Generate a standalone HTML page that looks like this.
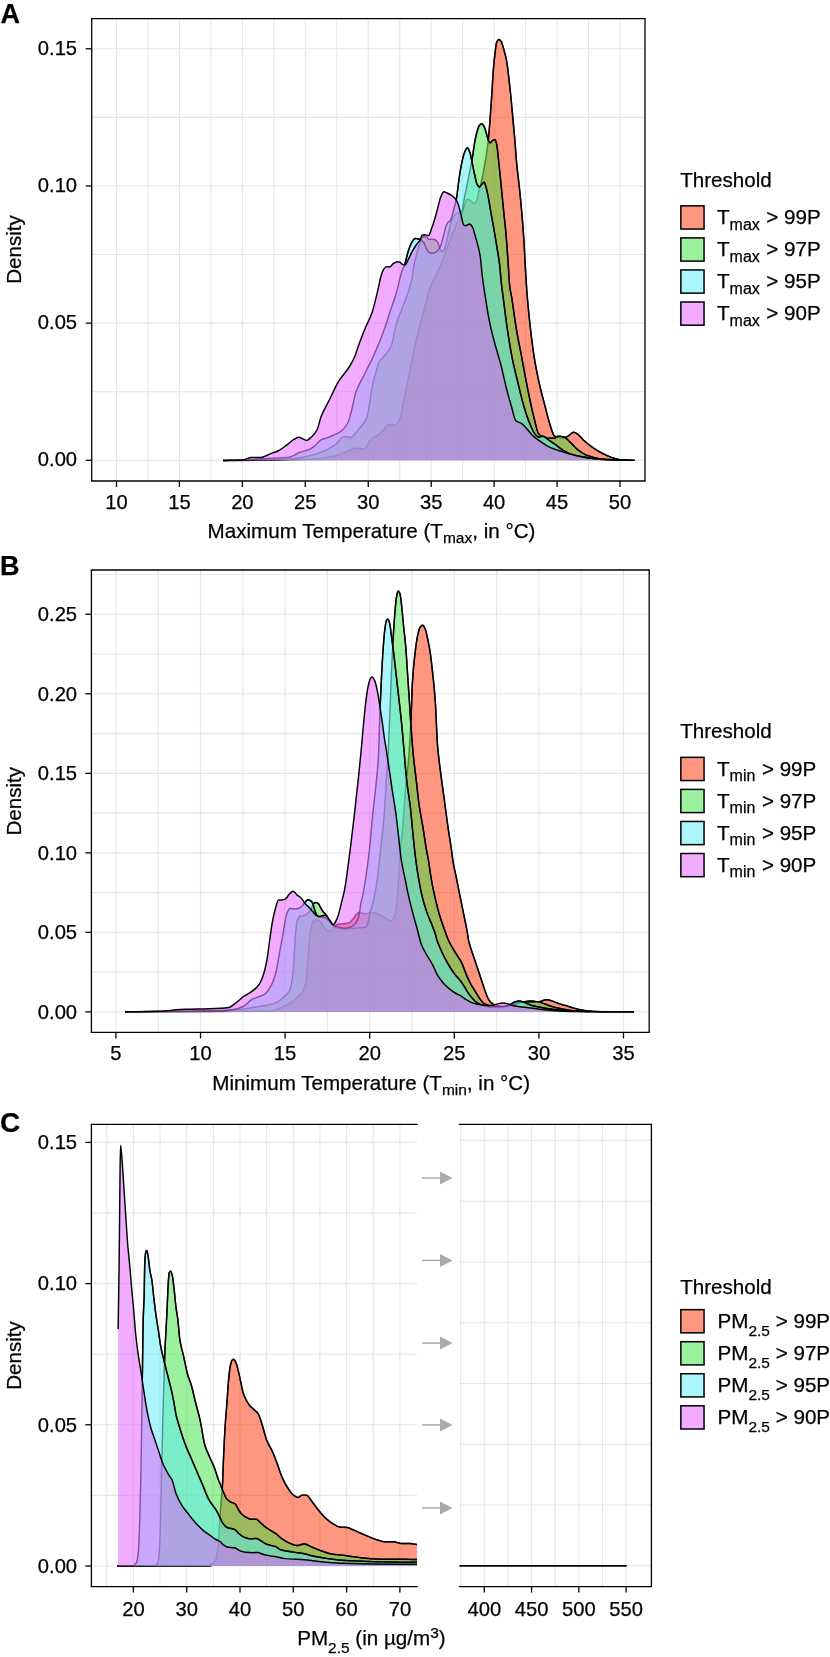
<!DOCTYPE html>
<html><head><meta charset="utf-8"><style>
html,body{margin:0;padding:0;background:#fff;width:830px;height:1657px;overflow:hidden}
svg{font-family:"Liberation Sans", sans-serif;fill:#000;will-change:transform}
text{fill:#000;stroke:#000;stroke-width:0.25px}
</style></head><body>
<svg width="830" height="1657" viewBox="0 0 830 1657" style="position:absolute;left:0;top:0">
<defs><clipPath id="clipC"><rect x="91.4" y="1124.4" width="325.6" height="462.2"/></clipPath></defs>
<line x1="116.50" y1="18.70" x2="116.50" y2="481.00" stroke="#e6e6e6" stroke-width="1.1"/>
<line x1="147.97" y1="18.70" x2="147.97" y2="481.00" stroke="#e6e6e6" stroke-width="1.1"/>
<line x1="179.44" y1="18.70" x2="179.44" y2="481.00" stroke="#e6e6e6" stroke-width="1.1"/>
<line x1="210.91" y1="18.70" x2="210.91" y2="481.00" stroke="#e6e6e6" stroke-width="1.1"/>
<line x1="242.38" y1="18.70" x2="242.38" y2="481.00" stroke="#e6e6e6" stroke-width="1.1"/>
<line x1="273.84" y1="18.70" x2="273.84" y2="481.00" stroke="#e6e6e6" stroke-width="1.1"/>
<line x1="305.31" y1="18.70" x2="305.31" y2="481.00" stroke="#e6e6e6" stroke-width="1.1"/>
<line x1="336.78" y1="18.70" x2="336.78" y2="481.00" stroke="#e6e6e6" stroke-width="1.1"/>
<line x1="368.25" y1="18.70" x2="368.25" y2="481.00" stroke="#e6e6e6" stroke-width="1.1"/>
<line x1="399.72" y1="18.70" x2="399.72" y2="481.00" stroke="#e6e6e6" stroke-width="1.1"/>
<line x1="431.19" y1="18.70" x2="431.19" y2="481.00" stroke="#e6e6e6" stroke-width="1.1"/>
<line x1="462.66" y1="18.70" x2="462.66" y2="481.00" stroke="#e6e6e6" stroke-width="1.1"/>
<line x1="494.12" y1="18.70" x2="494.12" y2="481.00" stroke="#e6e6e6" stroke-width="1.1"/>
<line x1="525.59" y1="18.70" x2="525.59" y2="481.00" stroke="#e6e6e6" stroke-width="1.1"/>
<line x1="557.06" y1="18.70" x2="557.06" y2="481.00" stroke="#e6e6e6" stroke-width="1.1"/>
<line x1="588.53" y1="18.70" x2="588.53" y2="481.00" stroke="#e6e6e6" stroke-width="1.1"/>
<line x1="620.00" y1="18.70" x2="620.00" y2="481.00" stroke="#e6e6e6" stroke-width="1.1"/>
<line x1="91.70" y1="460.30" x2="645.00" y2="460.30" stroke="#e6e6e6" stroke-width="1.1"/>
<line x1="91.70" y1="391.72" x2="645.00" y2="391.72" stroke="#e6e6e6" stroke-width="1.1"/>
<line x1="91.70" y1="323.13" x2="645.00" y2="323.13" stroke="#e6e6e6" stroke-width="1.1"/>
<line x1="91.70" y1="254.55" x2="645.00" y2="254.55" stroke="#e6e6e6" stroke-width="1.1"/>
<line x1="91.70" y1="185.97" x2="645.00" y2="185.97" stroke="#e6e6e6" stroke-width="1.1"/>
<line x1="91.70" y1="117.39" x2="645.00" y2="117.39" stroke="#e6e6e6" stroke-width="1.1"/>
<line x1="91.70" y1="48.80" x2="645.00" y2="48.80" stroke="#e6e6e6" stroke-width="1.1"/>

<path d="M223.00,460.30 L223.00,460.50 C235.33,460.43 247.67,460.40 260.00,460.30 C273.33,460.19 286.67,459.88 300.00,459.50 C306.33,459.32 312.67,459.14 319.00,458.70 C325.67,458.24 332.33,456.56 339.00,454.80 C344.67,453.31 350.33,448.10 356.00,448.10 C358.67,448.10 361.33,449.00 364.00,449.00 C366.33,449.00 368.67,441.36 371.00,439.40 C373.67,437.15 376.33,436.56 379.00,434.60 C382.33,432.15 385.67,424.90 389.00,424.90 C391.00,424.90 393.00,424.90 395.00,424.90 C396.67,424.90 398.33,421.77 400.00,418.20 C401.33,415.35 402.67,405.43 404.00,399.00 C405.33,392.57 406.67,386.05 408.00,379.60 C410.67,366.70 413.33,352.40 416.00,341.00 C418.33,331.02 420.67,322.73 423.00,314.00 C425.67,304.03 428.33,291.59 431.00,285.00 C433.00,280.06 435.00,277.74 437.00,273.50 C438.90,269.47 440.80,264.89 442.70,260.00 C444.13,256.31 445.57,251.86 447.00,248.00 C448.67,243.51 450.33,239.16 452.00,235.00 C453.67,230.84 455.33,226.55 457.00,223.00 C458.57,219.67 460.13,217.41 461.70,214.00 C463.63,209.79 465.57,199.20 467.50,199.20 C468.47,199.20 469.43,200.02 470.40,200.60 C471.60,201.32 472.80,203.50 474.00,203.50 C475.00,203.50 476.00,201.38 477.00,199.20 C477.80,197.45 478.60,192.11 479.40,189.00 C480.00,186.67 480.60,184.98 481.20,182.50 C481.93,179.46 482.67,175.57 483.40,171.70 C484.37,166.60 485.33,161.35 486.30,155.00 C486.97,150.62 487.63,146.14 488.30,140.00 C488.97,133.86 489.63,124.92 490.30,116.10 C490.83,109.04 491.37,100.67 491.90,92.60 C492.40,85.03 492.90,75.24 493.40,69.20 C493.93,62.76 494.47,57.81 495.00,53.50 C495.53,49.19 496.07,43.75 496.60,42.50 C497.37,40.70 498.13,39.40 498.90,39.40 C499.70,39.40 500.50,40.53 501.30,41.70 C502.07,42.83 502.83,46.14 503.60,48.80 C504.63,52.39 505.67,55.66 506.70,61.30 C507.37,64.94 508.03,71.43 508.70,77.00 C509.40,82.85 510.10,88.90 510.80,95.80 C511.47,102.37 512.13,110.40 512.80,117.70 C513.47,125.00 514.13,131.79 514.80,139.60 C515.43,147.02 516.07,156.78 516.70,163.50 C517.57,172.69 518.43,178.68 519.30,187.00 C520.07,194.36 520.83,201.72 521.60,210.50 C522.40,219.66 523.20,229.31 524.00,241.80 C524.50,249.61 525.00,261.72 525.50,270.00 C526.17,281.04 526.83,291.30 527.50,299.30 C528.47,310.90 529.43,319.81 530.40,328.20 C531.67,339.19 532.93,349.19 534.20,357.10 C535.80,367.09 537.40,374.93 539.00,382.20 C540.93,390.98 542.87,397.93 544.80,405.30 C546.73,412.67 548.67,420.88 550.60,426.50 C551.90,430.28 553.20,435.43 554.50,436.10 C557.07,437.42 559.63,438.10 562.20,438.10 C564.13,438.10 566.07,436.98 568.00,436.10 C569.90,435.24 571.80,432.30 573.70,432.30 C575.00,432.30 576.30,433.37 577.60,434.20 C579.53,435.44 581.47,438.26 583.40,440.00 C586.60,442.87 589.80,445.51 593.00,447.70 C596.23,449.92 599.47,451.90 602.70,453.50 C606.53,455.39 610.37,457.16 614.20,458.30 C616.13,458.87 618.07,459.53 620.00,459.70 C624.90,460.13 629.80,460.17 634.70,460.40 L634.70,460.30 Z" fill="#ff2d00" fill-opacity="0.50" stroke="none"/>
<path d="M223.00,460.50 C235.33,460.43 247.67,460.40 260.00,460.30 C273.33,460.19 286.67,459.88 300.00,459.50 C306.33,459.32 312.67,459.14 319.00,458.70 C325.67,458.24 332.33,456.56 339.00,454.80 C344.67,453.31 350.33,448.10 356.00,448.10 C358.67,448.10 361.33,449.00 364.00,449.00 C366.33,449.00 368.67,441.36 371.00,439.40 C373.67,437.15 376.33,436.56 379.00,434.60 C382.33,432.15 385.67,424.90 389.00,424.90 C391.00,424.90 393.00,424.90 395.00,424.90 C396.67,424.90 398.33,421.77 400.00,418.20 C401.33,415.35 402.67,405.43 404.00,399.00 C405.33,392.57 406.67,386.05 408.00,379.60 C410.67,366.70 413.33,352.40 416.00,341.00 C418.33,331.02 420.67,322.73 423.00,314.00 C425.67,304.03 428.33,291.59 431.00,285.00 C433.00,280.06 435.00,277.74 437.00,273.50 C438.90,269.47 440.80,264.89 442.70,260.00 C444.13,256.31 445.57,251.86 447.00,248.00 C448.67,243.51 450.33,239.16 452.00,235.00 C453.67,230.84 455.33,226.55 457.00,223.00 C458.57,219.67 460.13,217.41 461.70,214.00 C463.63,209.79 465.57,199.20 467.50,199.20 C468.47,199.20 469.43,200.02 470.40,200.60 C471.60,201.32 472.80,203.50 474.00,203.50 C475.00,203.50 476.00,201.38 477.00,199.20 C477.80,197.45 478.60,192.11 479.40,189.00 C480.00,186.67 480.60,184.98 481.20,182.50 C481.93,179.46 482.67,175.57 483.40,171.70 C484.37,166.60 485.33,161.35 486.30,155.00 C486.97,150.62 487.63,146.14 488.30,140.00 C488.97,133.86 489.63,124.92 490.30,116.10 C490.83,109.04 491.37,100.67 491.90,92.60 C492.40,85.03 492.90,75.24 493.40,69.20 C493.93,62.76 494.47,57.81 495.00,53.50 C495.53,49.19 496.07,43.75 496.60,42.50 C497.37,40.70 498.13,39.40 498.90,39.40 C499.70,39.40 500.50,40.53 501.30,41.70 C502.07,42.83 502.83,46.14 503.60,48.80 C504.63,52.39 505.67,55.66 506.70,61.30 C507.37,64.94 508.03,71.43 508.70,77.00 C509.40,82.85 510.10,88.90 510.80,95.80 C511.47,102.37 512.13,110.40 512.80,117.70 C513.47,125.00 514.13,131.79 514.80,139.60 C515.43,147.02 516.07,156.78 516.70,163.50 C517.57,172.69 518.43,178.68 519.30,187.00 C520.07,194.36 520.83,201.72 521.60,210.50 C522.40,219.66 523.20,229.31 524.00,241.80 C524.50,249.61 525.00,261.72 525.50,270.00 C526.17,281.04 526.83,291.30 527.50,299.30 C528.47,310.90 529.43,319.81 530.40,328.20 C531.67,339.19 532.93,349.19 534.20,357.10 C535.80,367.09 537.40,374.93 539.00,382.20 C540.93,390.98 542.87,397.93 544.80,405.30 C546.73,412.67 548.67,420.88 550.60,426.50 C551.90,430.28 553.20,435.43 554.50,436.10 C557.07,437.42 559.63,438.10 562.20,438.10 C564.13,438.10 566.07,436.98 568.00,436.10 C569.90,435.24 571.80,432.30 573.70,432.30 C575.00,432.30 576.30,433.37 577.60,434.20 C579.53,435.44 581.47,438.26 583.40,440.00 C586.60,442.87 589.80,445.51 593.00,447.70 C596.23,449.92 599.47,451.90 602.70,453.50 C606.53,455.39 610.37,457.16 614.20,458.30 C616.13,458.87 618.07,459.53 620.00,459.70 C624.90,460.13 629.80,460.17 634.70,460.40" fill="none" stroke="#000" stroke-opacity="0.75" stroke-width="1.45" stroke-linejoin="round"/>

<path d="M223.00,460.30 L223.00,460.50 C238.67,460.40 254.33,460.40 270.00,460.20 C280.00,460.07 290.00,459.00 300.00,457.70 C306.43,456.87 312.87,455.06 319.30,452.90 C324.43,451.17 329.57,448.58 334.70,445.20 C337.90,443.09 341.10,436.50 344.30,436.50 C346.23,436.50 348.17,437.50 350.10,437.50 C353.33,437.50 356.57,431.65 359.80,427.80 C362.03,425.14 364.27,423.46 366.50,418.20 C367.47,415.92 368.43,409.93 369.40,404.70 C370.37,399.47 371.33,390.70 372.30,386.00 C373.70,379.19 375.10,374.76 376.50,370.00 C377.33,367.17 378.17,363.71 379.00,362.20 C380.93,358.69 382.87,357.98 384.80,355.40 C387.07,352.38 389.33,350.17 391.60,344.80 C393.20,341.01 394.80,328.95 396.40,323.60 C398.33,317.14 400.27,313.33 402.20,308.20 C404.13,303.07 406.07,298.74 408.00,292.80 C409.27,288.91 410.53,285.49 411.80,279.30 C412.43,276.20 413.07,269.29 413.70,266.00 C414.77,260.47 415.83,257.31 416.90,253.30 C417.77,250.04 418.63,246.67 419.50,244.00 C420.23,241.74 420.97,238.90 421.70,238.00 C422.47,237.06 423.23,236.20 424.00,236.20 C424.87,236.20 425.73,236.73 426.60,237.20 C427.40,237.64 428.20,239.40 429.00,239.40 C429.97,239.40 430.93,239.10 431.90,239.10 C433.00,239.10 434.10,239.40 435.20,239.80 C436.17,240.15 437.13,241.32 438.10,243.00 C438.57,243.81 439.03,246.33 439.50,247.50 C440.17,249.17 440.83,251.50 441.50,251.50 C442.50,251.50 443.50,250.38 444.50,249.00 C445.33,247.85 446.17,243.43 447.00,240.00 C447.83,236.57 448.67,231.32 449.50,228.00 C450.33,224.68 451.17,221.38 452.00,219.50 C453.00,217.24 454.00,215.27 455.00,214.50 C456.00,213.73 457.00,213.45 458.00,213.00 C459.23,212.45 460.47,212.46 461.70,211.50 C462.67,210.75 463.63,201.83 464.60,197.00 C465.57,192.17 466.53,187.32 467.50,182.50 C468.47,177.68 469.43,173.08 470.40,168.10 C471.03,164.84 471.67,161.72 472.30,158.00 C473.07,153.50 473.83,146.96 474.60,142.80 C475.40,138.46 476.20,134.54 477.00,131.80 C477.77,129.18 478.53,126.41 479.30,125.50 C480.10,124.55 480.90,123.70 481.70,123.70 C482.47,123.70 483.23,125.05 484.00,126.30 C484.80,127.60 485.60,130.87 486.40,133.40 C487.17,135.82 487.93,140.05 488.70,141.20 C489.23,142.00 489.77,142.80 490.30,142.80 C491.07,142.80 491.83,140.79 492.60,140.40 C493.40,139.99 494.20,139.60 495.00,139.60 C495.53,139.60 496.07,141.85 496.60,144.00 C497.37,147.09 498.13,156.54 498.90,163.50 C499.70,170.77 500.50,179.00 501.30,187.00 C502.07,194.67 502.83,202.83 503.60,210.50 C504.40,218.50 505.20,224.88 506.00,234.00 C506.77,242.74 507.53,254.25 508.30,265.30 C508.73,271.54 509.17,281.13 509.60,285.00 C510.40,292.15 511.20,294.21 512.00,299.30 C513.30,307.58 514.60,318.42 515.90,326.30 C517.83,338.02 519.77,346.82 521.70,357.10 C523.63,367.38 525.57,378.41 527.50,388.00 C529.43,397.59 531.37,407.34 533.30,414.90 C535.20,422.33 537.10,432.46 539.00,434.20 C541.57,436.55 544.13,438.10 546.70,438.10 C549.30,438.10 551.90,438.10 554.50,438.10 C555.77,438.10 557.03,436.10 558.30,436.10 C560.23,436.10 562.17,436.55 564.10,437.10 C566.03,437.65 567.97,440.16 569.90,441.90 C572.47,444.21 575.03,447.65 577.60,449.60 C580.80,452.03 584.00,454.31 587.20,455.40 C593.00,457.38 598.80,458.91 604.60,459.30 C614.63,459.97 624.67,460.03 634.70,460.40 L634.70,460.30 Z" fill="#3ce13c" fill-opacity="0.50" stroke="none"/>
<path d="M223.00,460.50 C238.67,460.40 254.33,460.40 270.00,460.20 C280.00,460.07 290.00,459.00 300.00,457.70 C306.43,456.87 312.87,455.06 319.30,452.90 C324.43,451.17 329.57,448.58 334.70,445.20 C337.90,443.09 341.10,436.50 344.30,436.50 C346.23,436.50 348.17,437.50 350.10,437.50 C353.33,437.50 356.57,431.65 359.80,427.80 C362.03,425.14 364.27,423.46 366.50,418.20 C367.47,415.92 368.43,409.93 369.40,404.70 C370.37,399.47 371.33,390.70 372.30,386.00 C373.70,379.19 375.10,374.76 376.50,370.00 C377.33,367.17 378.17,363.71 379.00,362.20 C380.93,358.69 382.87,357.98 384.80,355.40 C387.07,352.38 389.33,350.17 391.60,344.80 C393.20,341.01 394.80,328.95 396.40,323.60 C398.33,317.14 400.27,313.33 402.20,308.20 C404.13,303.07 406.07,298.74 408.00,292.80 C409.27,288.91 410.53,285.49 411.80,279.30 C412.43,276.20 413.07,269.29 413.70,266.00 C414.77,260.47 415.83,257.31 416.90,253.30 C417.77,250.04 418.63,246.67 419.50,244.00 C420.23,241.74 420.97,238.90 421.70,238.00 C422.47,237.06 423.23,236.20 424.00,236.20 C424.87,236.20 425.73,236.73 426.60,237.20 C427.40,237.64 428.20,239.40 429.00,239.40 C429.97,239.40 430.93,239.10 431.90,239.10 C433.00,239.10 434.10,239.40 435.20,239.80 C436.17,240.15 437.13,241.32 438.10,243.00 C438.57,243.81 439.03,246.33 439.50,247.50 C440.17,249.17 440.83,251.50 441.50,251.50 C442.50,251.50 443.50,250.38 444.50,249.00 C445.33,247.85 446.17,243.43 447.00,240.00 C447.83,236.57 448.67,231.32 449.50,228.00 C450.33,224.68 451.17,221.38 452.00,219.50 C453.00,217.24 454.00,215.27 455.00,214.50 C456.00,213.73 457.00,213.45 458.00,213.00 C459.23,212.45 460.47,212.46 461.70,211.50 C462.67,210.75 463.63,201.83 464.60,197.00 C465.57,192.17 466.53,187.32 467.50,182.50 C468.47,177.68 469.43,173.08 470.40,168.10 C471.03,164.84 471.67,161.72 472.30,158.00 C473.07,153.50 473.83,146.96 474.60,142.80 C475.40,138.46 476.20,134.54 477.00,131.80 C477.77,129.18 478.53,126.41 479.30,125.50 C480.10,124.55 480.90,123.70 481.70,123.70 C482.47,123.70 483.23,125.05 484.00,126.30 C484.80,127.60 485.60,130.87 486.40,133.40 C487.17,135.82 487.93,140.05 488.70,141.20 C489.23,142.00 489.77,142.80 490.30,142.80 C491.07,142.80 491.83,140.79 492.60,140.40 C493.40,139.99 494.20,139.60 495.00,139.60 C495.53,139.60 496.07,141.85 496.60,144.00 C497.37,147.09 498.13,156.54 498.90,163.50 C499.70,170.77 500.50,179.00 501.30,187.00 C502.07,194.67 502.83,202.83 503.60,210.50 C504.40,218.50 505.20,224.88 506.00,234.00 C506.77,242.74 507.53,254.25 508.30,265.30 C508.73,271.54 509.17,281.13 509.60,285.00 C510.40,292.15 511.20,294.21 512.00,299.30 C513.30,307.58 514.60,318.42 515.90,326.30 C517.83,338.02 519.77,346.82 521.70,357.10 C523.63,367.38 525.57,378.41 527.50,388.00 C529.43,397.59 531.37,407.34 533.30,414.90 C535.20,422.33 537.10,432.46 539.00,434.20 C541.57,436.55 544.13,438.10 546.70,438.10 C549.30,438.10 551.90,438.10 554.50,438.10 C555.77,438.10 557.03,436.10 558.30,436.10 C560.23,436.10 562.17,436.55 564.10,437.10 C566.03,437.65 567.97,440.16 569.90,441.90 C572.47,444.21 575.03,447.65 577.60,449.60 C580.80,452.03 584.00,454.31 587.20,455.40 C593.00,457.38 598.80,458.91 604.60,459.30 C614.63,459.97 624.67,460.03 634.70,460.40" fill="none" stroke="#000" stroke-opacity="0.75" stroke-width="1.45" stroke-linejoin="round"/>

<path d="M223.00,460.30 L223.00,460.50 C230.67,460.37 238.33,460.33 246.00,460.10 C251.33,459.94 256.67,458.98 262.00,458.70 C266.33,458.47 270.67,458.41 275.00,458.20 C279.33,457.99 283.67,457.90 288.00,457.40 C290.00,457.17 292.00,456.14 294.00,455.30 C295.87,454.52 297.73,453.12 299.60,452.40 C302.50,451.28 305.40,450.96 308.30,449.80 C310.20,449.04 312.10,447.92 314.00,446.60 C316.43,444.90 318.87,440.87 321.30,439.70 C322.77,438.99 324.23,438.73 325.70,438.20 C328.07,437.35 330.43,436.51 332.80,435.50 C335.37,434.40 337.93,433.52 340.50,431.70 C343.07,429.88 345.63,427.03 348.20,422.00 C349.47,419.52 350.73,413.48 352.00,408.60 C353.30,403.59 354.60,395.77 355.90,392.00 C358.47,384.55 361.03,381.26 363.60,376.00 C366.83,369.37 370.07,363.50 373.30,356.40 C376.50,349.37 379.70,341.90 382.90,333.30 C385.47,326.40 388.03,317.79 390.60,310.10 C392.53,304.31 394.47,299.45 396.40,292.80 C398.00,287.29 399.60,278.58 401.20,273.50 C402.47,269.48 403.73,267.35 405.00,263.40 C406.13,259.87 407.27,254.07 408.40,250.70 C409.53,247.33 410.67,244.04 411.80,242.30 C412.93,240.56 414.07,238.50 415.20,238.50 C416.17,238.50 417.13,238.71 418.10,238.90 C418.83,239.04 419.57,239.27 420.30,239.60 C421.43,240.11 422.57,241.07 423.70,242.50 C424.50,243.51 425.30,246.32 426.10,247.80 C427.07,249.59 428.03,251.94 429.00,252.40 C430.10,252.92 431.20,253.30 432.30,253.30 C433.60,253.30 434.90,252.55 436.20,251.80 C437.17,251.24 438.13,250.01 439.10,248.70 C439.57,248.07 440.03,247.34 440.50,246.30 C441.00,245.19 441.50,243.23 442.00,241.50 C442.63,239.31 443.27,236.80 443.90,234.30 C444.53,231.80 445.17,228.12 445.80,226.50 C446.47,224.79 447.13,223.70 447.80,222.80 C448.77,221.49 449.73,221.41 450.70,219.80 C451.23,218.91 451.77,216.29 452.30,214.50 C453.03,212.04 453.77,209.85 454.50,207.00 C455.20,204.28 455.90,201.45 456.60,197.50 C457.40,192.98 458.20,184.63 459.00,179.20 C459.77,173.99 460.53,168.82 461.30,165.10 C462.37,159.92 463.43,154.99 464.50,152.50 C465.43,150.32 466.37,147.80 467.30,147.80 C468.17,147.80 469.03,150.24 469.90,152.50 C470.70,154.59 471.50,159.75 472.30,163.50 C473.07,167.09 473.83,171.20 474.60,174.50 C475.40,177.95 476.20,182.30 477.00,183.90 C477.77,185.43 478.53,187.00 479.30,187.00 C480.10,187.00 480.90,185.40 481.70,184.60 C482.47,183.83 483.23,182.30 484.00,182.30 C484.80,182.30 485.60,185.89 486.40,188.60 C487.17,191.20 487.93,195.48 488.70,199.50 C489.50,203.69 490.30,209.03 491.10,213.60 C492.13,219.50 493.17,224.81 494.20,230.80 C495.23,236.79 496.27,243.09 497.30,249.60 C498.10,254.64 498.90,258.49 499.70,265.30 C500.13,268.99 500.57,275.86 501.00,280.00 C501.80,287.65 502.60,293.03 503.40,299.30 C504.67,309.22 505.93,319.65 507.20,328.20 C508.80,339.00 510.40,349.00 512.00,357.10 C513.93,366.89 515.87,374.18 517.80,382.20 C519.73,390.22 521.67,398.68 523.60,405.30 C525.53,411.92 527.47,418.08 529.40,422.70 C531.33,427.32 533.27,432.13 535.20,434.20 C536.47,435.55 537.73,437.10 539.00,437.10 C540.30,437.10 541.60,436.10 542.90,436.10 C544.83,436.10 546.77,438.70 548.70,440.00 C550.63,441.30 552.57,442.54 554.50,443.90 C557.07,445.70 559.63,448.04 562.20,449.60 C565.40,451.55 568.60,453.53 571.80,454.50 C576.30,455.86 580.80,456.59 585.30,457.30 C591.73,458.32 598.17,459.43 604.60,459.70 C614.63,460.11 624.67,460.17 634.70,460.40 L634.70,460.30 Z" fill="#5aebf5" fill-opacity="0.50" stroke="none"/>
<path d="M223.00,460.50 C230.67,460.37 238.33,460.33 246.00,460.10 C251.33,459.94 256.67,458.98 262.00,458.70 C266.33,458.47 270.67,458.41 275.00,458.20 C279.33,457.99 283.67,457.90 288.00,457.40 C290.00,457.17 292.00,456.14 294.00,455.30 C295.87,454.52 297.73,453.12 299.60,452.40 C302.50,451.28 305.40,450.96 308.30,449.80 C310.20,449.04 312.10,447.92 314.00,446.60 C316.43,444.90 318.87,440.87 321.30,439.70 C322.77,438.99 324.23,438.73 325.70,438.20 C328.07,437.35 330.43,436.51 332.80,435.50 C335.37,434.40 337.93,433.52 340.50,431.70 C343.07,429.88 345.63,427.03 348.20,422.00 C349.47,419.52 350.73,413.48 352.00,408.60 C353.30,403.59 354.60,395.77 355.90,392.00 C358.47,384.55 361.03,381.26 363.60,376.00 C366.83,369.37 370.07,363.50 373.30,356.40 C376.50,349.37 379.70,341.90 382.90,333.30 C385.47,326.40 388.03,317.79 390.60,310.10 C392.53,304.31 394.47,299.45 396.40,292.80 C398.00,287.29 399.60,278.58 401.20,273.50 C402.47,269.48 403.73,267.35 405.00,263.40 C406.13,259.87 407.27,254.07 408.40,250.70 C409.53,247.33 410.67,244.04 411.80,242.30 C412.93,240.56 414.07,238.50 415.20,238.50 C416.17,238.50 417.13,238.71 418.10,238.90 C418.83,239.04 419.57,239.27 420.30,239.60 C421.43,240.11 422.57,241.07 423.70,242.50 C424.50,243.51 425.30,246.32 426.10,247.80 C427.07,249.59 428.03,251.94 429.00,252.40 C430.10,252.92 431.20,253.30 432.30,253.30 C433.60,253.30 434.90,252.55 436.20,251.80 C437.17,251.24 438.13,250.01 439.10,248.70 C439.57,248.07 440.03,247.34 440.50,246.30 C441.00,245.19 441.50,243.23 442.00,241.50 C442.63,239.31 443.27,236.80 443.90,234.30 C444.53,231.80 445.17,228.12 445.80,226.50 C446.47,224.79 447.13,223.70 447.80,222.80 C448.77,221.49 449.73,221.41 450.70,219.80 C451.23,218.91 451.77,216.29 452.30,214.50 C453.03,212.04 453.77,209.85 454.50,207.00 C455.20,204.28 455.90,201.45 456.60,197.50 C457.40,192.98 458.20,184.63 459.00,179.20 C459.77,173.99 460.53,168.82 461.30,165.10 C462.37,159.92 463.43,154.99 464.50,152.50 C465.43,150.32 466.37,147.80 467.30,147.80 C468.17,147.80 469.03,150.24 469.90,152.50 C470.70,154.59 471.50,159.75 472.30,163.50 C473.07,167.09 473.83,171.20 474.60,174.50 C475.40,177.95 476.20,182.30 477.00,183.90 C477.77,185.43 478.53,187.00 479.30,187.00 C480.10,187.00 480.90,185.40 481.70,184.60 C482.47,183.83 483.23,182.30 484.00,182.30 C484.80,182.30 485.60,185.89 486.40,188.60 C487.17,191.20 487.93,195.48 488.70,199.50 C489.50,203.69 490.30,209.03 491.10,213.60 C492.13,219.50 493.17,224.81 494.20,230.80 C495.23,236.79 496.27,243.09 497.30,249.60 C498.10,254.64 498.90,258.49 499.70,265.30 C500.13,268.99 500.57,275.86 501.00,280.00 C501.80,287.65 502.60,293.03 503.40,299.30 C504.67,309.22 505.93,319.65 507.20,328.20 C508.80,339.00 510.40,349.00 512.00,357.10 C513.93,366.89 515.87,374.18 517.80,382.20 C519.73,390.22 521.67,398.68 523.60,405.30 C525.53,411.92 527.47,418.08 529.40,422.70 C531.33,427.32 533.27,432.13 535.20,434.20 C536.47,435.55 537.73,437.10 539.00,437.10 C540.30,437.10 541.60,436.10 542.90,436.10 C544.83,436.10 546.77,438.70 548.70,440.00 C550.63,441.30 552.57,442.54 554.50,443.90 C557.07,445.70 559.63,448.04 562.20,449.60 C565.40,451.55 568.60,453.53 571.80,454.50 C576.30,455.86 580.80,456.59 585.30,457.30 C591.73,458.32 598.17,459.43 604.60,459.70 C614.63,460.11 624.67,460.17 634.70,460.40" fill="none" stroke="#000" stroke-opacity="0.75" stroke-width="1.45" stroke-linejoin="round"/>

<path d="M223.00,460.30 L223.00,460.50 C229.77,460.20 236.53,460.17 243.30,459.60 C245.93,459.38 248.57,457.50 251.20,457.50 C254.33,457.50 257.47,457.50 260.60,457.50 C263.97,457.50 267.33,454.84 270.70,453.60 C273.13,452.70 275.57,452.12 278.00,451.00 C280.87,449.67 283.73,447.30 286.60,445.20 C289.03,443.42 291.47,440.75 293.90,439.40 C295.57,438.47 297.23,437.20 298.90,437.20 C300.10,437.20 301.30,438.21 302.50,438.70 C303.90,439.28 305.30,440.40 306.70,440.40 C308.20,440.40 309.70,438.54 311.20,437.20 C313.13,435.47 315.07,433.56 317.00,430.00 C318.40,427.42 319.80,419.87 321.20,416.30 C323.77,409.76 326.33,405.95 328.90,400.80 C332.13,394.31 335.37,386.65 338.60,381.40 C342.13,375.67 345.67,372.59 349.20,367.00 C350.80,364.47 352.40,361.83 354.00,358.30 C355.60,354.77 357.20,349.12 358.80,344.80 C361.03,338.77 363.27,332.88 365.50,327.50 C367.67,322.28 369.83,319.00 372.00,312.80 C373.30,309.08 374.60,303.61 375.90,298.40 C376.87,294.53 377.83,290.09 378.80,285.80 C379.43,282.99 380.07,279.36 380.70,277.20 C381.67,273.90 382.63,270.90 383.60,269.50 C384.57,268.10 385.53,266.60 386.50,266.60 C387.47,266.60 388.43,267.00 389.40,267.00 C390.70,267.00 392.00,264.54 393.30,263.70 C394.57,262.88 395.83,261.70 397.10,261.70 C398.07,261.70 399.03,261.91 400.00,262.20 C400.67,262.40 401.33,263.64 402.00,264.00 C403.00,264.54 404.00,265.10 405.00,265.10 C406.13,265.10 407.27,261.29 408.40,259.20 C409.83,256.56 411.27,253.23 412.70,250.70 C414.10,248.23 415.50,245.97 416.90,244.00 C418.00,242.45 419.10,241.73 420.20,239.80 C420.77,238.81 421.33,235.83 421.90,235.50 C422.77,235.00 423.63,234.70 424.50,234.70 C425.90,234.70 427.30,235.50 428.70,235.50 C429.53,235.50 430.37,231.78 431.20,229.60 C432.33,226.64 433.47,223.24 434.60,219.50 C435.73,215.76 436.87,211.11 438.00,206.90 C438.83,203.81 439.67,199.61 440.50,197.60 C441.63,194.87 442.77,191.70 443.90,191.70 C445.00,191.70 446.10,192.49 447.20,193.00 C448.90,193.78 450.60,194.64 452.30,195.90 C453.43,196.74 454.57,197.76 455.70,199.30 C456.53,200.43 457.37,202.13 458.20,204.30 C459.03,206.47 459.87,210.60 460.70,213.60 C461.83,217.68 462.97,225.40 464.10,225.40 C464.93,225.40 465.77,225.40 466.60,225.40 C467.57,225.40 468.53,224.00 469.50,224.00 C470.50,224.00 471.50,225.45 472.50,227.00 C473.37,228.34 474.23,232.42 475.10,235.50 C476.73,241.30 478.37,245.52 480.00,255.00 C480.83,259.84 481.67,271.54 482.50,278.00 C483.37,284.72 484.23,289.85 485.10,295.40 C486.37,303.51 487.63,312.09 488.90,318.60 C490.20,325.28 491.50,330.70 492.80,335.90 C494.40,342.31 496.00,347.58 497.60,353.30 C498.87,357.83 500.13,361.79 501.40,366.70 C503.03,373.03 504.67,381.57 506.30,388.00 C507.90,394.30 509.50,399.87 511.10,405.30 C512.70,410.73 514.30,419.28 515.90,420.70 C517.83,422.41 519.77,422.30 521.70,423.60 C523.30,424.68 524.90,426.71 526.50,428.40 C528.77,430.80 531.03,434.04 533.30,436.10 C535.87,438.43 538.43,440.17 541.00,441.90 C544.20,444.05 547.40,446.31 550.60,447.70 C554.47,449.39 558.33,450.42 562.20,451.60 C567.97,453.36 573.73,455.22 579.50,456.40 C584.63,457.45 589.77,458.48 594.90,458.90 C603.27,459.59 611.63,460.03 620.00,460.20 C624.90,460.30 629.80,460.33 634.70,460.40 L634.70,460.30 Z" fill="#e65aff" fill-opacity="0.50" stroke="none"/>
<path d="M223.00,460.50 C229.77,460.20 236.53,460.17 243.30,459.60 C245.93,459.38 248.57,457.50 251.20,457.50 C254.33,457.50 257.47,457.50 260.60,457.50 C263.97,457.50 267.33,454.84 270.70,453.60 C273.13,452.70 275.57,452.12 278.00,451.00 C280.87,449.67 283.73,447.30 286.60,445.20 C289.03,443.42 291.47,440.75 293.90,439.40 C295.57,438.47 297.23,437.20 298.90,437.20 C300.10,437.20 301.30,438.21 302.50,438.70 C303.90,439.28 305.30,440.40 306.70,440.40 C308.20,440.40 309.70,438.54 311.20,437.20 C313.13,435.47 315.07,433.56 317.00,430.00 C318.40,427.42 319.80,419.87 321.20,416.30 C323.77,409.76 326.33,405.95 328.90,400.80 C332.13,394.31 335.37,386.65 338.60,381.40 C342.13,375.67 345.67,372.59 349.20,367.00 C350.80,364.47 352.40,361.83 354.00,358.30 C355.60,354.77 357.20,349.12 358.80,344.80 C361.03,338.77 363.27,332.88 365.50,327.50 C367.67,322.28 369.83,319.00 372.00,312.80 C373.30,309.08 374.60,303.61 375.90,298.40 C376.87,294.53 377.83,290.09 378.80,285.80 C379.43,282.99 380.07,279.36 380.70,277.20 C381.67,273.90 382.63,270.90 383.60,269.50 C384.57,268.10 385.53,266.60 386.50,266.60 C387.47,266.60 388.43,267.00 389.40,267.00 C390.70,267.00 392.00,264.54 393.30,263.70 C394.57,262.88 395.83,261.70 397.10,261.70 C398.07,261.70 399.03,261.91 400.00,262.20 C400.67,262.40 401.33,263.64 402.00,264.00 C403.00,264.54 404.00,265.10 405.00,265.10 C406.13,265.10 407.27,261.29 408.40,259.20 C409.83,256.56 411.27,253.23 412.70,250.70 C414.10,248.23 415.50,245.97 416.90,244.00 C418.00,242.45 419.10,241.73 420.20,239.80 C420.77,238.81 421.33,235.83 421.90,235.50 C422.77,235.00 423.63,234.70 424.50,234.70 C425.90,234.70 427.30,235.50 428.70,235.50 C429.53,235.50 430.37,231.78 431.20,229.60 C432.33,226.64 433.47,223.24 434.60,219.50 C435.73,215.76 436.87,211.11 438.00,206.90 C438.83,203.81 439.67,199.61 440.50,197.60 C441.63,194.87 442.77,191.70 443.90,191.70 C445.00,191.70 446.10,192.49 447.20,193.00 C448.90,193.78 450.60,194.64 452.30,195.90 C453.43,196.74 454.57,197.76 455.70,199.30 C456.53,200.43 457.37,202.13 458.20,204.30 C459.03,206.47 459.87,210.60 460.70,213.60 C461.83,217.68 462.97,225.40 464.10,225.40 C464.93,225.40 465.77,225.40 466.60,225.40 C467.57,225.40 468.53,224.00 469.50,224.00 C470.50,224.00 471.50,225.45 472.50,227.00 C473.37,228.34 474.23,232.42 475.10,235.50 C476.73,241.30 478.37,245.52 480.00,255.00 C480.83,259.84 481.67,271.54 482.50,278.00 C483.37,284.72 484.23,289.85 485.10,295.40 C486.37,303.51 487.63,312.09 488.90,318.60 C490.20,325.28 491.50,330.70 492.80,335.90 C494.40,342.31 496.00,347.58 497.60,353.30 C498.87,357.83 500.13,361.79 501.40,366.70 C503.03,373.03 504.67,381.57 506.30,388.00 C507.90,394.30 509.50,399.87 511.10,405.30 C512.70,410.73 514.30,419.28 515.90,420.70 C517.83,422.41 519.77,422.30 521.70,423.60 C523.30,424.68 524.90,426.71 526.50,428.40 C528.77,430.80 531.03,434.04 533.30,436.10 C535.87,438.43 538.43,440.17 541.00,441.90 C544.20,444.05 547.40,446.31 550.60,447.70 C554.47,449.39 558.33,450.42 562.20,451.60 C567.97,453.36 573.73,455.22 579.50,456.40 C584.63,457.45 589.77,458.48 594.90,458.90 C603.27,459.59 611.63,460.03 620.00,460.20 C624.90,460.30 629.80,460.33 634.70,460.40" fill="none" stroke="#000" stroke-opacity="1" stroke-width="1.45" stroke-linejoin="round"/>

<path d="M488.30,140.00 L488.47,138.41 L488.63,136.71 L488.80,134.91 L488.97,133.03 L489.13,131.08 L489.30,129.05 L489.47,126.97 L489.63,124.85 L489.80,122.69 L489.97,120.51 L490.13,118.31 L490.30,116.10 L490.43,114.31 L490.57,112.47 L490.70,110.59 L490.83,108.67 L490.97,106.71 L491.10,104.73 L491.23,102.73 L491.37,100.71 L491.50,98.69 L491.63,96.65 L491.77,94.62 L491.90,92.60 L492.02,90.67 L492.15,88.66 L492.27,86.60 L492.40,84.51 L492.52,82.41 L492.65,80.33 L492.77,78.27 L492.90,76.27 L493.02,74.34 L493.15,72.50 L493.27,70.78 L493.40,69.20 L493.53,67.62 L493.67,66.10 L493.80,64.64 L493.93,63.23 L494.07,61.86 L494.20,60.55 L494.33,59.28 L494.47,58.06 L494.60,56.87 L494.73,55.71 L494.87,54.59 L495.00,53.50 L495.13,52.40 L495.27,51.27 L495.40,50.14 L495.53,49.01 L495.67,47.91 L495.80,46.85 L495.93,45.86 L496.07,44.95 L496.20,44.14 L496.33,43.45 L496.47,42.90 L496.60,42.50 L496.79,42.06 L496.98,41.65 L497.18,41.26 L497.37,40.90 L497.56,40.57 L497.75,40.27 L497.94,40.02 L498.13,39.80 L498.32,39.63 L498.52,39.50 L498.71,39.43 L498.90,39.40 L499.10,39.42 L499.30,39.49 L499.50,39.59 L499.70,39.74 L499.90,39.91 L500.10,40.11 L500.30,40.34 L500.50,40.58 L500.70,40.85 L500.90,41.12 L501.10,41.41 L501.30,41.70 L501.49,42.03 L501.68,42.43 L501.88,42.91 L502.07,43.45 L502.26,44.04 L502.45,44.67 L502.64,45.34 L502.83,46.03 L503.03,46.73 L503.22,47.43 L503.41,48.12 L503.60,48.80 L503.86,49.69 L504.12,50.58 L504.38,51.48 L504.63,52.38 L504.89,53.32 L505.15,54.28 L505.41,55.29 L505.67,56.35 L505.92,57.47 L506.18,58.67 L506.44,59.94 L506.70,61.30 L506.87,62.27 L507.03,63.34 L507.20,64.50 L507.37,65.75 L507.53,67.06 L507.70,68.42 L507.87,69.83 L508.03,71.26 L508.20,72.71 L508.37,74.15 L508.53,75.59 L508.70,77.00 L508.87,78.47 L509.05,79.95 L509.22,81.44 L509.40,82.94 L509.57,84.46 L509.75,86.01 L509.92,87.57 L510.10,89.16 L510.27,90.77 L510.45,92.42 L510.63,94.09 L510.80,95.80 L510.97,97.47 L511.13,99.20 L511.30,100.97 L511.47,102.78 L511.63,104.62 L511.80,106.48 L511.97,108.35 L512.13,110.24 L512.30,112.12 L512.47,114.00 L512.63,115.86 L512.80,117.70 L512.97,119.52 L513.13,121.31 L513.30,123.10 L513.47,124.89 L513.63,126.67 L513.80,128.46 L513.97,130.26 L514.13,132.07 L514.30,133.91 L514.47,135.77 L514.63,137.67 L514.80,139.60 L514.96,141.50 L515.12,143.48 L515.27,145.52 L515.43,147.60 L515.59,149.70 L515.75,151.81 L515.91,153.91 L516.07,155.97 L516.23,157.97 L516.38,159.91 L516.54,161.76 L516.70,163.50 L516.92,165.73 L517.13,167.86 L517.35,169.88 L517.57,171.83 L517.78,173.72 L518.00,175.58 L518.22,177.41 L518.43,179.25 L518.65,181.11 L518.87,183.01 L519.08,184.96 L519.30,187.00 L519.49,188.84 L519.68,190.69 L519.88,192.54 L520.07,194.41 L520.26,196.30 L520.45,198.22 L520.64,200.16 L520.83,202.14 L521.03,204.16 L521.22,206.22 L521.41,208.33 L521.60,210.50 L521.80,212.80 L522.00,215.13 L522.20,217.50 L522.40,219.91 L522.60,222.37 L522.80,224.90 L523.00,227.49 L523.20,230.17 L523.40,232.93 L523.60,235.78 L523.80,238.73 L524.00,241.80 L524.12,243.84 L524.25,246.03 L524.38,248.34 L524.50,250.74 L524.62,253.21 L524.75,255.72 L524.88,258.24 L525.00,260.74 L525.12,263.20 L525.25,265.58 L525.38,267.85 L525.50,270.00 L525.67,272.74 L525.83,275.45 L526.00,278.11 L526.17,280.73 L526.33,283.29 L526.50,285.79 L526.67,288.23 L526.83,290.60 L527.00,292.90 L527.17,295.12 L527.33,297.25 L527.50,299.30 L527.74,302.15 L527.98,304.89 L528.23,307.53 L528.47,310.08 L528.71,312.56 L528.95,314.95 L529.19,317.29 L529.43,319.56 L529.67,321.78 L529.92,323.95 L530.16,326.09 L530.40,328.20 L530.72,330.93 L531.03,333.61 L531.35,336.24 L531.67,338.82 L531.98,341.34 L532.30,343.81 L532.62,346.21 L532.93,348.54 L533.25,350.79 L533.57,352.98 L533.88,355.08 L534.20,357.10 L534.60,359.55 L535.00,361.92 L535.40,364.21 L535.80,366.43 L536.20,368.58 L536.60,370.67 L537.00,372.70 L537.40,374.68 L537.80,376.62 L538.20,378.51 L538.60,380.37 L539.00,382.20 L539.48,384.36 L539.97,386.45 L540.45,388.48 L540.93,390.45 L541.42,392.38 L541.90,394.28 L542.38,396.14 L542.87,397.99 L543.35,399.82 L543.83,401.64 L544.32,403.46 L544.80,405.30 L545.28,407.16 L545.77,409.04 L546.25,410.93 L546.73,412.82 L547.22,414.70 L547.70,416.56 L548.18,418.38 L548.67,420.15 L549.15,421.85 L549.63,423.49 L550.12,425.04 L550.60,426.50 L550.92,427.47 L551.25,428.48 L551.58,429.50 L551.90,430.52 L552.22,431.51 L552.55,432.46 L552.88,433.35 L553.20,434.15 L553.53,434.85 L553.85,435.42 L554.17,435.84 L554.50,436.10 L555.14,436.42 L555.78,436.71 L556.42,436.97" fill="none" stroke="#000" stroke-width="1.45" stroke-linejoin="round" stroke-linecap="butt"/>
<path d="M565.10,437.43 L565.58,437.23 L566.07,437.01 L566.55,436.78 L567.03,436.55 L567.52,436.32 L568.00,436.10 L568.47,435.84 L568.95,435.52 L569.42,435.14 L569.90,434.73 L570.37,434.30 L570.85,433.88 L571.33,433.47 L571.80,433.09 L572.28,432.77 L572.75,432.52 L573.23,432.36 L573.70,432.30 L574.02,432.32 L574.35,432.38 L574.68,432.48 L575.00,432.61 L575.32,432.76 L575.65,432.94 L575.98,433.13 L576.30,433.34 L576.62,433.55 L576.95,433.77 L577.28,433.99 L577.60,434.20 L578.08,434.54 L578.57,434.94 L579.05,435.38 L579.53,435.87 L580.02,436.38 L580.50,436.91 L580.98,437.46 L581.47,438.00 L581.95,438.54 L582.43,439.05 L582.92,439.54 L583.40,440.00 L584.20,440.71 L585.00,441.42 L585.80,442.11 L586.60,442.79 L587.40,443.45 L588.20,444.11 L589.00,444.74 L589.80,445.37 L590.60,445.98 L591.40,446.57 L592.20,447.14 L593.00,447.70 L593.81,448.25 L594.62,448.79 L595.42,449.32 L596.23,449.83 L597.04,450.34 L597.85,450.83 L598.66,451.31 L599.47,451.78 L600.28,452.23 L601.08,452.67 L601.89,453.09 L602.70,453.50 L603.66,453.97 L604.62,454.43 L605.58,454.89 L606.53,455.33 L607.49,455.77 L608.45,456.18 L609.41,456.59 L610.37,456.97 L611.33,457.34 L612.28,457.68 L613.24,458.00 L614.20,458.30 L614.68,458.44 L615.17,458.59 L615.65,458.74 L616.13,458.88 L616.62,459.02 L617.10,459.15 L617.58,459.28 L618.07,459.39 L618.55,459.49 L619.03,459.58 L619.52,459.65 L620.00,459.70 L621.23,459.80 L622.45,459.89 L623.67,459.96 L624.90,460.02 L626.12,460.08" fill="none" stroke="#000" stroke-width="1.45" stroke-linejoin="round" stroke-linecap="butt"/>
<path d="M471.82,160.69 L471.98,159.81 L472.14,158.92 L472.30,158.00 L472.49,156.83 L472.68,155.60 L472.88,154.31 L473.07,152.98 L473.26,151.63 L473.45,150.27 L473.64,148.92 L473.83,147.59 L474.03,146.29 L474.22,145.06 L474.41,143.89 L474.60,142.80 L474.80,141.73 L475.00,140.67 L475.20,139.64 L475.40,138.63 L475.60,137.65 L475.80,136.70 L476.00,135.79 L476.20,134.91 L476.40,134.06 L476.60,133.26 L476.80,132.51 L477.00,131.80 L477.19,131.14 L477.38,130.49 L477.57,129.84 L477.77,129.20 L477.96,128.59 L478.15,128.01 L478.34,127.46 L478.53,126.95 L478.73,126.50 L478.92,126.10 L479.11,125.76 L479.30,125.50 L479.50,125.27 L479.70,125.04 L479.90,124.82 L480.10,124.61 L480.30,124.42 L480.50,124.25 L480.70,124.09 L480.90,123.96 L481.10,123.85 L481.30,123.77 L481.50,123.72 L481.70,123.70 L481.89,123.73 L482.08,123.81 L482.27,123.93 L482.47,124.10 L482.66,124.30 L482.85,124.53 L483.04,124.79 L483.23,125.07 L483.43,125.37 L483.62,125.67 L483.81,125.99 L484.00,126.30 L484.20,126.67 L484.40,127.10 L484.60,127.60 L484.80,128.16 L485.00,128.76 L485.20,129.39 L485.40,130.05 L485.60,130.73 L485.80,131.41 L486.00,132.09 L486.20,132.75 L486.40,133.40 L486.59,134.04 L486.78,134.74 L486.97,135.48 L487.17,136.24 L487.36,137.02 L487.55,137.78 L487.74,138.51 L487.93,139.21 L488.12,139.84 L488.32,140.39 L488.51,140.85 L488.70,141.20 L488.83,141.40 L488.97,141.60 L489.10,141.79 L489.23,141.97 L489.37,142.14 L489.50,142.30 L489.63,142.44 L489.77,142.56 L489.90,142.66 L490.03,142.74 L490.17,142.78 L490.30,142.80 L490.49,142.76 L490.68,142.65 L490.88,142.48 L491.07,142.26 L491.26,142.02 L491.45,141.75 L491.64,141.47 L491.83,141.20 L492.03,140.94 L492.22,140.71 L492.41,140.53 L492.60,140.40 L492.80,140.30 L493.00,140.20 L493.20,140.10 L493.40,140.01 L493.60,139.93 L493.80,139.85 L494.00,139.78 L494.20,139.72 L494.40,139.67 L494.60,139.63 L494.80,139.61 L495.00,139.60 L495.13,139.65 L495.27,139.78 L495.40,139.99 L495.53,140.26 L495.67,140.60 L495.80,140.99 L495.93,141.43 L496.07,141.90 L496.20,142.41 L496.33,142.93 L496.47,143.46 L496.60,144.00 L496.79,144.90 L496.98,146.03 L497.18,147.37 L497.37,148.88 L497.56,150.53 L497.75,152.30 L497.94,154.14 L498.13,156.04 L498.32,157.95 L498.52,159.85 L498.71,161.71 L498.90,163.50 L499.10,165.34 L499.30,167.21 L499.50,169.11 L499.70,171.04 L499.90,173.00 L500.10,174.97 L500.30,176.96 L500.50,178.97 L500.70,180.97 L500.90,182.99 L501.10,185.00 L501.30,187.00 L501.49,188.93 L501.68,190.87 L501.88,192.83 L502.07,194.80 L502.26,196.77 L502.45,198.75 L502.64,200.73 L502.83,202.70 L503.03,204.67 L503.22,206.63 L503.41,208.57 L503.60,210.50 L503.80,212.47 L504.00,214.39 L504.20,216.26 L504.40,218.12 L504.60,219.97 L504.80,221.83 L505.00,223.71 L505.20,225.63 L505.40,227.61 L505.60,229.65 L505.80,231.77 L506.00,234.00 L506.19,236.24 L506.38,238.59 L506.57,241.02 L506.77,243.54 L506.96,246.14 L507.15,248.78 L507.34,251.48 L507.53,254.22 L507.73,256.98 L507.92,259.75 L508.11,262.53 L508.30,265.30 L508.41,266.93 L508.52,268.66 L508.62,270.47 L508.73,272.32 L508.84,274.19 L508.95,276.04 L509.06,277.84 L509.17,279.56 L509.28,281.17 L509.38,282.63 L509.49,283.92 L509.60,285.00 L509.80,286.69 L510.00,288.19 L510.20,289.54 L510.40,290.75 L510.60,291.87 L510.80,292.92 L511.00,293.93 L511.20,294.92 L511.40,295.92 L511.60,296.97 L511.80,298.09 L512.00,299.30 L512.32,301.42 L512.65,303.63 L512.98,305.90 L513.30,308.23 L513.62,310.58 L513.95,312.95 L514.27,315.31 L514.60,317.64 L514.92,319.92 L515.25,322.14 L515.58,324.27 L515.90,326.30 L516.38,329.17 L516.87,331.94 L517.35,334.61 L517.83,337.21 L518.32,339.75 L518.80,342.24 L519.28,344.70 L519.77,347.15 L520.25,349.60 L520.73,352.06 L521.22,354.56 L521.70,357.10 L522.18,359.69 L522.67,362.29 L523.15,364.92 L523.63,367.55 L524.12,370.18 L524.60,372.81 L525.08,375.42 L525.57,378.01 L526.05,380.57 L526.53,383.10 L527.02,385.57 L527.50,388.00 L527.98,390.40 L528.47,392.80 L528.95,395.18 L529.43,397.55 L529.92,399.90 L530.40,402.21 L530.88,404.48 L531.37,406.69 L531.85,408.85 L532.33,410.95 L532.82,412.96 L533.30,414.90 L533.77,416.81 L534.25,418.79 L534.72,420.81 L535.20,422.82 L535.67,424.79 L536.15,426.69 L536.62,428.46 L537.10,430.08 L537.58,431.50 L538.05,432.68 L538.52,433.60 L539.00,434.20 L539.64,434.77 L540.28,435.30 L540.92,435.80 L541.57,436.25" fill="none" stroke="#000" stroke-width="1.45" stroke-linejoin="round" stroke-linecap="butt"/>
<path d="M546.70,438.10 L547.35,438.10 L548.00,438.10 L548.65,438.10 L549.30,438.10 L549.95,438.10 L550.60,438.10 L551.25,438.10 L551.90,438.10 L552.55,438.10 L553.20,438.10 L553.85,438.10 L554.50,438.10 L554.82,438.06 L555.13,437.95 L555.45,437.79 L555.77,437.58 L556.08,437.35 L556.40,437.10 L556.72,436.85 L557.03,436.62 L557.35,436.41 L557.67,436.25 L557.98,436.14 L558.30,436.10 L558.78,436.11 L559.27,436.14 L559.75,436.18 L560.23,436.24 L560.72,436.31 L561.20,436.39 L561.68,436.49 L562.17,436.60 L562.65,436.71 L563.13,436.83 L563.62,436.96 L564.10,437.10 L564.58,437.28 L565.07,437.53 L565.55,437.84 L566.03,438.20 L566.52,438.61 L567.00,439.05 L567.48,439.52 L567.97,440.00 L568.45,440.49 L568.93,440.98 L569.42,441.45 L569.90,441.90 L570.54,442.50 L571.18,443.14 L571.82,443.81 L572.47,444.49 L573.11,445.19 L573.75,445.89 L574.39,446.58 L575.03,447.25 L575.67,447.90 L576.32,448.51 L576.96,449.08 L577.60,449.60 L578.40,450.20 L579.20,450.80 L580.00,451.38 L580.80,451.94 L581.60,452.48 L582.40,453.00 L583.20,453.49 L584.00,453.95 L584.80,454.37 L585.60,454.76 L586.40,455.10 L587.20,455.40 L588.65,455.89 L590.10,456.35 L591.55,456.79 L593.00,457.21 L594.45,457.59 L595.90,457.95 L597.35,458.27 L598.80,458.56 L600.25,458.81 L601.70,459.01 L603.15,459.18 L604.60,459.30 L607.11,459.46 L609.62,459.59 L612.12,459.70 L614.63,459.80 L617.14,459.89 L619.65,459.97 L622.16,460.03 L624.67,460.10 L627.18,460.17 L629.68,460.24" fill="none" stroke="#000" stroke-width="1.45" stroke-linejoin="round" stroke-linecap="butt"/>
<path d="M404.68,264.35 L405.00,263.40 L405.28,262.47 L405.57,261.47 L405.85,260.40 L406.13,259.29 L406.42,258.14 L406.70,256.99 L406.98,255.84 L407.27,254.71 L407.55,253.61 L407.83,252.57 L408.12,251.59 L408.40,250.70 L408.68,249.86 L408.97,249.03 L409.25,248.21 L409.53,247.41 L409.82,246.64 L410.10,245.89 L410.38,245.18 L410.67,244.50 L410.95,243.87 L411.23,243.29 L411.52,242.77 L411.80,242.30 L412.08,241.86 L412.37,241.41 L412.65,240.97 L412.93,240.54 L413.22,240.13 L413.50,239.75 L413.78,239.40 L414.07,239.10 L414.35,238.85 L414.63,238.66 L414.92,238.54 L415.20,238.50 L415.44,238.50 L415.68,238.52 L415.93,238.54 L416.17,238.56 L416.41,238.59 L416.65,238.63 L416.89,238.67 L417.13,238.71 L417.38,238.76 L417.62,238.80 L417.86,238.85 L418.10,238.90 L418.28,238.94 L418.47,238.98 L418.65,239.02 L418.83,239.07 L419.02,239.12 L419.20,239.18 L419.38,239.24 L419.57,239.30 L419.75,239.37 L419.93,239.44 L420.12,239.52" fill="none" stroke="#000" stroke-width="1.45" stroke-linejoin="round" stroke-linecap="butt"/>
<path d="M456.25,199.39 L456.43,198.47 L456.60,197.50 L456.80,196.29 L457.00,194.95 L457.20,193.50 L457.40,191.96 L457.60,190.35 L457.80,188.69 L458.00,187.02 L458.20,185.36 L458.40,183.72 L458.60,182.13 L458.80,180.62 L459.00,179.20 L459.19,177.90 L459.38,176.61 L459.57,175.32 L459.77,174.06 L459.96,172.81 L460.15,171.59 L460.34,170.40 L460.53,169.25 L460.73,168.14 L460.92,167.07 L461.11,166.06 L461.30,165.10 L461.57,163.81 L461.83,162.54 L462.10,161.30 L462.37,160.09 L462.63,158.91 L462.90,157.79 L463.17,156.73 L463.43,155.72 L463.70,154.79 L463.97,153.94 L464.23,153.17 L464.50,152.50 L464.73,151.95 L464.97,151.40 L465.20,150.85 L465.43,150.31 L465.67,149.81 L465.90,149.33 L466.13,148.91 L466.37,148.53 L466.60,148.23 L466.83,148.00 L467.07,147.85 L467.30,147.80 L467.52,147.85 L467.73,147.99 L467.95,148.22 L468.17,148.52 L468.38,148.88 L468.60,149.30 L468.82,149.77 L469.03,150.28 L469.25,150.81 L469.47,151.37 L469.68,151.93 L469.90,152.50 L470.10,153.08 L470.30,153.78 L470.50,154.57 L470.70,155.45 L470.90,156.39 L471.10,157.38 L471.30,158.40 L471.50,159.45 L471.70,160.49 L471.90,161.53 L472.10,162.54 L472.30,163.50 L472.49,164.41 L472.68,165.33 L472.88,166.27 L473.07,167.21 L473.26,168.16 L473.45,169.11 L473.64,170.05 L473.83,170.98 L474.03,171.89 L474.22,172.79 L474.41,173.66 L474.60,174.50 L474.80,175.38 L475.00,176.28 L475.20,177.20 L475.40,178.11 L475.60,179.02 L475.80,179.89 L476.00,180.73 L476.20,181.52 L476.40,182.24 L476.60,182.89 L476.80,183.45 L477.00,183.90 L477.19,184.28 L477.38,184.66 L477.57,185.03 L477.77,185.38 L477.96,185.72 L478.15,186.02 L478.34,186.30 L478.53,186.54 L478.73,186.73 L478.92,186.88 L479.11,186.97 L479.30,187.00 L479.50,186.97 L479.70,186.88 L479.90,186.74 L480.10,186.56 L480.30,186.34 L480.50,186.10 L480.70,185.84 L480.90,185.58 L481.10,185.31 L481.30,185.06 L481.50,184.82 L481.70,184.60 L481.89,184.39 L482.08,184.16 L482.27,183.92 L482.47,183.66 L482.66,183.41 L482.85,183.16 L483.04,182.93 L483.23,182.73 L483.43,182.55 L483.62,182.42 L483.81,182.33 L484.00,182.30 L484.20,182.37 L484.40,182.58 L484.60,182.90 L484.80,183.33 L485.00,183.85 L485.20,184.43 L485.40,185.08 L485.60,185.76 L485.80,186.47 L486.00,187.19 L486.20,187.91 L486.40,188.60 L486.59,189.28 L486.78,190.03 L486.97,190.83 L487.17,191.69 L487.36,192.58 L487.55,193.52 L487.74,194.48 L487.93,195.46 L488.12,196.47 L488.32,197.48 L488.51,198.49 L488.70,199.50 L488.90,200.57 L489.10,201.68 L489.30,202.83 L489.50,204.00 L489.70,205.20 L489.90,206.41 L490.10,207.63 L490.30,208.84 L490.50,210.06 L490.70,211.26 L490.90,212.44 L491.10,213.60 L491.36,215.06 L491.62,216.51 L491.88,217.94 L492.13,219.35 L492.39,220.76 L492.65,222.17 L492.91,223.58 L493.17,224.99 L493.42,226.42 L493.68,227.86 L493.94,229.32 L494.20,230.80 L494.46,232.30 L494.72,233.82 L494.97,235.35 L495.23,236.89 L495.49,238.44 L495.75,240.00 L496.01,241.58 L496.27,243.16 L496.52,244.76 L496.78,246.36 L497.04,247.98 L497.30,249.60 L497.50,250.84 L497.70,252.04 L497.90,253.22 L498.10,254.40 L498.30,255.58 L498.50,256.79 L498.70,258.03 L498.90,259.32 L499.10,260.68 L499.30,262.12 L499.50,263.66 L499.70,265.30 L499.81,266.29 L499.92,267.38 L500.02,268.57 L500.13,269.83 L500.24,271.14 L500.35,272.48 L500.46,273.83 L500.57,275.17 L500.67,276.47 L500.78,277.73 L500.89,278.91 L501.00,280.00 L501.20,281.87 L501.40,283.65 L501.60,285.36 L501.80,287.01 L502.00,288.61 L502.20,290.17 L502.40,291.70 L502.60,293.21 L502.80,294.72 L503.00,296.23 L503.20,297.75 L503.40,299.30 L503.72,301.79 L504.03,304.29 L504.35,306.80 L504.67,309.30 L504.98,311.79 L505.30,314.26 L505.62,316.71 L505.93,319.11 L506.25,321.47 L506.57,323.78 L506.88,326.02 L507.20,328.20 L507.60,330.88 L508.00,333.53 L508.40,336.13 L508.80,338.69 L509.20,341.21 L509.60,343.66 L510.00,346.07 L510.40,348.41 L510.80,350.69 L511.20,352.90 L511.60,355.04 L512.00,357.10 L512.48,359.50 L512.97,361.80 L513.45,364.02 L513.93,366.17 L514.42,368.27 L514.90,370.31 L515.38,372.32 L515.87,374.30 L516.35,376.27 L516.83,378.24 L517.32,380.21 L517.80,382.20 L518.28,384.21 L518.77,386.24 L519.25,388.26 L519.73,390.28 L520.22,392.29 L520.70,394.28 L521.18,396.23 L521.67,398.15 L522.15,400.03 L522.63,401.85 L523.12,403.61 L523.60,405.30 L524.08,406.94 L524.57,408.57 L525.05,410.16 L525.53,411.73 L526.02,413.26 L526.50,414.75 L526.98,416.20 L527.47,417.61 L527.95,418.96 L528.43,420.27 L528.92,421.51 L529.40,422.70 L529.88,423.86 L530.37,425.01 L530.85,426.15 L531.33,427.27 L531.82,428.36 L532.30,429.41 L532.78,430.40 L533.27,431.33 L533.75,432.18 L534.23,432.95 L534.72,433.63 L535.20,434.20 L535.52,434.54 L535.83,434.89 L536.15,435.22 L536.47,435.55 L536.78,435.87 L537.10,436.16 L537.42,436.42 L537.73,436.65 L538.05,436.84 L538.37,436.98 L538.68,437.07 L539.00,437.10 L539.32,437.08 L539.65,437.03 L539.98,436.94 L540.30,436.84 L540.62,436.72 L540.95,436.60 L541.27,436.48 L541.60,436.36 L541.92,436.26 L542.25,436.17 L542.58,436.12 L542.90,436.10 L543.38,436.15 L543.87,436.30 L544.35,436.53 L544.83,436.82 L545.32,437.17 L545.80,437.56 L546.28,437.98 L546.77,438.41 L547.25,438.84 L547.73,439.26 L548.22,439.65 L548.70,440.00 L549.18,440.32 L549.67,440.65 L550.15,440.97 L550.63,441.29 L551.12,441.61 L551.60,441.93 L552.08,442.25 L552.57,442.57 L553.05,442.90 L553.53,443.23 L554.02,443.56 L554.50,443.90 L555.14,444.36 L555.78,444.84 L556.42,445.33 L557.07,445.83 L557.71,446.34 L558.35,446.84 L558.99,447.34 L559.63,447.83 L560.28,448.30 L560.92,448.76 L561.56,449.19 L562.20,449.60 L563.00,450.09 L563.80,450.57 L564.60,451.05 L565.40,451.52 L566.20,451.98 L567.00,452.42 L567.80,452.84 L568.60,453.23 L569.40,453.60 L570.20,453.94" fill="none" stroke="#000" stroke-width="1.45" stroke-linejoin="round" stroke-linecap="butt"/>
<path d="M578.55,456.14 L579.67,456.36 L580.80,456.56 L581.92,456.75 L583.05,456.94 L584.17,457.12 L585.30,457.30 L586.91,457.56 L588.52,457.81 L590.12,458.07 L591.73,458.31 L593.34,458.55 L594.95,458.78" fill="none" stroke="#000" stroke-width="1.45" stroke-linejoin="round" stroke-linecap="butt"/>
<path d="M617.14,460.07 L619.65,460.12 L622.16,460.16 L624.67,460.21 L627.18,460.25" fill="none" stroke="#000" stroke-width="1.45" stroke-linejoin="round" stroke-linecap="butt"/>

<line x1="91.05" y1="18.70" x2="645.65" y2="18.70" stroke="#000" stroke-width="1.3"/>
<line x1="645.00" y1="18.70" x2="645.00" y2="481.00" stroke="#000" stroke-width="1.3"/>
<line x1="91.05" y1="481.00" x2="645.65" y2="481.00" stroke="#000" stroke-width="1.3"/>
<line x1="91.70" y1="18.70" x2="91.70" y2="481.00" stroke="#000" stroke-width="1.3"/>

<line x1="116.50" y1="481.00" x2="116.50" y2="487.00" stroke="#000" stroke-width="1.3"/>
<text x="116.50" y="509.10" font-size="20.2" text-anchor="middle" font-weight="normal">10</text>
<line x1="179.44" y1="481.00" x2="179.44" y2="487.00" stroke="#000" stroke-width="1.3"/>
<text x="179.44" y="509.10" font-size="20.2" text-anchor="middle" font-weight="normal">15</text>
<line x1="242.38" y1="481.00" x2="242.38" y2="487.00" stroke="#000" stroke-width="1.3"/>
<text x="242.38" y="509.10" font-size="20.2" text-anchor="middle" font-weight="normal">20</text>
<line x1="305.31" y1="481.00" x2="305.31" y2="487.00" stroke="#000" stroke-width="1.3"/>
<text x="305.31" y="509.10" font-size="20.2" text-anchor="middle" font-weight="normal">25</text>
<line x1="368.25" y1="481.00" x2="368.25" y2="487.00" stroke="#000" stroke-width="1.3"/>
<text x="368.25" y="509.10" font-size="20.2" text-anchor="middle" font-weight="normal">30</text>
<line x1="431.19" y1="481.00" x2="431.19" y2="487.00" stroke="#000" stroke-width="1.3"/>
<text x="431.19" y="509.10" font-size="20.2" text-anchor="middle" font-weight="normal">35</text>
<line x1="494.12" y1="481.00" x2="494.12" y2="487.00" stroke="#000" stroke-width="1.3"/>
<text x="494.12" y="509.10" font-size="20.2" text-anchor="middle" font-weight="normal">40</text>
<line x1="557.06" y1="481.00" x2="557.06" y2="487.00" stroke="#000" stroke-width="1.3"/>
<text x="557.06" y="509.10" font-size="20.2" text-anchor="middle" font-weight="normal">45</text>
<line x1="620.00" y1="481.00" x2="620.00" y2="487.00" stroke="#000" stroke-width="1.3"/>
<text x="620.00" y="509.10" font-size="20.2" text-anchor="middle" font-weight="normal">50</text>

<line x1="85.70" y1="460.30" x2="91.70" y2="460.30" stroke="#000" stroke-width="1.3"/>
<text x="77.10" y="466.30" font-size="20.2" text-anchor="end" font-weight="normal">0.00</text>
<line x1="85.70" y1="323.13" x2="91.70" y2="323.13" stroke="#000" stroke-width="1.3"/>
<text x="77.10" y="329.13" font-size="20.2" text-anchor="end" font-weight="normal">0.05</text>
<line x1="85.70" y1="185.97" x2="91.70" y2="185.97" stroke="#000" stroke-width="1.3"/>
<text x="77.10" y="191.97" font-size="20.2" text-anchor="end" font-weight="normal">0.10</text>
<line x1="85.70" y1="48.81" x2="91.70" y2="48.81" stroke="#000" stroke-width="1.3"/>
<text x="77.10" y="54.81" font-size="20.2" text-anchor="end" font-weight="normal">0.15</text>

<text x="371.5" y="537.8" font-size="20.6" text-anchor="middle">Maximum Temperature (T<tspan font-size="15.5" dy="5.5">max</tspan><tspan dy="-5.5">, in °C)</tspan></text>

<text transform="translate(21,249.5) rotate(-90)" font-size="20.6" text-anchor="middle">Density</text>

<text x="0.4" y="23.3" font-size="27" font-weight="bold">A</text>
<text x="680.20" y="186.50" font-size="20.6" text-anchor="start" font-weight="normal">Threshold</text>
<rect x="680.85" y="205.85" width="23.2" height="23.2" fill="#ff967f" stroke="#000" stroke-width="1.5"/>
<text x="717" y="224.20" font-size="20.6">T<tspan font-size="16" dy="5.5">max</tspan><tspan dy="-5.5" dx="0.8"> &gt; 99P</tspan></text>
<rect x="680.85" y="237.90" width="23.2" height="23.2" fill="#9df09d" stroke="#000" stroke-width="1.5"/>
<text x="717" y="256.25" font-size="20.6">T<tspan font-size="16" dy="5.5">max</tspan><tspan dy="-5.5" dx="0.8"> &gt; 97P</tspan></text>
<rect x="680.85" y="269.95" width="23.2" height="23.2" fill="#acf5fa" stroke="#000" stroke-width="1.5"/>
<text x="717" y="288.30" font-size="20.6">T<tspan font-size="16" dy="5.5">max</tspan><tspan dy="-5.5" dx="0.8"> &gt; 95P</tspan></text>
<rect x="680.85" y="302.00" width="23.2" height="23.2" fill="#f2acff" stroke="#000" stroke-width="1.5"/>
<text x="717" y="320.35" font-size="20.6">T<tspan font-size="16" dy="5.5">max</tspan><tspan dy="-5.5" dx="0.8"> &gt; 90P</tspan></text>

<line x1="115.90" y1="570.00" x2="115.90" y2="1032.40" stroke="#e6e6e6" stroke-width="1.1"/>
<line x1="158.20" y1="570.00" x2="158.20" y2="1032.40" stroke="#e6e6e6" stroke-width="1.1"/>
<line x1="200.50" y1="570.00" x2="200.50" y2="1032.40" stroke="#e6e6e6" stroke-width="1.1"/>
<line x1="242.80" y1="570.00" x2="242.80" y2="1032.40" stroke="#e6e6e6" stroke-width="1.1"/>
<line x1="285.10" y1="570.00" x2="285.10" y2="1032.40" stroke="#e6e6e6" stroke-width="1.1"/>
<line x1="327.40" y1="570.00" x2="327.40" y2="1032.40" stroke="#e6e6e6" stroke-width="1.1"/>
<line x1="369.70" y1="570.00" x2="369.70" y2="1032.40" stroke="#e6e6e6" stroke-width="1.1"/>
<line x1="412.00" y1="570.00" x2="412.00" y2="1032.40" stroke="#e6e6e6" stroke-width="1.1"/>
<line x1="454.30" y1="570.00" x2="454.30" y2="1032.40" stroke="#e6e6e6" stroke-width="1.1"/>
<line x1="496.60" y1="570.00" x2="496.60" y2="1032.40" stroke="#e6e6e6" stroke-width="1.1"/>
<line x1="538.90" y1="570.00" x2="538.90" y2="1032.40" stroke="#e6e6e6" stroke-width="1.1"/>
<line x1="581.20" y1="570.00" x2="581.20" y2="1032.40" stroke="#e6e6e6" stroke-width="1.1"/>
<line x1="623.50" y1="570.00" x2="623.50" y2="1032.40" stroke="#e6e6e6" stroke-width="1.1"/>
<line x1="91.40" y1="1011.90" x2="649.20" y2="1011.90" stroke="#e6e6e6" stroke-width="1.1"/>
<line x1="91.40" y1="972.14" x2="649.20" y2="972.14" stroke="#e6e6e6" stroke-width="1.1"/>
<line x1="91.40" y1="932.38" x2="649.20" y2="932.38" stroke="#e6e6e6" stroke-width="1.1"/>
<line x1="91.40" y1="892.62" x2="649.20" y2="892.62" stroke="#e6e6e6" stroke-width="1.1"/>
<line x1="91.40" y1="852.86" x2="649.20" y2="852.86" stroke="#e6e6e6" stroke-width="1.1"/>
<line x1="91.40" y1="813.10" x2="649.20" y2="813.10" stroke="#e6e6e6" stroke-width="1.1"/>
<line x1="91.40" y1="773.34" x2="649.20" y2="773.34" stroke="#e6e6e6" stroke-width="1.1"/>
<line x1="91.40" y1="733.58" x2="649.20" y2="733.58" stroke="#e6e6e6" stroke-width="1.1"/>
<line x1="91.40" y1="693.82" x2="649.20" y2="693.82" stroke="#e6e6e6" stroke-width="1.1"/>
<line x1="91.40" y1="654.06" x2="649.20" y2="654.06" stroke="#e6e6e6" stroke-width="1.1"/>
<line x1="91.40" y1="614.30" x2="649.20" y2="614.30" stroke="#e6e6e6" stroke-width="1.1"/>
<line x1="91.40" y1="574.54" x2="649.20" y2="574.54" stroke="#e6e6e6" stroke-width="1.1"/>

<path d="M125.10,1011.90 L125.10,1011.80 C174.00,1011.47 222.90,1011.71 271.80,1010.80 C275.20,1010.74 278.60,1008.62 282.00,1007.20 C284.90,1005.99 287.80,1004.64 290.70,1002.80 C292.87,1001.42 295.03,999.35 297.20,997.40 C299.03,995.75 300.87,994.86 302.70,992.00 C303.77,990.34 304.83,987.63 305.90,982.20 C306.63,978.46 307.37,963.13 308.10,955.10 C308.83,947.07 309.57,938.38 310.30,933.40 C311.00,928.65 311.70,923.64 312.40,922.50 C313.50,920.70 314.60,919.50 315.70,919.50 C317.07,919.50 318.43,920.20 319.80,921.00 C321.10,921.76 322.40,924.85 323.70,926.50 C325.00,928.15 326.30,931.00 327.60,931.00 C329.17,931.00 330.73,930.66 332.30,930.10 C333.37,929.72 334.43,926.29 335.50,925.50 C336.50,924.76 337.50,924.06 338.50,924.00 C339.67,923.94 340.83,923.95 342.00,923.90 C344.03,923.81 346.07,923.67 348.10,923.30 C349.70,923.01 351.30,920.81 352.90,919.10 C354.10,917.82 355.30,915.55 356.50,914.30 C357.30,913.47 358.10,912.20 358.90,912.20 C359.90,912.20 360.90,912.90 361.90,913.10 C363.30,913.38 364.70,913.70 366.10,913.70 C366.93,913.70 367.77,913.27 368.60,913.10 C369.80,912.86 371.00,912.50 372.20,912.50 C373.40,912.50 374.60,912.82 375.80,913.10 C377.20,913.43 378.60,914.20 380.00,914.90 C382.33,916.06 384.67,918.25 387.00,919.20 C388.60,919.85 390.20,920.70 391.80,920.70 C392.70,920.70 393.60,918.23 394.50,916.00 C395.17,914.35 395.83,912.33 396.50,908.00 C396.83,905.83 397.17,899.64 397.50,895.00 C397.83,890.36 398.17,885.49 398.50,880.00 C398.93,872.86 399.37,861.83 399.80,856.00 C400.77,842.99 401.73,838.28 402.70,827.10 C403.63,816.30 404.57,799.13 405.50,788.60 C406.50,777.32 407.50,772.06 408.50,760.00 C409.27,750.76 410.03,738.43 410.80,723.40 C411.37,712.29 411.93,690.10 412.50,681.20 C413.37,667.59 414.23,659.73 415.10,652.50 C415.93,645.55 416.77,639.46 417.60,635.70 C418.43,631.94 419.27,628.28 420.10,627.20 C420.93,626.12 421.77,625.20 422.60,625.20 C423.47,625.20 424.33,627.07 425.20,628.90 C426.03,630.66 426.87,635.15 427.70,639.00 C428.53,642.85 429.37,647.02 430.20,652.50 C431.07,658.20 431.93,666.19 432.80,674.40 C433.63,682.29 434.47,689.68 435.30,701.40 C436.03,711.72 436.77,735.80 437.50,745.00 C438.40,756.28 439.30,761.94 440.20,769.30 C441.50,779.93 442.80,788.57 444.10,798.20 C445.40,807.83 446.70,818.08 448.00,827.10 C449.17,835.20 450.33,841.65 451.50,850.00 C451.93,853.10 452.37,857.28 452.80,860.00 C454.00,867.52 455.20,871.98 456.40,878.00 C457.60,884.02 458.80,890.15 460.00,896.10 C461.23,902.22 462.47,908.08 463.70,914.20 C464.90,920.15 466.10,925.39 467.30,932.30 C467.70,934.60 468.10,938.11 468.50,940.00 C469.17,943.15 469.83,945.01 470.50,947.20 C471.47,950.38 472.43,953.00 473.40,955.90 C474.37,958.80 475.33,961.70 476.30,964.60 C477.27,967.50 478.23,970.42 479.20,973.30 C480.17,976.18 481.13,979.02 482.10,981.90 C483.07,984.78 484.03,987.92 485.00,990.60 C485.93,993.18 486.87,995.99 487.80,997.80 C488.70,999.54 489.60,1001.11 490.50,1002.00 C491.83,1003.32 493.17,1004.28 494.50,1004.80 C496.40,1005.55 498.30,1006.21 500.20,1006.30 C502.80,1006.43 505.40,1006.50 508.00,1006.50 C510.00,1006.50 512.00,1005.44 514.00,1004.80 C515.83,1004.22 517.67,1003.28 519.50,1002.80 C521.67,1002.24 523.83,1001.82 526.00,1001.50 C527.70,1001.25 529.40,1000.90 531.10,1000.90 C533.67,1000.90 536.23,1001.90 538.80,1001.90 C540.50,1001.90 542.20,1000.54 543.90,1000.20 C545.00,999.98 546.10,999.70 547.20,999.70 C548.90,999.70 550.60,1000.57 552.30,1001.10 C554.53,1001.80 556.77,1002.86 559.00,1003.60 C561.83,1004.54 564.67,1005.25 567.50,1006.10 C570.30,1006.94 573.10,1008.01 575.90,1008.70 C578.70,1009.39 581.50,1009.98 584.30,1010.40 C587.13,1010.82 589.97,1011.24 592.80,1011.40 C595.60,1011.55 598.40,1011.68 601.20,1011.70 C612.13,1011.77 623.07,1011.77 634.00,1011.80 L634.00,1011.90 Z" fill="#ff2d00" fill-opacity="0.50" stroke="none"/>
<path d="M125.10,1011.80 C174.00,1011.47 222.90,1011.71 271.80,1010.80 C275.20,1010.74 278.60,1008.62 282.00,1007.20 C284.90,1005.99 287.80,1004.64 290.70,1002.80 C292.87,1001.42 295.03,999.35 297.20,997.40 C299.03,995.75 300.87,994.86 302.70,992.00 C303.77,990.34 304.83,987.63 305.90,982.20 C306.63,978.46 307.37,963.13 308.10,955.10 C308.83,947.07 309.57,938.38 310.30,933.40 C311.00,928.65 311.70,923.64 312.40,922.50 C313.50,920.70 314.60,919.50 315.70,919.50 C317.07,919.50 318.43,920.20 319.80,921.00 C321.10,921.76 322.40,924.85 323.70,926.50 C325.00,928.15 326.30,931.00 327.60,931.00 C329.17,931.00 330.73,930.66 332.30,930.10 C333.37,929.72 334.43,926.29 335.50,925.50 C336.50,924.76 337.50,924.06 338.50,924.00 C339.67,923.94 340.83,923.95 342.00,923.90 C344.03,923.81 346.07,923.67 348.10,923.30 C349.70,923.01 351.30,920.81 352.90,919.10 C354.10,917.82 355.30,915.55 356.50,914.30 C357.30,913.47 358.10,912.20 358.90,912.20 C359.90,912.20 360.90,912.90 361.90,913.10 C363.30,913.38 364.70,913.70 366.10,913.70 C366.93,913.70 367.77,913.27 368.60,913.10 C369.80,912.86 371.00,912.50 372.20,912.50 C373.40,912.50 374.60,912.82 375.80,913.10 C377.20,913.43 378.60,914.20 380.00,914.90 C382.33,916.06 384.67,918.25 387.00,919.20 C388.60,919.85 390.20,920.70 391.80,920.70 C392.70,920.70 393.60,918.23 394.50,916.00 C395.17,914.35 395.83,912.33 396.50,908.00 C396.83,905.83 397.17,899.64 397.50,895.00 C397.83,890.36 398.17,885.49 398.50,880.00 C398.93,872.86 399.37,861.83 399.80,856.00 C400.77,842.99 401.73,838.28 402.70,827.10 C403.63,816.30 404.57,799.13 405.50,788.60 C406.50,777.32 407.50,772.06 408.50,760.00 C409.27,750.76 410.03,738.43 410.80,723.40 C411.37,712.29 411.93,690.10 412.50,681.20 C413.37,667.59 414.23,659.73 415.10,652.50 C415.93,645.55 416.77,639.46 417.60,635.70 C418.43,631.94 419.27,628.28 420.10,627.20 C420.93,626.12 421.77,625.20 422.60,625.20 C423.47,625.20 424.33,627.07 425.20,628.90 C426.03,630.66 426.87,635.15 427.70,639.00 C428.53,642.85 429.37,647.02 430.20,652.50 C431.07,658.20 431.93,666.19 432.80,674.40 C433.63,682.29 434.47,689.68 435.30,701.40 C436.03,711.72 436.77,735.80 437.50,745.00 C438.40,756.28 439.30,761.94 440.20,769.30 C441.50,779.93 442.80,788.57 444.10,798.20 C445.40,807.83 446.70,818.08 448.00,827.10 C449.17,835.20 450.33,841.65 451.50,850.00 C451.93,853.10 452.37,857.28 452.80,860.00 C454.00,867.52 455.20,871.98 456.40,878.00 C457.60,884.02 458.80,890.15 460.00,896.10 C461.23,902.22 462.47,908.08 463.70,914.20 C464.90,920.15 466.10,925.39 467.30,932.30 C467.70,934.60 468.10,938.11 468.50,940.00 C469.17,943.15 469.83,945.01 470.50,947.20 C471.47,950.38 472.43,953.00 473.40,955.90 C474.37,958.80 475.33,961.70 476.30,964.60 C477.27,967.50 478.23,970.42 479.20,973.30 C480.17,976.18 481.13,979.02 482.10,981.90 C483.07,984.78 484.03,987.92 485.00,990.60 C485.93,993.18 486.87,995.99 487.80,997.80 C488.70,999.54 489.60,1001.11 490.50,1002.00 C491.83,1003.32 493.17,1004.28 494.50,1004.80 C496.40,1005.55 498.30,1006.21 500.20,1006.30 C502.80,1006.43 505.40,1006.50 508.00,1006.50 C510.00,1006.50 512.00,1005.44 514.00,1004.80 C515.83,1004.22 517.67,1003.28 519.50,1002.80 C521.67,1002.24 523.83,1001.82 526.00,1001.50 C527.70,1001.25 529.40,1000.90 531.10,1000.90 C533.67,1000.90 536.23,1001.90 538.80,1001.90 C540.50,1001.90 542.20,1000.54 543.90,1000.20 C545.00,999.98 546.10,999.70 547.20,999.70 C548.90,999.70 550.60,1000.57 552.30,1001.10 C554.53,1001.80 556.77,1002.86 559.00,1003.60 C561.83,1004.54 564.67,1005.25 567.50,1006.10 C570.30,1006.94 573.10,1008.01 575.90,1008.70 C578.70,1009.39 581.50,1009.98 584.30,1010.40 C587.13,1010.82 589.97,1011.24 592.80,1011.40 C595.60,1011.55 598.40,1011.68 601.20,1011.70 C612.13,1011.77 623.07,1011.77 634.00,1011.80" fill="none" stroke="#000" stroke-opacity="0.75" stroke-width="1.45" stroke-linejoin="round"/>

<path d="M125.10,1011.90 L125.10,1011.80 C161.37,1011.20 197.63,1011.31 233.90,1010.00 C239.27,1009.81 244.63,1008.75 250.00,1008.00 C254.17,1007.41 258.33,1006.73 262.50,1006.00 C266.13,1005.36 269.77,1004.99 273.40,1003.90 C276.30,1003.03 279.20,1000.75 282.10,998.50 C284.27,996.82 286.43,995.47 288.60,992.00 C289.67,990.29 290.73,987.35 291.80,982.20 C292.53,978.66 293.27,970.52 294.00,960.50 C294.37,955.49 294.73,943.44 295.10,938.80 C295.80,929.95 296.50,922.11 297.20,920.40 C298.30,917.71 299.40,916.33 300.50,916.00 C301.93,915.57 303.37,915.69 304.80,915.30 C306.20,914.92 307.60,913.50 309.00,912.00 C309.77,911.18 310.53,909.89 311.30,908.50 C312.00,907.23 312.70,904.46 313.40,903.80 C314.13,903.11 314.87,902.50 315.60,902.50 C316.50,902.50 317.40,902.99 318.30,903.60 C319.03,904.09 319.77,906.18 320.50,907.40 C321.40,908.89 322.30,910.55 323.20,911.70 C324.10,912.85 325.00,913.45 325.90,914.60 C326.80,915.75 327.70,917.50 328.60,918.90 C330.07,921.19 331.53,924.45 333.00,925.60 C334.67,926.91 336.33,927.88 338.00,928.20 C340.33,928.65 342.67,929.00 345.00,929.00 C347.33,929.00 349.67,928.71 352.00,928.50 C354.00,928.32 356.00,927.92 358.00,927.80 C359.67,927.70 361.33,927.72 363.00,927.60 C364.03,927.53 365.07,927.39 366.10,927.00 C366.83,926.73 367.57,924.49 368.30,922.00 C368.80,920.30 369.30,915.05 369.80,913.00 C370.70,909.31 371.60,908.39 372.50,905.00 C373.17,902.49 373.83,898.35 374.50,895.00 C375.17,891.65 375.83,889.03 376.50,884.90 C377.83,876.63 379.17,862.38 380.50,850.20 C381.77,838.63 383.03,829.56 384.30,813.60 C384.97,805.20 385.63,789.86 386.30,780.00 C386.80,772.61 387.30,768.28 387.80,760.00 C388.47,748.96 389.13,731.14 389.80,714.90 C390.33,701.91 390.87,684.90 391.40,672.80 C391.97,659.95 392.53,648.65 393.10,639.00 C393.67,629.35 394.23,620.43 394.80,613.70 C395.37,606.97 395.93,599.81 396.50,596.90 C397.07,593.99 397.63,591.00 398.20,591.00 C398.77,591.00 399.33,592.12 399.90,593.50 C400.47,594.88 401.03,600.54 401.60,605.30 C402.13,609.78 402.67,616.78 403.20,622.20 C404.07,631.01 404.93,637.15 405.80,647.50 C406.37,654.27 406.93,664.37 407.50,672.80 C408.07,681.23 408.63,689.41 409.20,698.10 C409.73,706.28 410.27,715.85 410.80,723.40 C411.63,735.20 412.47,746.48 413.30,755.00 C414.23,764.55 415.17,770.88 416.10,778.90 C417.07,787.21 418.03,797.14 419.00,804.00 C420.30,813.23 421.60,819.12 422.90,827.10 C424.10,834.46 425.30,843.15 426.50,850.00 C427.13,853.61 427.77,856.30 428.40,860.00 C429.30,865.26 430.20,872.81 431.10,878.00 C432.30,884.93 433.50,890.78 434.70,896.10 C436.23,902.90 437.77,908.96 439.30,914.20 C440.80,919.33 442.30,923.56 443.80,927.80 C445.33,932.13 446.87,936.56 448.40,940.00 C449.50,942.47 450.60,944.53 451.70,946.50 C453.63,949.97 455.57,952.71 457.50,955.90 C458.93,958.26 460.37,960.18 461.80,963.10 C462.77,965.07 463.73,967.98 464.70,970.40 C465.67,972.82 466.63,975.45 467.60,977.60 C468.80,980.27 470.00,982.66 471.20,984.80 C472.40,986.94 473.60,988.65 474.80,990.60 C476.27,992.98 477.73,995.85 479.20,997.80 C481.07,1000.28 482.93,1003.25 484.80,1004.00 C488.67,1005.56 492.53,1006.60 496.40,1006.60 C500.27,1006.60 504.13,1006.54 508.00,1006.40 C510.00,1006.33 512.00,1005.13 514.00,1004.40 C515.83,1003.73 517.67,1002.51 519.50,1002.20 C521.33,1001.89 523.17,1001.60 525.00,1001.60 C527.03,1001.60 529.07,1001.80 531.10,1001.80 C533.10,1001.80 535.10,1001.60 537.10,1001.60 C539.37,1001.60 541.63,1002.85 543.90,1003.60 C546.13,1004.33 548.37,1005.41 550.60,1006.10 C553.40,1006.97 556.20,1007.70 559.00,1008.30 C562.93,1009.14 566.87,1009.98 570.80,1010.40 C575.30,1010.88 579.80,1011.32 584.30,1011.40 C600.87,1011.68 617.43,1011.67 634.00,1011.80 L634.00,1011.90 Z" fill="#3ce13c" fill-opacity="0.50" stroke="none"/>
<path d="M125.10,1011.80 C161.37,1011.20 197.63,1011.31 233.90,1010.00 C239.27,1009.81 244.63,1008.75 250.00,1008.00 C254.17,1007.41 258.33,1006.73 262.50,1006.00 C266.13,1005.36 269.77,1004.99 273.40,1003.90 C276.30,1003.03 279.20,1000.75 282.10,998.50 C284.27,996.82 286.43,995.47 288.60,992.00 C289.67,990.29 290.73,987.35 291.80,982.20 C292.53,978.66 293.27,970.52 294.00,960.50 C294.37,955.49 294.73,943.44 295.10,938.80 C295.80,929.95 296.50,922.11 297.20,920.40 C298.30,917.71 299.40,916.33 300.50,916.00 C301.93,915.57 303.37,915.69 304.80,915.30 C306.20,914.92 307.60,913.50 309.00,912.00 C309.77,911.18 310.53,909.89 311.30,908.50 C312.00,907.23 312.70,904.46 313.40,903.80 C314.13,903.11 314.87,902.50 315.60,902.50 C316.50,902.50 317.40,902.99 318.30,903.60 C319.03,904.09 319.77,906.18 320.50,907.40 C321.40,908.89 322.30,910.55 323.20,911.70 C324.10,912.85 325.00,913.45 325.90,914.60 C326.80,915.75 327.70,917.50 328.60,918.90 C330.07,921.19 331.53,924.45 333.00,925.60 C334.67,926.91 336.33,927.88 338.00,928.20 C340.33,928.65 342.67,929.00 345.00,929.00 C347.33,929.00 349.67,928.71 352.00,928.50 C354.00,928.32 356.00,927.92 358.00,927.80 C359.67,927.70 361.33,927.72 363.00,927.60 C364.03,927.53 365.07,927.39 366.10,927.00 C366.83,926.73 367.57,924.49 368.30,922.00 C368.80,920.30 369.30,915.05 369.80,913.00 C370.70,909.31 371.60,908.39 372.50,905.00 C373.17,902.49 373.83,898.35 374.50,895.00 C375.17,891.65 375.83,889.03 376.50,884.90 C377.83,876.63 379.17,862.38 380.50,850.20 C381.77,838.63 383.03,829.56 384.30,813.60 C384.97,805.20 385.63,789.86 386.30,780.00 C386.80,772.61 387.30,768.28 387.80,760.00 C388.47,748.96 389.13,731.14 389.80,714.90 C390.33,701.91 390.87,684.90 391.40,672.80 C391.97,659.95 392.53,648.65 393.10,639.00 C393.67,629.35 394.23,620.43 394.80,613.70 C395.37,606.97 395.93,599.81 396.50,596.90 C397.07,593.99 397.63,591.00 398.20,591.00 C398.77,591.00 399.33,592.12 399.90,593.50 C400.47,594.88 401.03,600.54 401.60,605.30 C402.13,609.78 402.67,616.78 403.20,622.20 C404.07,631.01 404.93,637.15 405.80,647.50 C406.37,654.27 406.93,664.37 407.50,672.80 C408.07,681.23 408.63,689.41 409.20,698.10 C409.73,706.28 410.27,715.85 410.80,723.40 C411.63,735.20 412.47,746.48 413.30,755.00 C414.23,764.55 415.17,770.88 416.10,778.90 C417.07,787.21 418.03,797.14 419.00,804.00 C420.30,813.23 421.60,819.12 422.90,827.10 C424.10,834.46 425.30,843.15 426.50,850.00 C427.13,853.61 427.77,856.30 428.40,860.00 C429.30,865.26 430.20,872.81 431.10,878.00 C432.30,884.93 433.50,890.78 434.70,896.10 C436.23,902.90 437.77,908.96 439.30,914.20 C440.80,919.33 442.30,923.56 443.80,927.80 C445.33,932.13 446.87,936.56 448.40,940.00 C449.50,942.47 450.60,944.53 451.70,946.50 C453.63,949.97 455.57,952.71 457.50,955.90 C458.93,958.26 460.37,960.18 461.80,963.10 C462.77,965.07 463.73,967.98 464.70,970.40 C465.67,972.82 466.63,975.45 467.60,977.60 C468.80,980.27 470.00,982.66 471.20,984.80 C472.40,986.94 473.60,988.65 474.80,990.60 C476.27,992.98 477.73,995.85 479.20,997.80 C481.07,1000.28 482.93,1003.25 484.80,1004.00 C488.67,1005.56 492.53,1006.60 496.40,1006.60 C500.27,1006.60 504.13,1006.54 508.00,1006.40 C510.00,1006.33 512.00,1005.13 514.00,1004.40 C515.83,1003.73 517.67,1002.51 519.50,1002.20 C521.33,1001.89 523.17,1001.60 525.00,1001.60 C527.03,1001.60 529.07,1001.80 531.10,1001.80 C533.10,1001.80 535.10,1001.60 537.10,1001.60 C539.37,1001.60 541.63,1002.85 543.90,1003.60 C546.13,1004.33 548.37,1005.41 550.60,1006.10 C553.40,1006.97 556.20,1007.70 559.00,1008.30 C562.93,1009.14 566.87,1009.98 570.80,1010.40 C575.30,1010.88 579.80,1011.32 584.30,1011.40 C600.87,1011.68 617.43,1011.67 634.00,1011.80" fill="none" stroke="#000" stroke-opacity="0.75" stroke-width="1.45" stroke-linejoin="round"/>

<path d="M125.10,1011.90 L125.10,1011.80 C157.13,1011.63 189.17,1011.72 221.20,1011.30 C225.80,1011.24 230.40,1010.28 235.00,1009.30 C238.03,1008.65 241.07,1007.56 244.10,1006.00 C246.63,1004.69 249.17,1000.83 251.70,999.50 C253.50,998.56 255.30,998.14 257.10,997.40 C259.63,996.36 262.17,995.78 264.70,994.10 C266.87,992.66 269.03,989.37 271.20,985.40 C272.67,982.72 274.13,978.76 275.60,973.50 C277.03,968.36 278.47,958.38 279.90,950.70 C280.97,944.99 282.03,939.27 283.10,933.40 C284.20,927.35 285.30,918.11 286.40,914.90 C287.50,911.69 288.60,908.40 289.70,908.40 C291.50,908.40 293.30,909.00 295.10,909.00 C296.40,909.00 297.70,908.63 299.00,908.20 C300.17,907.82 301.33,906.64 302.50,905.50 C303.43,904.59 304.37,902.80 305.30,901.90 C306.20,901.03 307.10,899.80 308.00,899.80 C308.90,899.80 309.80,900.27 310.70,900.80 C311.43,901.23 312.17,902.11 312.90,903.60 C313.27,904.35 313.63,906.66 314.00,907.90 C314.53,909.70 315.07,911.38 315.60,912.60 C316.13,913.82 316.67,915.08 317.20,915.60 C317.93,916.32 318.67,916.88 319.40,917.00 C320.60,917.19 321.80,917.14 323.00,917.30 C324.00,917.44 325.00,917.82 326.00,918.30 C327.00,918.78 328.00,919.85 329.00,920.80 C330.33,922.07 331.67,924.60 333.00,925.30 C334.60,926.14 336.20,926.54 337.80,926.90 C340.23,927.45 342.67,928.10 345.10,928.10 C347.10,928.10 349.10,927.57 351.10,926.90 C352.70,926.37 354.30,924.74 355.90,922.70 C356.70,921.68 357.50,920.12 358.30,917.90 C358.70,916.79 359.10,915.19 359.50,913.10 C359.90,911.01 360.30,906.25 360.70,904.00 C361.47,899.69 362.23,898.00 363.00,894.20 C364.00,889.24 365.00,882.81 366.00,876.10 C366.80,870.73 367.60,864.49 368.40,858.10 C368.80,854.91 369.20,851.71 369.60,848.00 C370.67,838.11 371.73,824.16 372.80,813.60 C374.07,801.06 375.33,792.54 376.60,778.90 C377.23,772.08 377.87,766.62 378.50,755.00 C378.93,747.05 379.37,726.21 379.80,714.90 C380.30,701.85 380.80,691.18 381.30,681.20 C381.87,669.89 382.43,658.89 383.00,650.80 C383.57,642.71 384.13,635.09 384.70,630.60 C385.27,626.11 385.83,621.50 386.40,620.50 C386.83,619.73 387.27,619.10 387.70,619.10 C388.40,619.10 389.10,621.40 389.80,623.90 C390.33,625.81 390.87,631.67 391.40,635.70 C392.27,642.24 393.13,648.76 394.00,655.90 C394.83,662.77 395.67,670.50 396.50,677.80 C397.33,685.10 398.17,692.26 399.00,699.70 C399.87,707.44 400.73,714.67 401.60,723.40 C402.33,730.79 403.07,739.71 403.80,748.00 C404.70,758.18 405.60,770.70 406.50,778.90 C407.80,790.75 409.10,796.48 410.40,807.80 C411.33,815.92 412.27,827.75 413.20,836.70 C414.07,845.01 414.93,853.37 415.80,860.00 C416.70,866.89 417.60,872.81 418.50,878.00 C419.70,884.93 420.90,891.18 422.10,896.10 C423.60,902.25 425.10,907.15 426.60,911.50 C428.40,916.73 430.20,920.29 432.00,925.00 C433.10,927.88 434.20,930.46 435.30,934.00 C435.83,935.72 436.37,938.36 436.90,940.00 C437.97,943.27 439.03,945.53 440.10,948.00 C441.57,951.39 443.03,954.55 444.50,957.40 C446.40,961.10 448.30,964.45 450.20,967.50 C451.67,969.85 453.13,972.09 454.60,974.00 C456.03,975.86 457.47,977.23 458.90,979.00 C460.37,980.81 461.83,982.62 463.30,984.80 C464.73,986.93 466.17,989.97 467.60,992.10 C469.03,994.23 470.47,996.17 471.90,997.80 C473.37,999.47 474.83,1001.20 476.30,1002.20 C477.87,1003.26 479.43,1004.08 481.00,1004.60 C484.20,1005.66 487.40,1006.80 490.60,1006.80 C494.47,1006.80 498.33,1006.77 502.20,1006.70 C504.47,1006.66 506.73,1005.94 509.00,1005.20 C510.73,1004.64 512.47,1002.78 514.20,1002.20 C515.90,1001.63 517.60,1001.00 519.30,1001.00 C520.97,1001.00 522.63,1001.84 524.30,1002.40 C526.33,1003.08 528.37,1004.37 530.40,1005.00 C533.20,1005.87 536.00,1006.44 538.80,1007.00 C542.73,1007.79 546.67,1008.50 550.60,1009.00 C556.23,1009.72 561.87,1010.37 567.50,1010.70 C575.00,1011.14 582.50,1011.53 590.00,1011.60 C604.67,1011.73 619.33,1011.73 634.00,1011.80 L634.00,1011.90 Z" fill="#5aebf5" fill-opacity="0.50" stroke="none"/>
<path d="M125.10,1011.80 C157.13,1011.63 189.17,1011.72 221.20,1011.30 C225.80,1011.24 230.40,1010.28 235.00,1009.30 C238.03,1008.65 241.07,1007.56 244.10,1006.00 C246.63,1004.69 249.17,1000.83 251.70,999.50 C253.50,998.56 255.30,998.14 257.10,997.40 C259.63,996.36 262.17,995.78 264.70,994.10 C266.87,992.66 269.03,989.37 271.20,985.40 C272.67,982.72 274.13,978.76 275.60,973.50 C277.03,968.36 278.47,958.38 279.90,950.70 C280.97,944.99 282.03,939.27 283.10,933.40 C284.20,927.35 285.30,918.11 286.40,914.90 C287.50,911.69 288.60,908.40 289.70,908.40 C291.50,908.40 293.30,909.00 295.10,909.00 C296.40,909.00 297.70,908.63 299.00,908.20 C300.17,907.82 301.33,906.64 302.50,905.50 C303.43,904.59 304.37,902.80 305.30,901.90 C306.20,901.03 307.10,899.80 308.00,899.80 C308.90,899.80 309.80,900.27 310.70,900.80 C311.43,901.23 312.17,902.11 312.90,903.60 C313.27,904.35 313.63,906.66 314.00,907.90 C314.53,909.70 315.07,911.38 315.60,912.60 C316.13,913.82 316.67,915.08 317.20,915.60 C317.93,916.32 318.67,916.88 319.40,917.00 C320.60,917.19 321.80,917.14 323.00,917.30 C324.00,917.44 325.00,917.82 326.00,918.30 C327.00,918.78 328.00,919.85 329.00,920.80 C330.33,922.07 331.67,924.60 333.00,925.30 C334.60,926.14 336.20,926.54 337.80,926.90 C340.23,927.45 342.67,928.10 345.10,928.10 C347.10,928.10 349.10,927.57 351.10,926.90 C352.70,926.37 354.30,924.74 355.90,922.70 C356.70,921.68 357.50,920.12 358.30,917.90 C358.70,916.79 359.10,915.19 359.50,913.10 C359.90,911.01 360.30,906.25 360.70,904.00 C361.47,899.69 362.23,898.00 363.00,894.20 C364.00,889.24 365.00,882.81 366.00,876.10 C366.80,870.73 367.60,864.49 368.40,858.10 C368.80,854.91 369.20,851.71 369.60,848.00 C370.67,838.11 371.73,824.16 372.80,813.60 C374.07,801.06 375.33,792.54 376.60,778.90 C377.23,772.08 377.87,766.62 378.50,755.00 C378.93,747.05 379.37,726.21 379.80,714.90 C380.30,701.85 380.80,691.18 381.30,681.20 C381.87,669.89 382.43,658.89 383.00,650.80 C383.57,642.71 384.13,635.09 384.70,630.60 C385.27,626.11 385.83,621.50 386.40,620.50 C386.83,619.73 387.27,619.10 387.70,619.10 C388.40,619.10 389.10,621.40 389.80,623.90 C390.33,625.81 390.87,631.67 391.40,635.70 C392.27,642.24 393.13,648.76 394.00,655.90 C394.83,662.77 395.67,670.50 396.50,677.80 C397.33,685.10 398.17,692.26 399.00,699.70 C399.87,707.44 400.73,714.67 401.60,723.40 C402.33,730.79 403.07,739.71 403.80,748.00 C404.70,758.18 405.60,770.70 406.50,778.90 C407.80,790.75 409.10,796.48 410.40,807.80 C411.33,815.92 412.27,827.75 413.20,836.70 C414.07,845.01 414.93,853.37 415.80,860.00 C416.70,866.89 417.60,872.81 418.50,878.00 C419.70,884.93 420.90,891.18 422.10,896.10 C423.60,902.25 425.10,907.15 426.60,911.50 C428.40,916.73 430.20,920.29 432.00,925.00 C433.10,927.88 434.20,930.46 435.30,934.00 C435.83,935.72 436.37,938.36 436.90,940.00 C437.97,943.27 439.03,945.53 440.10,948.00 C441.57,951.39 443.03,954.55 444.50,957.40 C446.40,961.10 448.30,964.45 450.20,967.50 C451.67,969.85 453.13,972.09 454.60,974.00 C456.03,975.86 457.47,977.23 458.90,979.00 C460.37,980.81 461.83,982.62 463.30,984.80 C464.73,986.93 466.17,989.97 467.60,992.10 C469.03,994.23 470.47,996.17 471.90,997.80 C473.37,999.47 474.83,1001.20 476.30,1002.20 C477.87,1003.26 479.43,1004.08 481.00,1004.60 C484.20,1005.66 487.40,1006.80 490.60,1006.80 C494.47,1006.80 498.33,1006.77 502.20,1006.70 C504.47,1006.66 506.73,1005.94 509.00,1005.20 C510.73,1004.64 512.47,1002.78 514.20,1002.20 C515.90,1001.63 517.60,1001.00 519.30,1001.00 C520.97,1001.00 522.63,1001.84 524.30,1002.40 C526.33,1003.08 528.37,1004.37 530.40,1005.00 C533.20,1005.87 536.00,1006.44 538.80,1007.00 C542.73,1007.79 546.67,1008.50 550.60,1009.00 C556.23,1009.72 561.87,1010.37 567.50,1010.70 C575.00,1011.14 582.50,1011.53 590.00,1011.60 C604.67,1011.73 619.33,1011.73 634.00,1011.80" fill="none" stroke="#000" stroke-opacity="0.75" stroke-width="1.45" stroke-linejoin="round"/>

<path d="M125.10,1011.90 L125.10,1011.80 C136.07,1011.63 147.03,1011.58 158.00,1011.30 C167.27,1011.06 176.53,1009.61 185.80,1009.30 C193.40,1009.05 201.00,1009.05 208.60,1008.80 C215.33,1008.58 222.07,1008.40 228.80,1007.50 C231.33,1007.16 233.87,1004.36 236.40,1002.50 C238.93,1000.64 241.47,997.97 244.00,996.20 C246.53,994.43 249.07,993.44 251.60,991.60 C253.70,990.08 255.80,988.61 257.90,986.00 C259.60,983.89 261.30,980.48 263.00,975.90 C264.27,972.49 265.53,967.30 266.80,960.70 C267.63,956.36 268.47,948.90 269.30,943.00 C270.13,937.10 270.97,930.15 271.80,925.30 C272.70,920.06 273.60,915.34 274.50,912.00 C275.90,906.81 277.30,899.90 278.70,899.90 C279.97,899.90 281.23,899.90 282.50,899.90 C283.47,899.90 284.43,899.41 285.40,898.90 C286.70,898.22 288.00,895.32 289.30,894.10 C290.57,892.91 291.83,891.20 293.10,891.20 C294.67,891.20 296.23,894.55 297.80,895.70 C298.67,896.34 299.53,896.59 300.40,897.30 C301.10,897.87 301.80,898.84 302.50,899.80 C303.07,900.58 303.63,901.76 304.20,902.50 C305.13,903.71 306.07,904.59 307.00,905.50 C307.70,906.18 308.40,906.70 309.10,907.40 C310.37,908.66 311.63,910.27 312.90,911.70 C313.97,912.90 315.03,914.75 316.10,915.30 C317.20,915.87 318.30,916.40 319.40,916.40 C320.67,916.40 321.93,915.58 323.20,915.50 C324.10,915.44 325.00,915.40 325.90,915.40 C326.80,915.40 327.70,917.52 328.60,918.70 C329.57,919.97 330.53,921.65 331.50,922.80 C332.13,923.56 332.77,924.80 333.40,924.80 C334.00,924.80 334.60,923.46 335.20,922.50 C336.23,920.84 337.27,918.34 338.30,915.30 C339.30,912.36 340.30,907.32 341.30,903.30 C342.30,899.28 343.30,896.16 344.30,891.20 C345.10,887.24 345.90,881.57 346.70,876.10 C347.50,870.63 348.30,864.22 349.10,858.10 C349.53,854.79 349.97,851.47 350.40,848.00 C351.77,837.05 353.13,825.56 354.50,813.60 C355.77,802.52 357.03,791.00 358.30,778.90 C359.27,769.67 360.23,760.34 361.20,750.00 C361.73,744.30 362.27,737.54 362.80,731.80 C363.63,722.84 364.47,713.65 365.30,706.50 C366.13,699.35 366.97,691.91 367.80,687.90 C368.67,683.73 369.53,680.06 370.40,678.70 C370.93,677.86 371.47,677.00 372.00,677.00 C372.87,677.00 373.73,678.72 374.60,680.40 C375.43,682.01 376.27,685.78 377.10,689.60 C377.93,693.42 378.77,699.57 379.60,704.80 C380.47,710.24 381.33,715.70 382.20,721.70 C383.03,727.47 383.87,734.65 384.70,740.20 C385.23,743.75 385.77,746.61 386.30,750.00 C387.27,756.14 388.23,762.75 389.20,769.30 C390.13,775.62 391.07,782.39 392.00,788.60 C393.30,797.25 394.60,803.99 395.90,813.60 C396.80,820.25 397.70,828.97 398.60,836.70 C399.50,844.43 400.40,854.23 401.30,860.00 C402.50,867.70 403.70,872.07 404.90,878.00 C406.13,884.10 407.37,890.64 408.60,896.10 C410.10,902.74 411.60,908.48 413.10,914.20 C414.60,919.92 416.10,924.97 417.60,930.50 C418.80,934.92 420.00,940.76 421.20,944.00 C422.47,947.42 423.73,949.65 425.00,952.00 C426.67,955.09 428.33,957.36 430.00,960.20 C430.97,961.85 431.93,963.43 432.90,965.30 C434.33,968.07 435.77,972.25 437.20,974.70 C439.13,978.01 441.07,980.48 443.00,982.70 C444.93,984.92 446.87,986.80 448.80,988.40 C451.20,990.39 453.60,992.11 456.00,993.50 C457.47,994.35 458.93,994.86 460.40,995.70 C461.83,996.52 463.27,997.67 464.70,998.60 C466.63,999.85 468.57,1001.40 470.50,1002.20 C472.43,1003.00 474.37,1003.58 476.30,1004.00 C477.87,1004.34 479.43,1004.55 481.00,1004.80 C482.50,1005.04 484.00,1005.50 485.50,1005.50 C487.67,1005.50 489.83,1005.37 492.00,1005.20 C493.67,1005.07 495.33,1004.45 497.00,1004.10 C498.80,1003.72 500.60,1003.00 502.40,1003.00 C504.63,1003.00 506.87,1003.63 509.10,1004.20 C510.23,1004.49 511.37,1005.21 512.50,1005.50 C514.33,1005.96 516.17,1006.25 518.00,1006.50 C520.43,1006.84 522.87,1007.01 525.30,1007.30 C530.93,1007.96 536.57,1008.90 542.20,1009.50 C547.80,1010.09 553.40,1010.75 559.00,1011.00 C566.00,1011.31 573.00,1011.55 580.00,1011.60 C598.00,1011.73 616.00,1011.73 634.00,1011.80 L634.00,1011.90 Z" fill="#e65aff" fill-opacity="0.50" stroke="none"/>
<path d="M125.10,1011.80 C136.07,1011.63 147.03,1011.58 158.00,1011.30 C167.27,1011.06 176.53,1009.61 185.80,1009.30 C193.40,1009.05 201.00,1009.05 208.60,1008.80 C215.33,1008.58 222.07,1008.40 228.80,1007.50 C231.33,1007.16 233.87,1004.36 236.40,1002.50 C238.93,1000.64 241.47,997.97 244.00,996.20 C246.53,994.43 249.07,993.44 251.60,991.60 C253.70,990.08 255.80,988.61 257.90,986.00 C259.60,983.89 261.30,980.48 263.00,975.90 C264.27,972.49 265.53,967.30 266.80,960.70 C267.63,956.36 268.47,948.90 269.30,943.00 C270.13,937.10 270.97,930.15 271.80,925.30 C272.70,920.06 273.60,915.34 274.50,912.00 C275.90,906.81 277.30,899.90 278.70,899.90 C279.97,899.90 281.23,899.90 282.50,899.90 C283.47,899.90 284.43,899.41 285.40,898.90 C286.70,898.22 288.00,895.32 289.30,894.10 C290.57,892.91 291.83,891.20 293.10,891.20 C294.67,891.20 296.23,894.55 297.80,895.70 C298.67,896.34 299.53,896.59 300.40,897.30 C301.10,897.87 301.80,898.84 302.50,899.80 C303.07,900.58 303.63,901.76 304.20,902.50 C305.13,903.71 306.07,904.59 307.00,905.50 C307.70,906.18 308.40,906.70 309.10,907.40 C310.37,908.66 311.63,910.27 312.90,911.70 C313.97,912.90 315.03,914.75 316.10,915.30 C317.20,915.87 318.30,916.40 319.40,916.40 C320.67,916.40 321.93,915.58 323.20,915.50 C324.10,915.44 325.00,915.40 325.90,915.40 C326.80,915.40 327.70,917.52 328.60,918.70 C329.57,919.97 330.53,921.65 331.50,922.80 C332.13,923.56 332.77,924.80 333.40,924.80 C334.00,924.80 334.60,923.46 335.20,922.50 C336.23,920.84 337.27,918.34 338.30,915.30 C339.30,912.36 340.30,907.32 341.30,903.30 C342.30,899.28 343.30,896.16 344.30,891.20 C345.10,887.24 345.90,881.57 346.70,876.10 C347.50,870.63 348.30,864.22 349.10,858.10 C349.53,854.79 349.97,851.47 350.40,848.00 C351.77,837.05 353.13,825.56 354.50,813.60 C355.77,802.52 357.03,791.00 358.30,778.90 C359.27,769.67 360.23,760.34 361.20,750.00 C361.73,744.30 362.27,737.54 362.80,731.80 C363.63,722.84 364.47,713.65 365.30,706.50 C366.13,699.35 366.97,691.91 367.80,687.90 C368.67,683.73 369.53,680.06 370.40,678.70 C370.93,677.86 371.47,677.00 372.00,677.00 C372.87,677.00 373.73,678.72 374.60,680.40 C375.43,682.01 376.27,685.78 377.10,689.60 C377.93,693.42 378.77,699.57 379.60,704.80 C380.47,710.24 381.33,715.70 382.20,721.70 C383.03,727.47 383.87,734.65 384.70,740.20 C385.23,743.75 385.77,746.61 386.30,750.00 C387.27,756.14 388.23,762.75 389.20,769.30 C390.13,775.62 391.07,782.39 392.00,788.60 C393.30,797.25 394.60,803.99 395.90,813.60 C396.80,820.25 397.70,828.97 398.60,836.70 C399.50,844.43 400.40,854.23 401.30,860.00 C402.50,867.70 403.70,872.07 404.90,878.00 C406.13,884.10 407.37,890.64 408.60,896.10 C410.10,902.74 411.60,908.48 413.10,914.20 C414.60,919.92 416.10,924.97 417.60,930.50 C418.80,934.92 420.00,940.76 421.20,944.00 C422.47,947.42 423.73,949.65 425.00,952.00 C426.67,955.09 428.33,957.36 430.00,960.20 C430.97,961.85 431.93,963.43 432.90,965.30 C434.33,968.07 435.77,972.25 437.20,974.70 C439.13,978.01 441.07,980.48 443.00,982.70 C444.93,984.92 446.87,986.80 448.80,988.40 C451.20,990.39 453.60,992.11 456.00,993.50 C457.47,994.35 458.93,994.86 460.40,995.70 C461.83,996.52 463.27,997.67 464.70,998.60 C466.63,999.85 468.57,1001.40 470.50,1002.20 C472.43,1003.00 474.37,1003.58 476.30,1004.00 C477.87,1004.34 479.43,1004.55 481.00,1004.80 C482.50,1005.04 484.00,1005.50 485.50,1005.50 C487.67,1005.50 489.83,1005.37 492.00,1005.20 C493.67,1005.07 495.33,1004.45 497.00,1004.10 C498.80,1003.72 500.60,1003.00 502.40,1003.00 C504.63,1003.00 506.87,1003.63 509.10,1004.20 C510.23,1004.49 511.37,1005.21 512.50,1005.50 C514.33,1005.96 516.17,1006.25 518.00,1006.50 C520.43,1006.84 522.87,1007.01 525.30,1007.30 C530.93,1007.96 536.57,1008.90 542.20,1009.50 C547.80,1010.09 553.40,1010.75 559.00,1011.00 C566.00,1011.31 573.00,1011.55 580.00,1011.60 C598.00,1011.73 616.00,1011.73 634.00,1011.80" fill="none" stroke="#000" stroke-opacity="1" stroke-width="1.45" stroke-linejoin="round"/>

<path d="M410.94,720.41 L411.08,717.03 L411.23,713.37 L411.37,709.50 L411.51,705.50 L411.65,701.47 L411.79,697.48 L411.93,693.63 L412.08,689.99 L412.22,686.64 L412.36,683.69 L412.50,681.20 L412.72,677.91 L412.93,674.85 L413.15,671.99 L413.37,669.32 L413.58,666.81 L413.80,664.46 L414.02,662.24 L414.23,660.13 L414.45,658.12 L414.67,656.19 L414.88,654.32 L415.10,652.50 L415.31,650.78 L415.52,649.10 L415.73,647.47 L415.93,645.89 L416.14,644.37 L416.35,642.90 L416.56,641.51 L416.77,640.18 L416.98,638.94 L417.18,637.77 L417.39,636.69 L417.60,635.70 L417.81,634.76 L418.02,633.84 L418.23,632.94 L418.43,632.06 L418.64,631.23 L418.85,630.44 L419.06,629.71 L419.27,629.05 L419.48,628.45 L419.68,627.94 L419.89,627.52 L420.10,627.20 L420.31,626.93 L420.52,626.68 L420.73,626.43 L420.93,626.20 L421.14,625.99 L421.35,625.80 L421.56,625.62 L421.77,625.48 L421.98,625.36 L422.18,625.27 L422.39,625.22 L422.60,625.20 L422.82,625.24 L423.03,625.35 L423.25,625.52 L423.47,625.75 L423.68,626.04 L423.90,626.36 L424.12,626.73 L424.33,627.13 L424.55,627.55 L424.77,627.99 L424.98,628.44 L425.20,628.90 L425.41,629.39 L425.62,629.99 L425.82,630.68 L426.03,631.44 L426.24,632.28 L426.45,633.17 L426.66,634.10 L426.87,635.06 L427.07,636.04 L427.28,637.04 L427.49,638.03 L427.70,639.00 L427.91,639.97 L428.12,640.96 L428.32,641.96 L428.53,642.99 L428.74,644.05 L428.95,645.14 L429.16,646.26 L429.37,647.42 L429.57,648.62 L429.78,649.87 L429.99,651.16 L430.20,652.50 L430.42,653.97 L430.63,655.53 L430.85,657.17 L431.07,658.88 L431.28,660.67 L431.50,662.51 L431.72,664.40 L431.93,666.34 L432.15,668.32 L432.37,670.32 L432.58,672.35 L432.80,674.40 L433.01,676.37 L433.22,678.33 L433.43,680.30 L433.63,682.30 L433.84,684.35 L434.05,686.46 L434.26,688.66 L434.47,690.94 L434.68,693.35 L434.88,695.88 L435.09,698.56 L435.30,701.40 L435.48,704.25 L435.67,707.57 L435.85,711.27 L436.03,715.25 L436.22,719.40 L436.40,723.62 L436.58,727.82 L436.77,731.90 L436.95,735.76 L437.13,739.29 L437.32,742.41 L437.50,745.00 L437.72,747.71 L437.95,750.21 L438.18,752.52 L438.40,754.68 L438.62,756.70 L438.85,758.62 L439.07,760.46 L439.30,762.24 L439.52,763.99 L439.75,765.73 L439.98,767.49 L440.20,769.30 L440.52,771.92 L440.85,774.46 L441.18,776.95 L441.50,779.38 L441.82,781.77 L442.15,784.12 L442.47,786.46 L442.80,788.79 L443.12,791.12 L443.45,793.45 L443.78,795.81 L444.10,798.20 L444.42,800.62 L444.75,803.06 L445.07,805.51 L445.40,807.97 L445.72,810.43 L446.05,812.88 L446.38,815.32 L446.70,817.74 L447.02,820.13 L447.35,822.49 L447.68,824.82 L448.00,827.10 L448.29,829.09 L448.58,831.03 L448.88,832.92 L449.17,834.78 L449.46,836.62 L449.75,838.45 L450.04,840.29 L450.33,842.15 L450.62,844.04 L450.92,845.97 L451.21,847.95 L451.50,850.00 L451.61,850.80 L451.72,851.63 L451.82,852.49 L451.93,853.37 L452.04,854.26 L452.15,855.14 L452.26,856.03 L452.37,856.89 L452.48,857.73 L452.58,858.53 L452.69,859.29 L452.80,860.00 L453.10,861.82 L453.40,863.53 L453.70,865.14 L454.00,866.67 L454.30,868.14 L454.60,869.56 L454.90,870.96 L455.20,872.33 L455.50,873.71 L455.80,875.10 L456.10,876.53 L456.40,878.00 L456.70,879.51 L457.00,881.02 L457.30,882.53 L457.60,884.04 L457.90,885.56 L458.20,887.07 L458.50,888.59 L458.80,890.10 L459.10,891.61 L459.40,893.11 L459.70,894.61 L460.00,896.10 L460.31,897.62 L460.62,899.14 L460.93,900.65 L461.23,902.15 L461.54,903.65 L461.85,905.15 L462.16,906.65 L462.47,908.15 L462.77,909.65 L463.08,911.16 L463.39,912.68 L463.70,914.20 L464.00,915.67 L464.30,917.13 L464.60,918.57 L464.90,920.00 L465.20,921.44 L465.50,922.89 L465.80,924.36 L466.10,925.86 L466.40,927.40 L466.70,928.97 L467.00,930.61 L467.30,932.30 L467.40,932.90 L467.50,933.54 L467.60,934.21 L467.70,934.90 L467.80,935.60 L467.90,936.30 L468.00,937.00 L468.10,937.68 L468.20,938.32 L468.30,938.93 L468.40,939.50 L468.50,940.00 L468.67,940.76 L468.83,941.47 L469.00,942.14 L469.17,942.78 L469.33,943.38 L469.50,943.96 L469.67,944.52 L469.83,945.06 L470.00,945.59 L470.17,946.12 L470.33,946.66 L470.50,947.20 L470.74,947.98 L470.98,948.75 L471.23,949.49 L471.47,950.23 L471.71,950.94 L471.95,951.66 L472.19,952.36 L472.43,953.06 L472.68,953.76 L472.92,954.47 L473.16,955.18 L473.40,955.90 L473.64,956.62 L473.88,957.35 L474.12,958.07 L474.37,958.80 L474.61,959.52 L474.85,960.25 L475.09,960.98 L475.33,961.70 L475.58,962.42 L475.82,963.15 L476.06,963.88 L476.30,964.60 L476.54,965.33 L476.78,966.05 L477.03,966.78 L477.27,967.50 L477.51,968.23 L477.75,968.96 L477.99,969.68 L478.23,970.41 L478.48,971.13 L478.72,971.86 L478.96,972.58 L479.20,973.30 L479.44,974.02 L479.68,974.74 L479.93,975.45 L480.17,976.17 L480.41,976.89 L480.65,977.60 L480.89,978.31 L481.13,979.03 L481.38,979.75 L481.62,980.46 L481.86,981.18 L482.10,981.90 L482.34,982.63 L482.58,983.36 L482.82,984.10 L483.07,984.84 L483.31,985.59 L483.55,986.33 L483.79,987.07 L484.03,987.80 L484.28,988.52 L484.52,989.23 L484.76,989.92 L485.00,990.60 L485.23,991.25 L485.47,991.90 L485.70,992.56 L485.93,993.21 L486.17,993.86 L486.40,994.49 L486.63,995.11 L486.87,995.70 L487.10,996.28 L487.33,996.82 L487.57,997.33 L487.80,997.80 L488.02,998.23 L488.25,998.65 L488.48,999.07 L488.70,999.47 L488.92,999.85 L489.15,1000.22 L489.38,1000.57 L489.60,1000.90 L489.83,1001.21 L490.05,1001.50 L490.28,1001.76 L490.50,1002.00 L490.83,1002.32 L491.17,1002.63 L491.50,1002.92 L491.83,1003.20 L492.17,1003.46 L492.50,1003.70 L492.83,1003.92 L493.17,1004.13 L493.50,1004.33 L493.83,1004.50 L494.17,1004.66" fill="none" stroke="#000" stroke-width="1.45" stroke-linejoin="round" stroke-linecap="butt"/>
<path d="M526.00,1001.50 L526.42,1001.44 L526.85,1001.37 L527.27,1001.30 L527.70,1001.23 L528.12,1001.17 L528.55,1001.11 L528.98,1001.05 L529.40,1001.00 L529.83,1000.96 L530.25,1000.93 L530.68,1000.91 L531.10,1000.90 L531.74,1000.92 L532.38,1000.97 L533.02,1001.06 L533.67,1001.16 L534.31,1001.28 L534.95,1001.40 L535.59,1001.52" fill="none" stroke="#000" stroke-width="1.45" stroke-linejoin="round" stroke-linecap="butt"/>
<path d="M539.65,1001.80 L540.07,1001.68 L540.50,1001.54 L540.92,1001.37 L541.35,1001.18 L541.77,1000.99 L542.20,1000.79 L542.62,1000.61 L543.05,1000.45 L543.48,1000.31 L543.90,1000.20 L544.17,1000.14 L544.45,1000.09 L544.72,1000.03 L545.00,999.97 L545.27,999.92 L545.55,999.87 L545.83,999.82 L546.10,999.78 L546.38,999.75 L546.65,999.72 L546.93,999.71 L547.20,999.70 L547.62,999.72 L548.05,999.77 L548.48,999.84 L548.90,999.94 L549.32,1000.06 L549.75,1000.20 L550.18,1000.35 L550.60,1000.50 L551.02,1000.66 L551.45,1000.81 L551.88,1000.96 L552.30,1001.10 L552.86,1001.28 L553.42,1001.48 L553.98,1001.68 L554.53,1001.90 L555.09,1002.11 L555.65,1002.34 L556.21,1002.56 L556.77,1002.78 L557.33,1003.00 L557.88,1003.21 L558.44,1003.41 L559.00,1003.60 L559.71,1003.83 L560.42,1004.05 L561.12,1004.27 L561.83,1004.47 L562.54,1004.68 L563.25,1004.88 L563.96,1005.08 L564.67,1005.28 L565.38,1005.48 L566.08,1005.68 L566.79,1005.89 L567.50,1006.10 L568.20,1006.32 L568.90,1006.54 L569.60,1006.77 L570.30,1007.00 L571.00,1007.23 L571.70,1007.46 L572.40,1007.69 L573.10,1007.91 L573.80,1008.12 L574.50,1008.33 L575.20,1008.52 L575.90,1008.70 L576.60,1008.87 L577.30,1009.03 L578.00,1009.20 L578.70,1009.35 L579.40,1009.50 L580.10,1009.65 L580.80,1009.79 L581.50,1009.93 L582.20,1010.05 L582.90,1010.18 L583.60,1010.29 L584.30,1010.40 L585.01,1010.51 L585.72,1010.61 L586.42,1010.71 L587.13,1010.81 L587.84,1010.91 L588.55,1011.00 L589.26,1011.09 L589.97,1011.17 L590.67,1011.24 L591.38,1011.30 L592.09,1011.36 L592.80,1011.40 L593.50,1011.44 L594.20,1011.47" fill="none" stroke="#000" stroke-width="1.45" stroke-linejoin="round" stroke-linecap="butt"/>
<path d="M313.22,904.01 L313.40,903.80 L313.58,903.63 L313.77,903.46 L313.95,903.31 L314.13,903.16 L314.32,903.02 L314.50,902.89 L314.68,902.78 L314.87,902.68 L315.05,902.61 L315.23,902.55 L315.42,902.51 L315.60,902.50 L315.82,902.51 L316.05,902.54 L316.28,902.59 L316.50,902.65 L316.72,902.73 L316.95,902.82 L317.18,902.93 L317.40,903.05 L317.62,903.17 L317.85,903.31 L318.08,903.45 L318.30,903.60 L318.48,903.76 L318.67,903.97 L318.85,904.23 L319.03,904.53 L319.22,904.87 L319.40,905.23 L319.58,905.60 L319.77,905.98 L319.95,906.36 L320.13,906.73 L320.32,907.08 L320.50,907.40 L320.73,907.78 L320.95,908.16 L321.18,908.54 L321.40,908.92 L321.62,909.30 L321.85,909.68 L322.08,910.05 L322.30,910.40 L322.52,910.75 L322.75,911.08 L322.98,911.40 L323.20,911.70 L323.42,911.98 L323.65,912.24 L323.88,912.48 L324.10,912.71 L324.32,912.93 L324.55,913.15 L324.78,913.37 L325.00,913.59 L325.22,913.82 L325.45,914.06 L325.68,914.32 L325.90,914.60 L326.12,914.90 L326.35,915.22 L326.57,915.56 L326.80,915.92" fill="none" stroke="#000" stroke-width="1.45" stroke-linejoin="round" stroke-linecap="butt"/>
<path d="M392.82,643.96 L392.96,641.45 L393.10,639.00 L393.24,636.60 L393.38,634.24 L393.53,631.92 L393.67,629.65 L393.81,627.43 L393.95,625.26 L394.09,623.15 L394.23,621.11 L394.38,619.14 L394.52,617.24 L394.66,615.43 L394.80,613.70 L394.94,612.01 L395.08,610.32 L395.23,608.64 L395.37,607.00 L395.51,605.40 L395.65,603.87 L395.79,602.41 L395.93,601.05 L396.08,599.81 L396.22,598.69 L396.36,597.71 L396.50,596.90 L396.64,596.17 L396.78,595.45 L396.93,594.75 L397.07,594.08 L397.21,593.44 L397.35,592.86 L397.49,592.33 L397.63,591.88 L397.77,591.51 L397.92,591.23 L398.06,591.06 L398.20,591.00 L398.34,591.02 L398.48,591.09 L398.62,591.20 L398.77,591.34 L398.91,591.52 L399.05,591.73 L399.19,591.97 L399.33,592.24 L399.47,592.53 L399.62,592.84 L399.76,593.16 L399.90,593.50 L400.04,593.93 L400.18,594.52 L400.32,595.25 L400.47,596.11 L400.61,597.08 L400.75,598.13 L400.89,599.26 L401.03,600.43 L401.18,601.64 L401.32,602.87 L401.46,604.09 L401.60,605.30 L401.73,606.47 L401.87,607.73 L402.00,609.07 L402.13,610.47 L402.27,611.91 L402.40,613.40 L402.53,614.90 L402.67,616.40 L402.80,617.90 L402.93,619.38 L403.07,620.81 L403.20,622.20 L403.42,624.35 L403.63,626.41 L403.85,628.41 L404.07,630.37 L404.28,632.32 L404.50,634.27 L404.72,636.26 L404.93,638.30 L405.15,640.42 L405.37,642.64 L405.58,645.00 L405.80,647.50 L405.94,649.26 L406.08,651.14 L406.23,653.12 L406.37,655.19 L406.51,657.33 L406.65,659.53 L406.79,661.75 L406.93,664.00 L407.08,666.24 L407.22,668.47 L407.36,670.66 L407.50,672.80 L407.64,674.90 L407.78,677.00 L407.93,679.09 L408.07,681.18 L408.21,683.26 L408.35,685.35 L408.49,687.45 L408.63,689.55 L408.77,691.67 L408.92,693.79 L409.06,695.94 L409.20,698.10 L409.33,700.17 L409.47,702.29 L409.60,704.44 L409.73,706.62 L409.87,708.80 L410.00,710.98 L410.13,713.16 L410.27,715.30 L410.40,717.41 L410.53,719.47 L410.67,721.47 L410.80,723.40 L411.01,726.34 L411.22,729.25 L411.43,732.12 L411.63,734.94 L411.84,737.72 L412.05,740.43 L412.26,743.07 L412.47,745.64 L412.68,748.13 L412.88,750.52 L413.09,752.81 L413.30,755.00 L413.53,757.32 L413.77,759.53 L414.00,761.63 L414.23,763.66 L414.47,765.61 L414.70,767.52 L414.93,769.40 L415.17,771.26 L415.40,773.12 L415.63,775.01 L415.87,776.93 L416.10,778.90 L416.34,781.01 L416.58,783.17 L416.82,785.36 L417.07,787.58 L417.31,789.79 L417.55,791.99 L417.79,794.16 L418.03,796.29 L418.28,798.35 L418.52,800.34 L418.76,802.22 L419.00,804.00 L419.32,806.24 L419.65,808.36 L419.98,810.38 L420.30,812.32 L420.62,814.19 L420.95,816.02 L421.27,817.82 L421.60,819.62 L421.92,821.42 L422.25,823.26 L422.57,825.15 L422.90,827.10 L423.20,828.97 L423.50,830.88 L423.80,832.82 L424.10,834.79 L424.40,836.77 L424.70,838.74 L425.00,840.71 L425.30,842.66 L425.60,844.57 L425.90,846.44 L426.20,848.25 L426.50,850.00 L426.66,850.89 L426.82,851.74 L426.98,852.57 L427.13,853.38 L427.29,854.17 L427.45,854.97 L427.61,855.76 L427.77,856.57 L427.92,857.38 L428.08,858.23 L428.24,859.09 L428.40,860.00 L428.62,861.36 L428.85,862.80 L429.07,864.30 L429.30,865.85 L429.52,867.43 L429.75,869.02 L429.98,870.62 L430.20,872.19 L430.43,873.74 L430.65,875.23 L430.88,876.66 L431.10,878.00 L431.40,879.71 L431.70,881.38 L432.00,883.00 L432.30,884.59 L432.60,886.14 L432.90,887.65 L433.20,889.13 L433.50,890.58 L433.80,892.00 L434.10,893.39 L434.40,894.76 L434.70,896.10 L435.08,897.79 L435.47,899.44 L435.85,901.06 L436.23,902.65 L436.62,904.21 L437.00,905.74 L437.38,907.23 L437.77,908.69 L438.15,910.12 L438.53,911.51 L438.92,912.87 L439.30,914.20 L439.67,915.46 L440.05,916.69 L440.43,917.89 L440.80,919.06 L441.17,920.21 L441.55,921.33 L441.93,922.44 L442.30,923.53 L442.68,924.61 L443.05,925.68 L443.43,926.74 L443.80,927.80 L444.18,928.88 L444.57,929.97 L444.95,931.05 L445.33,932.12 L445.72,933.19 L446.10,934.24 L446.48,935.26 L446.87,936.27 L447.25,937.25 L447.63,938.20 L448.02,939.12 L448.40,940.00 L448.67,940.61 L448.95,941.20 L449.22,941.78 L449.50,942.34 L449.77,942.89 L450.05,943.43 L450.32,943.96 L450.60,944.49 L450.88,945.00 L451.15,945.50 L451.43,946.00 L451.70,946.50 L452.18,947.35 L452.67,948.18 L453.15,948.98 L453.63,949.77 L454.12,950.54 L454.60,951.31 L455.08,952.06 L455.57,952.82 L456.05,953.57 L456.53,954.34 L457.02,955.11 L457.50,955.90 L457.86,956.48 L458.22,957.05 L458.57,957.61 L458.93,958.17 L459.29,958.73 L459.65,959.29 L460.01,959.87 L460.37,960.46 L460.73,961.08 L461.08,961.72 L461.44,962.39 L461.80,963.10 L462.04,963.61 L462.28,964.16 L462.53,964.73 L462.77,965.33 L463.01,965.95 L463.25,966.58 L463.49,967.22 L463.73,967.87 L463.98,968.52 L464.22,969.16 L464.46,969.79 L464.70,970.40 L464.94,971.01 L465.18,971.62 L465.43,972.24 L465.67,972.86 L465.91,973.48 L466.15,974.10 L466.39,974.71 L466.63,975.31 L466.88,975.91 L467.12,976.49 L467.36,977.05 L467.60,977.60 L467.90,978.26 L468.20,978.91 L468.50,979.55 L468.80,980.18 L469.10,980.79 L469.40,981.40 L469.70,981.99 L470.00,982.57 L470.30,983.15 L470.60,983.71 L470.90,984.26 L471.20,984.80 L471.50,985.33 L471.80,985.84 L472.10,986.34 L472.40,986.82 L472.70,987.30 L473.00,987.77 L473.30,988.24 L473.60,988.71 L473.90,989.17 L474.20,989.64 L474.50,990.12 L474.80,990.60 L475.17,991.20 L475.53,991.82 L475.90,992.45 L476.27,993.09 L476.63,993.73 L477.00,994.36 L477.37,994.98 L477.73,995.59 L478.10,996.19 L478.47,996.75 L478.83,997.29 L479.20,997.80 L479.67,998.43 L480.13,999.07 L480.60,999.71 L481.07,1000.34 L481.53,1000.96 L482.00,1001.55 L482.47,1002.10 L482.93,1002.61 L483.40,1003.06 L483.87,1003.45 L484.33,1003.77 L484.80,1004.00 L485.77,1004.38 L486.73,1004.73 L487.70,1005.07" fill="none" stroke="#000" stroke-width="1.45" stroke-linejoin="round" stroke-linecap="butt"/>
<path d="M522.71,1001.73 L523.17,1001.69 L523.62,1001.65 L524.08,1001.62 L524.54,1001.61 L525.00,1001.60 L525.51,1001.60 L526.02,1001.61 L526.52,1001.63 L527.03,1001.65 L527.54,1001.68 L528.05,1001.70 L528.56,1001.72 L529.07,1001.75 L529.58,1001.77 L530.08,1001.79 L530.59,1001.80 L531.10,1001.80 L531.60,1001.80 L532.10,1001.79 L532.60,1001.77 L533.10,1001.75 L533.60,1001.72 L534.10,1001.70 L534.60,1001.68 L535.10,1001.65 L535.60,1001.63 L536.10,1001.61 L536.60,1001.60 L537.10,1001.60 L537.67,1001.63 L538.23,1001.70 L538.80,1001.81 L539.37,1001.95 L539.93,1002.13 L540.50,1002.32 L541.07,1002.53 L541.63,1002.75 L542.20,1002.97 L542.77,1003.19 L543.33,1003.40 L543.90,1003.60 L544.46,1003.79 L545.02,1003.99 L545.58,1004.20 L546.13,1004.42 L546.69,1004.64 L547.25,1004.87 L547.81,1005.09 L548.37,1005.31 L548.92,1005.52 L549.48,1005.73 L550.04,1005.92 L550.60,1006.10 L551.30,1006.31 L552.00,1006.52 L552.70,1006.73 L553.40,1006.92 L554.10,1007.11 L554.80,1007.30 L555.50,1007.48 L556.20,1007.66 L556.90,1007.83 L557.60,1007.99 L558.30,1008.15 L559.00,1008.30 L559.98,1008.51 L560.97,1008.72 L561.95,1008.93 L562.93,1009.13 L563.92,1009.32 L564.90,1009.51 L565.88,1009.69 L566.87,1009.86 L567.85,1010.02 L568.83,1010.16 L569.82,1010.29 L570.80,1010.40 L571.92,1010.52 L573.05,1010.63 L574.17,1010.75 L575.30,1010.85 L576.42,1010.95 L577.55,1011.05 L578.67,1011.14 L579.80,1011.21 L580.92,1011.28 L582.05,1011.33 L583.17,1011.37 L584.30,1011.40 L588.44,1011.47 L592.58,1011.52 L596.73,1011.56 L600.87,1011.60 L605.01,1011.63 L609.15,1011.66" fill="none" stroke="#000" stroke-width="1.45" stroke-linejoin="round" stroke-linecap="butt"/>
<path d="M304.60,902.72 L304.83,902.42 L305.07,902.14 L305.30,901.90 L305.52,901.68 L305.75,901.44 L305.98,901.20 L306.20,900.97 L306.42,900.74 L306.65,900.52 L306.88,900.33 L307.10,900.15 L307.33,900.01 L307.55,899.90 L307.77,899.82 L308.00,899.80 L308.22,899.81 L308.45,899.84 L308.68,899.88 L308.90,899.94 L309.12,900.02 L309.35,900.10 L309.57,900.20 L309.80,900.31 L310.02,900.42 L310.25,900.54 L310.48,900.67 L310.70,900.80 L310.88,900.92 L311.07,901.05 L311.25,901.21 L311.43,901.38 L311.62,901.58 L311.80,901.80 L311.98,902.04 L312.17,902.31 L312.35,902.59 L312.53,902.90 L312.72,903.24 L312.90,903.60 L312.99,903.82 L313.08,904.09 L313.18,904.41 L313.27,904.77 L313.36,905.16 L313.45,905.56 L313.54,905.98 L313.63,906.40 L313.73,906.81 L313.82,907.20 L313.91,907.57 L314.00,907.90 L314.13,908.35 L314.27,908.79 L314.40,909.22 L314.53,909.65 L314.67,910.06 L314.80,910.47 L314.93,910.86 L315.07,911.24 L315.20,911.60 L315.33,911.95 L315.47,912.29 L315.60,912.60 L315.73,912.91 L315.87,913.21 L316.00,913.51 L316.13,913.80 L316.27,914.09 L316.40,914.36 L316.53,914.62 L316.67,914.86 L316.80,915.08 L316.93,915.28 L317.07,915.45 L317.20,915.60 L317.38,915.78" fill="none" stroke="#000" stroke-width="1.45" stroke-linejoin="round" stroke-linecap="butt"/>
<path d="M380.18,705.53 L380.30,702.58 L380.42,699.71 L380.55,696.90 L380.68,694.16 L380.80,691.47 L380.93,688.84 L381.05,686.26 L381.18,683.71 L381.30,681.20 L381.44,678.38 L381.58,675.58 L381.73,672.82 L381.87,670.09 L382.01,667.41 L382.15,664.79 L382.29,662.24 L382.43,659.76 L382.58,657.37 L382.72,655.08 L382.86,652.88 L383.00,650.80 L383.14,648.79 L383.28,646.81 L383.43,644.86 L383.57,642.96 L383.71,641.12 L383.85,639.35 L383.99,637.65 L384.13,636.03 L384.27,634.51 L384.42,633.09 L384.56,631.79 L384.70,630.60 L384.84,629.48 L384.98,628.36 L385.12,627.27 L385.27,626.21 L385.41,625.20 L385.55,624.24 L385.69,623.36 L385.83,622.57 L385.97,621.87 L386.12,621.28 L386.26,620.82 L386.40,620.50 L386.51,620.31 L386.62,620.13 L386.72,619.96 L386.83,619.80 L386.94,619.65 L387.05,619.51 L387.16,619.39 L387.27,619.29 L387.38,619.21 L387.48,619.15 L387.59,619.11 L387.70,619.10 L387.87,619.15 L388.05,619.28 L388.22,619.50 L388.40,619.79 L388.57,620.15 L388.75,620.56 L388.93,621.03 L389.10,621.54 L389.27,622.09 L389.45,622.68 L389.62,623.28 L389.80,623.90 L389.93,624.46 L390.07,625.16 L390.20,625.98 L390.33,626.91 L390.47,627.93 L390.60,629.00 L390.73,630.13 L390.87,631.27 L391.00,632.43 L391.13,633.56 L391.27,634.66 L391.40,635.70 L391.62,637.34 L391.83,638.97 L392.05,640.61 L392.27,642.26 L392.48,643.91 L392.70,645.58 L392.92,647.25 L393.13,648.94 L393.35,650.65 L393.57,652.38 L393.78,654.13 L394.00,655.90 L394.21,657.63 L394.42,659.40 L394.62,661.19 L394.83,663.01 L395.04,664.84 L395.25,666.69 L395.46,668.54 L395.67,670.40 L395.88,672.26 L396.08,674.12 L396.29,675.97 L396.50,677.80 L396.71,679.62 L396.92,681.44 L397.12,683.25 L397.33,685.07 L397.54,686.88 L397.75,688.70 L397.96,690.51 L398.17,692.34 L398.38,694.16 L398.58,696.00 L398.79,697.84 L399.00,699.70 L399.22,701.63 L399.43,703.54 L399.65,705.44 L399.87,707.35 L400.08,709.26 L400.30,711.18 L400.52,713.12 L400.73,715.10 L400.95,717.10 L401.17,719.15 L401.38,721.25 L401.60,723.40 L401.78,725.28 L401.97,727.21 L402.15,729.19 L402.33,731.22 L402.52,733.28 L402.70,735.36 L402.88,737.46 L403.07,739.58 L403.25,741.70 L403.43,743.81 L403.62,745.92 L403.80,748.00 L404.02,750.59 L404.25,753.25 L404.48,755.97 L404.70,758.71 L404.92,761.46 L405.15,764.19 L405.38,766.88 L405.60,769.50 L405.83,772.04 L406.05,774.47 L406.27,776.76 L406.50,778.90 L406.82,781.74 L407.15,784.37 L407.48,786.82 L407.80,789.14 L408.12,791.37 L408.45,793.55 L408.77,795.72 L409.10,797.91 L409.42,800.18 L409.75,802.55 L410.07,805.08 L410.40,807.80 L410.63,809.90 L410.87,812.14 L411.10,814.49 L411.33,816.92 L411.57,819.41 L411.80,821.94 L412.03,824.49 L412.27,827.04 L412.50,829.55 L412.73,832.02 L412.97,834.41 L413.20,836.70 L413.42,838.78 L413.63,840.85 L413.85,842.91 L414.07,844.96 L414.28,846.98 L414.50,848.98 L414.72,850.94 L414.93,852.86 L415.15,854.73 L415.37,856.55 L415.58,858.31 L415.80,860.00 L416.02,861.70 L416.25,863.36 L416.48,864.99 L416.70,866.57 L416.92,868.12 L417.15,869.64 L417.38,871.11 L417.60,872.56 L417.82,873.96 L418.05,875.34 L418.27,876.69 L418.50,878.00 L418.80,879.72 L419.10,881.40 L419.40,883.06 L419.70,884.68 L420.00,886.26 L420.30,887.80 L420.60,889.30 L420.90,890.76 L421.20,892.17 L421.50,893.53 L421.80,894.84 L422.10,896.10 L422.47,897.61 L422.85,899.07 L423.23,900.49 L423.60,901.86 L423.97,903.19 L424.35,904.47 L424.73,905.72 L425.10,906.94 L425.48,908.12 L425.85,909.27 L426.23,910.40 L426.60,911.50 L427.05,912.77 L427.50,913.99 L427.95,915.15 L428.40,916.28 L428.85,917.37 L429.30,918.44 L429.75,919.51 L430.20,920.57 L430.65,921.64 L431.10,922.73 L431.55,923.84 L432.00,925.00 L432.27,925.71 L432.55,926.42 L432.82,927.12 L433.10,927.83 L433.37,928.54 L433.65,929.25 L433.93,929.98 L434.20,930.73 L434.48,931.51 L434.75,932.30 L435.02,933.13 L435.30,934.00 L435.43,934.45 L435.57,934.93 L435.70,935.43 L435.83,935.95 L435.97,936.49 L436.10,937.03 L436.23,937.57 L436.37,938.10 L436.50,938.61 L436.63,939.11 L436.77,939.57 L436.90,940.00 L437.17,940.80 L437.43,941.56 L437.70,942.28 L437.97,942.98 L438.23,943.65 L438.50,944.30 L438.77,944.94 L439.03,945.56 L439.30,946.17 L439.57,946.78 L439.83,947.39 L440.10,948.00 L440.47,948.84 L440.83,949.68 L441.20,950.50 L441.57,951.31 L441.93,952.11 L442.30,952.90 L442.67,953.68 L443.03,954.45 L443.40,955.20 L443.77,955.95 L444.13,956.68 L444.50,957.40 L444.97,958.32 L445.45,959.22 L445.93,960.11 L446.40,960.98 L446.87,961.84 L447.35,962.69 L447.82,963.53 L448.30,964.35 L448.77,965.16 L449.25,965.95 L449.73,966.73 L450.20,967.50 L450.57,968.09 L450.93,968.67 L451.30,969.24 L451.67,969.81 L452.03,970.37 L452.40,970.92 L452.77,971.46 L453.13,971.99 L453.50,972.51 L453.87,973.02 L454.23,973.52 L454.60,974.00 L454.96,974.46 L455.32,974.89 L455.68,975.32 L456.03,975.73 L456.39,976.14 L456.75,976.54 L457.11,976.93 L457.47,977.33 L457.82,977.73 L458.18,978.14 L458.54,978.57 L458.90,979.00 L459.27,979.45 L459.63,979.91 L460.00,980.36 L460.37,980.83 L460.73,981.29 L461.10,981.76 L461.47,982.24 L461.83,982.73 L462.20,983.23 L462.57,983.74 L462.93,984.26 L463.30,984.80 L463.66,985.35 L464.02,985.93 L464.38,986.54 L464.73,987.16 L465.09,987.80 L465.45,988.45 L465.81,989.09 L466.17,989.73 L466.53,990.36 L466.88,990.97 L467.24,991.55 L467.60,992.10 L467.96,992.63 L468.32,993.15 L468.68,993.66 L469.03,994.16 L469.39,994.66 L469.75,995.14 L470.11,995.61 L470.47,996.07 L470.82,996.52 L471.18,996.96 L471.54,997.39 L471.90,997.80 L472.27,998.22 L472.63,998.64 L473.00,999.05 L473.37,999.46 L473.73,999.86 L474.10,1000.25 L474.47,1000.63 L474.83,1000.99 L475.20,1001.33 L475.57,1001.64 L475.93,1001.94 L476.30,1002.20 L476.69,1002.46 L477.08,1002.71 L477.48,1002.95 L477.87,1003.18 L478.26,1003.40 L478.65,1003.60 L479.04,1003.80 L479.43,1003.98 L479.83,1004.16 L480.22,1004.32 L480.61,1004.46 L481.00,1004.60 L481.80,1004.87" fill="none" stroke="#000" stroke-width="1.45" stroke-linejoin="round" stroke-linecap="butt"/>
<path d="M510.30,1004.57 L510.73,1004.30 L511.17,1004.01 L511.60,1003.71 L512.03,1003.40 L512.47,1003.11 L512.90,1002.83 L513.33,1002.58 L513.77,1002.37 L514.20,1002.20 L514.62,1002.06 L515.05,1001.91 L515.48,1001.77 L515.90,1001.64 L516.32,1001.51 L516.75,1001.39 L517.17,1001.28 L517.60,1001.19 L518.02,1001.11 L518.45,1001.05 L518.88,1001.01 L519.30,1001.00 L519.72,1001.02 L520.13,1001.06 L520.55,1001.14 L520.97,1001.24 L521.38,1001.36 L521.80,1001.49 L522.22,1001.64 L522.63,1001.79 L523.05,1001.95 L523.47,1002.10 L523.88,1002.25 L524.30,1002.40 L524.81,1002.58 L525.32,1002.79 L525.83,1003.01 L526.33,1003.24 L526.84,1003.48 L527.35,1003.72 L527.86,1003.96 L528.37,1004.20 L528.88,1004.42 L529.38,1004.64 L529.89,1004.83 L530.40,1005.00 L531.10,1005.21 L531.80,1005.41 L532.50,1005.60 L533.20,1005.78 L533.90,1005.95 L534.60,1006.12 L535.30,1006.27 L536.00,1006.43 L536.70,1006.57 L537.40,1006.72 L538.10,1006.86 L538.80,1007.00 L539.78,1007.19 L540.77,1007.39 L541.75,1007.57 L542.73,1007.76 L543.72,1007.93 L544.70,1008.11 L545.68,1008.27 L546.67,1008.43 L547.65,1008.59 L548.63,1008.73 L549.62,1008.87 L550.60,1009.00 L552.01,1009.18 L553.42,1009.35 L554.83,1009.52 L556.23,1009.69 L557.64,1009.85 L559.05,1010.00 L560.46,1010.14 L561.87,1010.27 L563.27,1010.40 L564.68,1010.51 L566.09,1010.61 L567.50,1010.70 L569.38,1010.81 L571.25,1010.91 L573.12,1011.02 L575.00,1011.11 L576.87,1011.20 L578.75,1011.29 L580.62,1011.37 L582.50,1011.43 L584.38,1011.49 L586.25,1011.54 L588.12,1011.58 L590.00,1011.60" fill="none" stroke="#000" stroke-width="1.45" stroke-linejoin="round" stroke-linecap="butt"/>

<line x1="90.75" y1="570.00" x2="649.85" y2="570.00" stroke="#000" stroke-width="1.3"/>
<line x1="649.20" y1="570.00" x2="649.20" y2="1032.40" stroke="#000" stroke-width="1.3"/>
<line x1="90.75" y1="1032.40" x2="649.85" y2="1032.40" stroke="#000" stroke-width="1.3"/>
<line x1="91.40" y1="570.00" x2="91.40" y2="1032.40" stroke="#000" stroke-width="1.3"/>

<line x1="115.90" y1="1032.40" x2="115.90" y2="1038.40" stroke="#000" stroke-width="1.3"/>
<text x="115.90" y="1059.60" font-size="20.2" text-anchor="middle" font-weight="normal">5</text>
<line x1="200.50" y1="1032.40" x2="200.50" y2="1038.40" stroke="#000" stroke-width="1.3"/>
<text x="200.50" y="1059.60" font-size="20.2" text-anchor="middle" font-weight="normal">10</text>
<line x1="285.10" y1="1032.40" x2="285.10" y2="1038.40" stroke="#000" stroke-width="1.3"/>
<text x="285.10" y="1059.60" font-size="20.2" text-anchor="middle" font-weight="normal">15</text>
<line x1="369.70" y1="1032.40" x2="369.70" y2="1038.40" stroke="#000" stroke-width="1.3"/>
<text x="369.70" y="1059.60" font-size="20.2" text-anchor="middle" font-weight="normal">20</text>
<line x1="454.30" y1="1032.40" x2="454.30" y2="1038.40" stroke="#000" stroke-width="1.3"/>
<text x="454.30" y="1059.60" font-size="20.2" text-anchor="middle" font-weight="normal">25</text>
<line x1="538.90" y1="1032.40" x2="538.90" y2="1038.40" stroke="#000" stroke-width="1.3"/>
<text x="538.90" y="1059.60" font-size="20.2" text-anchor="middle" font-weight="normal">30</text>
<line x1="623.50" y1="1032.40" x2="623.50" y2="1038.40" stroke="#000" stroke-width="1.3"/>
<text x="623.50" y="1059.60" font-size="20.2" text-anchor="middle" font-weight="normal">35</text>

<line x1="85.40" y1="1011.90" x2="91.40" y2="1011.90" stroke="#000" stroke-width="1.3"/>
<text x="77.10" y="1018.60" font-size="20.2" text-anchor="end" font-weight="normal">0.00</text>
<line x1="85.40" y1="932.38" x2="91.40" y2="932.38" stroke="#000" stroke-width="1.3"/>
<text x="77.10" y="939.08" font-size="20.2" text-anchor="end" font-weight="normal">0.05</text>
<line x1="85.40" y1="852.86" x2="91.40" y2="852.86" stroke="#000" stroke-width="1.3"/>
<text x="77.10" y="859.56" font-size="20.2" text-anchor="end" font-weight="normal">0.10</text>
<line x1="85.40" y1="773.34" x2="91.40" y2="773.34" stroke="#000" stroke-width="1.3"/>
<text x="77.10" y="780.04" font-size="20.2" text-anchor="end" font-weight="normal">0.15</text>
<line x1="85.40" y1="693.82" x2="91.40" y2="693.82" stroke="#000" stroke-width="1.3"/>
<text x="77.10" y="700.52" font-size="20.2" text-anchor="end" font-weight="normal">0.20</text>
<line x1="85.40" y1="614.30" x2="91.40" y2="614.30" stroke="#000" stroke-width="1.3"/>
<text x="77.10" y="621.00" font-size="20.2" text-anchor="end" font-weight="normal">0.25</text>

<text x="371.2" y="1089.5" font-size="20.6" text-anchor="middle">Minimum Temperature (T<tspan font-size="15.5" dy="5.5">min</tspan><tspan dy="-5.5">, in °C)</tspan></text>

<text transform="translate(21,801.2) rotate(-90)" font-size="20.6" text-anchor="middle">Density</text>

<text x="0" y="574.6" font-size="27" font-weight="bold">B</text>
<text x="680.20" y="737.70" font-size="20.6" text-anchor="start" font-weight="normal">Threshold</text>
<rect x="680.85" y="757.35" width="23.2" height="23.2" fill="#ff967f" stroke="#000" stroke-width="1.5"/>
<text x="717" y="775.70" font-size="20.6">T<tspan font-size="16" dy="5.5">min</tspan><tspan dy="-5.5" dx="0.8"> &gt; 99P</tspan></text>
<rect x="680.85" y="789.40" width="23.2" height="23.2" fill="#9df09d" stroke="#000" stroke-width="1.5"/>
<text x="717" y="807.75" font-size="20.6">T<tspan font-size="16" dy="5.5">min</tspan><tspan dy="-5.5" dx="0.8"> &gt; 97P</tspan></text>
<rect x="680.85" y="821.45" width="23.2" height="23.2" fill="#acf5fa" stroke="#000" stroke-width="1.5"/>
<text x="717" y="839.80" font-size="20.6">T<tspan font-size="16" dy="5.5">min</tspan><tspan dy="-5.5" dx="0.8"> &gt; 95P</tspan></text>
<rect x="680.85" y="853.50" width="23.2" height="23.2" fill="#f2acff" stroke="#000" stroke-width="1.5"/>
<text x="717" y="871.85" font-size="20.6">T<tspan font-size="16" dy="5.5">min</tspan><tspan dy="-5.5" dx="0.8"> &gt; 90P</tspan></text>

<line x1="106.75" y1="1124.40" x2="106.75" y2="1586.60" stroke="#e6e6e6" stroke-width="1.1"/>
<line x1="133.40" y1="1124.40" x2="133.40" y2="1586.60" stroke="#e6e6e6" stroke-width="1.1"/>
<line x1="160.05" y1="1124.40" x2="160.05" y2="1586.60" stroke="#e6e6e6" stroke-width="1.1"/>
<line x1="186.70" y1="1124.40" x2="186.70" y2="1586.60" stroke="#e6e6e6" stroke-width="1.1"/>
<line x1="213.35" y1="1124.40" x2="213.35" y2="1586.60" stroke="#e6e6e6" stroke-width="1.1"/>
<line x1="240.00" y1="1124.40" x2="240.00" y2="1586.60" stroke="#e6e6e6" stroke-width="1.1"/>
<line x1="266.65" y1="1124.40" x2="266.65" y2="1586.60" stroke="#e6e6e6" stroke-width="1.1"/>
<line x1="293.30" y1="1124.40" x2="293.30" y2="1586.60" stroke="#e6e6e6" stroke-width="1.1"/>
<line x1="319.95" y1="1124.40" x2="319.95" y2="1586.60" stroke="#e6e6e6" stroke-width="1.1"/>
<line x1="346.60" y1="1124.40" x2="346.60" y2="1586.60" stroke="#e6e6e6" stroke-width="1.1"/>
<line x1="373.25" y1="1124.40" x2="373.25" y2="1586.60" stroke="#e6e6e6" stroke-width="1.1"/>
<line x1="399.90" y1="1124.40" x2="399.90" y2="1586.60" stroke="#e6e6e6" stroke-width="1.1"/>
<line x1="91.40" y1="1566.00" x2="417.00" y2="1566.00" stroke="#e6e6e6" stroke-width="1.1"/>
<line x1="91.40" y1="1495.40" x2="417.00" y2="1495.40" stroke="#e6e6e6" stroke-width="1.1"/>
<line x1="91.40" y1="1424.80" x2="417.00" y2="1424.80" stroke="#e6e6e6" stroke-width="1.1"/>
<line x1="91.40" y1="1354.20" x2="417.00" y2="1354.20" stroke="#e6e6e6" stroke-width="1.1"/>
<line x1="91.40" y1="1283.60" x2="417.00" y2="1283.60" stroke="#e6e6e6" stroke-width="1.1"/>
<line x1="91.40" y1="1213.00" x2="417.00" y2="1213.00" stroke="#e6e6e6" stroke-width="1.1"/>
<line x1="91.40" y1="1142.40" x2="417.00" y2="1142.40" stroke="#e6e6e6" stroke-width="1.1"/>

<path d="M117.20,1566.00 L117.20,1566.00 C146.47,1566.00 175.73,1566.00 205.00,1566.00 C206.33,1566.00 207.67,1565.78 209.00,1565.50 C209.87,1565.32 210.73,1564.75 211.60,1564.20 C212.73,1563.49 213.87,1562.87 215.00,1561.20 C215.67,1560.22 216.33,1557.88 217.00,1554.50 C217.43,1552.30 217.87,1547.57 218.30,1542.60 C218.73,1537.63 219.17,1529.01 219.60,1522.60 C220.07,1515.70 220.53,1508.57 221.00,1502.70 C221.43,1497.25 221.87,1494.70 222.30,1488.00 C222.73,1481.30 223.17,1465.84 223.60,1456.20 C224.03,1446.56 224.47,1436.78 224.90,1429.70 C225.57,1418.81 226.23,1411.95 226.90,1403.10 C227.57,1394.25 228.23,1382.78 228.90,1376.60 C229.43,1371.66 229.97,1367.43 230.50,1365.00 C230.93,1363.02 231.37,1361.13 231.80,1360.60 C232.40,1359.86 233.00,1359.30 233.60,1359.30 C234.47,1359.30 235.33,1361.42 236.20,1363.30 C237.33,1365.76 238.47,1371.91 239.60,1376.60 C240.90,1381.98 242.20,1390.26 243.50,1393.80 C245.57,1399.43 247.63,1402.93 249.70,1405.50 C251.17,1407.33 252.63,1408.27 254.10,1409.70 C255.47,1411.04 256.83,1411.79 258.20,1413.80 C259.57,1415.81 260.93,1420.89 262.30,1425.10 C263.67,1429.31 265.03,1435.85 266.40,1439.40 C268.43,1444.69 270.47,1447.14 272.50,1451.70 C273.87,1454.77 275.23,1458.29 276.60,1461.90 C278.30,1466.39 280.00,1472.36 281.70,1476.30 C283.43,1480.31 285.17,1483.72 286.90,1486.50 C288.93,1489.76 290.97,1493.18 293.00,1494.70 C294.70,1495.97 296.40,1497.40 298.10,1497.40 C299.47,1497.40 300.83,1495.10 302.20,1495.10 C303.57,1495.10 304.93,1495.10 306.30,1495.10 C308.03,1495.10 309.77,1498.80 311.50,1500.90 C313.53,1503.36 315.57,1506.50 317.60,1509.00 C320.33,1512.36 323.07,1515.84 325.80,1518.30 C328.53,1520.76 331.27,1522.90 334.00,1524.40 C336.03,1525.51 338.07,1526.89 340.10,1527.10 C342.50,1527.34 344.90,1527.26 347.30,1527.50 C349.00,1527.67 350.70,1528.79 352.40,1529.50 C355.13,1530.64 357.87,1532.00 360.60,1533.20 C363.33,1534.40 366.07,1535.60 368.80,1536.70 C371.53,1537.80 374.27,1538.99 377.00,1539.80 C379.73,1540.61 382.47,1541.80 385.20,1541.80 C387.93,1541.80 390.67,1541.80 393.40,1541.80 C396.13,1541.80 398.87,1543.50 401.60,1543.50 C404.33,1543.50 407.07,1543.50 409.80,1543.50 C412.20,1543.50 414.60,1544.17 417.00,1544.50 L417.00,1566.00 Z" fill="#ff2d00" fill-opacity="0.50" stroke="none" clip-path="url(#clipC)"/>
<path d="M117.20,1566.00 C146.47,1566.00 175.73,1566.00 205.00,1566.00 C206.33,1566.00 207.67,1565.78 209.00,1565.50 C209.87,1565.32 210.73,1564.75 211.60,1564.20 C212.73,1563.49 213.87,1562.87 215.00,1561.20 C215.67,1560.22 216.33,1557.88 217.00,1554.50 C217.43,1552.30 217.87,1547.57 218.30,1542.60 C218.73,1537.63 219.17,1529.01 219.60,1522.60 C220.07,1515.70 220.53,1508.57 221.00,1502.70 C221.43,1497.25 221.87,1494.70 222.30,1488.00 C222.73,1481.30 223.17,1465.84 223.60,1456.20 C224.03,1446.56 224.47,1436.78 224.90,1429.70 C225.57,1418.81 226.23,1411.95 226.90,1403.10 C227.57,1394.25 228.23,1382.78 228.90,1376.60 C229.43,1371.66 229.97,1367.43 230.50,1365.00 C230.93,1363.02 231.37,1361.13 231.80,1360.60 C232.40,1359.86 233.00,1359.30 233.60,1359.30 C234.47,1359.30 235.33,1361.42 236.20,1363.30 C237.33,1365.76 238.47,1371.91 239.60,1376.60 C240.90,1381.98 242.20,1390.26 243.50,1393.80 C245.57,1399.43 247.63,1402.93 249.70,1405.50 C251.17,1407.33 252.63,1408.27 254.10,1409.70 C255.47,1411.04 256.83,1411.79 258.20,1413.80 C259.57,1415.81 260.93,1420.89 262.30,1425.10 C263.67,1429.31 265.03,1435.85 266.40,1439.40 C268.43,1444.69 270.47,1447.14 272.50,1451.70 C273.87,1454.77 275.23,1458.29 276.60,1461.90 C278.30,1466.39 280.00,1472.36 281.70,1476.30 C283.43,1480.31 285.17,1483.72 286.90,1486.50 C288.93,1489.76 290.97,1493.18 293.00,1494.70 C294.70,1495.97 296.40,1497.40 298.10,1497.40 C299.47,1497.40 300.83,1495.10 302.20,1495.10 C303.57,1495.10 304.93,1495.10 306.30,1495.10 C308.03,1495.10 309.77,1498.80 311.50,1500.90 C313.53,1503.36 315.57,1506.50 317.60,1509.00 C320.33,1512.36 323.07,1515.84 325.80,1518.30 C328.53,1520.76 331.27,1522.90 334.00,1524.40 C336.03,1525.51 338.07,1526.89 340.10,1527.10 C342.50,1527.34 344.90,1527.26 347.30,1527.50 C349.00,1527.67 350.70,1528.79 352.40,1529.50 C355.13,1530.64 357.87,1532.00 360.60,1533.20 C363.33,1534.40 366.07,1535.60 368.80,1536.70 C371.53,1537.80 374.27,1538.99 377.00,1539.80 C379.73,1540.61 382.47,1541.80 385.20,1541.80 C387.93,1541.80 390.67,1541.80 393.40,1541.80 C396.13,1541.80 398.87,1543.50 401.60,1543.50 C404.33,1543.50 407.07,1543.50 409.80,1543.50 C412.20,1543.50 414.60,1544.17 417.00,1544.50" fill="none" stroke="#000" stroke-opacity="0.75" stroke-width="1.45" stroke-linejoin="round" clip-path="url(#clipC)"/>

<path d="M117.20,1566.00 L117.20,1566.00 C129.47,1566.00 141.73,1566.00 154.00,1566.00 C154.90,1566.00 155.80,1565.53 156.70,1564.80 C157.33,1564.29 157.97,1562.34 158.60,1559.00 C159.13,1556.19 159.67,1545.25 160.20,1532.00 C160.63,1521.23 161.07,1492.76 161.50,1474.20 C161.97,1454.21 162.43,1434.05 162.90,1416.40 C163.27,1402.53 163.63,1389.40 164.00,1377.80 C164.33,1367.25 164.67,1356.46 165.00,1348.90 C165.43,1339.07 165.87,1333.62 166.30,1325.00 C166.63,1318.37 166.97,1310.62 167.30,1303.50 C167.63,1296.38 167.97,1287.00 168.30,1282.30 C168.60,1278.07 168.90,1273.36 169.20,1272.70 C169.67,1271.68 170.13,1271.10 170.60,1271.10 C171.10,1271.10 171.60,1272.88 172.10,1274.60 C172.73,1276.78 173.37,1282.93 174.00,1288.10 C174.67,1293.54 175.33,1302.05 176.00,1307.30 C176.63,1312.28 177.27,1314.89 177.90,1320.00 C178.53,1325.11 179.17,1335.20 179.80,1339.30 C181.10,1347.71 182.40,1350.74 183.70,1356.60 C184.97,1362.31 186.23,1369.45 187.50,1374.00 C188.80,1378.67 190.10,1381.05 191.40,1385.50 C192.67,1389.84 193.93,1395.93 195.20,1401.00 C196.83,1407.53 198.47,1412.88 200.10,1420.20 C201.70,1427.37 203.30,1439.92 204.90,1445.30 C206.17,1449.56 207.43,1451.87 208.70,1454.90 C210.63,1459.53 212.57,1462.96 214.50,1468.00 C215.67,1471.04 216.83,1475.31 218.00,1478.50 C218.67,1480.32 219.33,1481.92 220.00,1483.60 C220.97,1486.03 221.93,1488.57 222.90,1490.80 C224.10,1493.57 225.30,1496.99 226.50,1498.50 C227.70,1500.01 228.90,1500.97 230.10,1501.70 C231.80,1502.74 233.50,1502.74 235.20,1504.00 C236.40,1504.89 237.60,1508.42 238.80,1510.20 C239.77,1511.63 240.73,1513.09 241.70,1514.00 C243.40,1515.60 245.10,1516.75 246.80,1517.60 C248.23,1518.32 249.67,1519.30 251.10,1519.30 C252.80,1519.30 254.50,1519.20 256.20,1519.20 C257.63,1519.20 259.07,1521.50 260.50,1522.70 C262.43,1524.32 264.37,1526.30 266.30,1527.70 C268.23,1529.10 270.17,1530.11 272.10,1531.30 C273.30,1532.04 274.50,1532.65 275.70,1533.50 C277.37,1534.68 279.03,1536.59 280.70,1537.80 C283.43,1539.78 286.17,1541.63 288.90,1542.80 C291.63,1543.97 294.37,1545.50 297.10,1545.50 C299.50,1545.50 301.90,1543.90 304.30,1543.90 C306.70,1543.90 309.10,1545.92 311.50,1546.90 C314.90,1548.29 318.30,1549.82 321.70,1551.00 C325.10,1552.18 328.50,1553.60 331.90,1554.10 C335.33,1554.61 338.77,1554.70 342.20,1555.10 C345.60,1555.50 349.00,1556.13 352.40,1556.60 C356.50,1557.17 360.60,1557.88 364.70,1558.20 C370.83,1558.68 376.97,1559.20 383.10,1559.20 C389.27,1559.20 395.43,1559.20 401.60,1559.20 C406.73,1559.20 411.87,1559.47 417.00,1559.60 L417.00,1566.00 Z" fill="#3ce13c" fill-opacity="0.50" stroke="none" clip-path="url(#clipC)"/>
<path d="M117.20,1566.00 C129.47,1566.00 141.73,1566.00 154.00,1566.00 C154.90,1566.00 155.80,1565.53 156.70,1564.80 C157.33,1564.29 157.97,1562.34 158.60,1559.00 C159.13,1556.19 159.67,1545.25 160.20,1532.00 C160.63,1521.23 161.07,1492.76 161.50,1474.20 C161.97,1454.21 162.43,1434.05 162.90,1416.40 C163.27,1402.53 163.63,1389.40 164.00,1377.80 C164.33,1367.25 164.67,1356.46 165.00,1348.90 C165.43,1339.07 165.87,1333.62 166.30,1325.00 C166.63,1318.37 166.97,1310.62 167.30,1303.50 C167.63,1296.38 167.97,1287.00 168.30,1282.30 C168.60,1278.07 168.90,1273.36 169.20,1272.70 C169.67,1271.68 170.13,1271.10 170.60,1271.10 C171.10,1271.10 171.60,1272.88 172.10,1274.60 C172.73,1276.78 173.37,1282.93 174.00,1288.10 C174.67,1293.54 175.33,1302.05 176.00,1307.30 C176.63,1312.28 177.27,1314.89 177.90,1320.00 C178.53,1325.11 179.17,1335.20 179.80,1339.30 C181.10,1347.71 182.40,1350.74 183.70,1356.60 C184.97,1362.31 186.23,1369.45 187.50,1374.00 C188.80,1378.67 190.10,1381.05 191.40,1385.50 C192.67,1389.84 193.93,1395.93 195.20,1401.00 C196.83,1407.53 198.47,1412.88 200.10,1420.20 C201.70,1427.37 203.30,1439.92 204.90,1445.30 C206.17,1449.56 207.43,1451.87 208.70,1454.90 C210.63,1459.53 212.57,1462.96 214.50,1468.00 C215.67,1471.04 216.83,1475.31 218.00,1478.50 C218.67,1480.32 219.33,1481.92 220.00,1483.60 C220.97,1486.03 221.93,1488.57 222.90,1490.80 C224.10,1493.57 225.30,1496.99 226.50,1498.50 C227.70,1500.01 228.90,1500.97 230.10,1501.70 C231.80,1502.74 233.50,1502.74 235.20,1504.00 C236.40,1504.89 237.60,1508.42 238.80,1510.20 C239.77,1511.63 240.73,1513.09 241.70,1514.00 C243.40,1515.60 245.10,1516.75 246.80,1517.60 C248.23,1518.32 249.67,1519.30 251.10,1519.30 C252.80,1519.30 254.50,1519.20 256.20,1519.20 C257.63,1519.20 259.07,1521.50 260.50,1522.70 C262.43,1524.32 264.37,1526.30 266.30,1527.70 C268.23,1529.10 270.17,1530.11 272.10,1531.30 C273.30,1532.04 274.50,1532.65 275.70,1533.50 C277.37,1534.68 279.03,1536.59 280.70,1537.80 C283.43,1539.78 286.17,1541.63 288.90,1542.80 C291.63,1543.97 294.37,1545.50 297.10,1545.50 C299.50,1545.50 301.90,1543.90 304.30,1543.90 C306.70,1543.90 309.10,1545.92 311.50,1546.90 C314.90,1548.29 318.30,1549.82 321.70,1551.00 C325.10,1552.18 328.50,1553.60 331.90,1554.10 C335.33,1554.61 338.77,1554.70 342.20,1555.10 C345.60,1555.50 349.00,1556.13 352.40,1556.60 C356.50,1557.17 360.60,1557.88 364.70,1558.20 C370.83,1558.68 376.97,1559.20 383.10,1559.20 C389.27,1559.20 395.43,1559.20 401.60,1559.20 C406.73,1559.20 411.87,1559.47 417.00,1559.60" fill="none" stroke="#000" stroke-opacity="0.75" stroke-width="1.45" stroke-linejoin="round" clip-path="url(#clipC)"/>

<path d="M117.20,1566.00 L117.20,1566.00 C122.13,1566.00 127.07,1566.00 132.00,1566.00 C132.83,1566.00 133.67,1565.35 134.50,1564.80 C135.13,1564.38 135.77,1563.97 136.40,1562.90 C137.07,1561.77 137.73,1557.70 138.40,1551.30 C138.83,1547.14 139.27,1534.85 139.70,1522.40 C140.10,1510.91 140.50,1494.19 140.90,1474.20 C141.20,1459.21 141.50,1436.82 141.80,1416.40 C142.07,1398.25 142.33,1376.70 142.60,1358.60 C142.80,1345.03 143.00,1327.70 143.20,1320.00 C143.53,1307.17 143.87,1306.43 144.20,1293.90 C144.37,1287.64 144.53,1268.93 144.70,1264.90 C144.97,1258.46 145.23,1254.56 145.50,1253.40 C145.90,1251.66 146.30,1250.50 146.70,1250.50 C147.13,1250.50 147.57,1253.15 148.00,1255.30 C148.63,1258.44 149.27,1266.85 149.90,1270.70 C150.57,1274.75 151.23,1276.17 151.90,1280.40 C152.53,1284.42 153.17,1292.27 153.80,1297.70 C154.43,1303.13 155.07,1308.49 155.70,1313.10 C156.67,1320.14 157.63,1325.54 158.60,1332.00 C159.23,1336.24 159.87,1341.49 160.50,1345.00 C161.80,1352.20 163.10,1356.95 164.40,1362.40 C165.70,1367.85 167.00,1372.58 168.30,1377.80 C169.57,1382.88 170.83,1387.51 172.10,1393.30 C172.73,1396.19 173.37,1399.48 174.00,1402.90 C174.67,1406.50 175.33,1411.49 176.00,1414.50 C177.27,1420.22 178.53,1423.87 179.80,1428.00 C181.73,1434.31 183.67,1440.24 185.60,1445.30 C187.53,1450.36 189.47,1454.30 191.40,1458.80 C193.33,1463.30 195.27,1467.80 197.20,1472.30 C199.13,1476.80 201.07,1481.26 203.00,1485.80 C204.90,1490.26 206.80,1495.88 208.70,1499.30 C210.00,1501.64 211.30,1503.21 212.60,1505.10 C213.87,1506.94 215.13,1508.40 216.40,1510.50 C217.60,1512.49 218.80,1515.22 220.00,1517.60 C220.97,1519.52 221.93,1522.12 222.90,1523.40 C224.33,1525.29 225.77,1526.88 227.20,1527.50 C229.63,1528.55 232.07,1528.35 234.50,1529.40 C235.93,1530.02 237.37,1532.33 238.80,1533.50 C240.50,1534.88 242.20,1536.45 243.90,1537.10 C246.30,1538.01 248.70,1538.90 251.10,1538.90 C252.80,1538.90 254.50,1538.40 256.20,1538.40 C258.10,1538.40 260.00,1540.40 261.90,1541.50 C263.27,1542.29 264.63,1543.44 266.00,1544.00 C267.53,1544.63 269.07,1544.99 270.60,1545.40 C272.30,1545.85 274.00,1546.00 275.70,1546.60 C277.13,1547.11 278.57,1548.94 280.00,1549.50 C280.93,1549.86 281.87,1550.09 282.80,1550.30 C286.20,1551.08 289.60,1551.56 293.00,1552.10 C296.77,1552.69 300.53,1552.98 304.30,1553.70 C306.70,1554.16 309.10,1555.16 311.50,1555.70 C316.93,1556.91 322.37,1557.83 327.80,1558.60 C332.60,1559.28 337.40,1559.96 342.20,1560.30 C349.03,1560.78 355.87,1561.05 362.70,1561.30 C369.50,1561.55 376.30,1561.78 383.10,1561.90 C394.40,1562.10 405.70,1562.17 417.00,1562.30 L417.00,1566.00 Z" fill="#5aebf5" fill-opacity="0.50" stroke="none" clip-path="url(#clipC)"/>
<path d="M117.20,1566.00 C122.13,1566.00 127.07,1566.00 132.00,1566.00 C132.83,1566.00 133.67,1565.35 134.50,1564.80 C135.13,1564.38 135.77,1563.97 136.40,1562.90 C137.07,1561.77 137.73,1557.70 138.40,1551.30 C138.83,1547.14 139.27,1534.85 139.70,1522.40 C140.10,1510.91 140.50,1494.19 140.90,1474.20 C141.20,1459.21 141.50,1436.82 141.80,1416.40 C142.07,1398.25 142.33,1376.70 142.60,1358.60 C142.80,1345.03 143.00,1327.70 143.20,1320.00 C143.53,1307.17 143.87,1306.43 144.20,1293.90 C144.37,1287.64 144.53,1268.93 144.70,1264.90 C144.97,1258.46 145.23,1254.56 145.50,1253.40 C145.90,1251.66 146.30,1250.50 146.70,1250.50 C147.13,1250.50 147.57,1253.15 148.00,1255.30 C148.63,1258.44 149.27,1266.85 149.90,1270.70 C150.57,1274.75 151.23,1276.17 151.90,1280.40 C152.53,1284.42 153.17,1292.27 153.80,1297.70 C154.43,1303.13 155.07,1308.49 155.70,1313.10 C156.67,1320.14 157.63,1325.54 158.60,1332.00 C159.23,1336.24 159.87,1341.49 160.50,1345.00 C161.80,1352.20 163.10,1356.95 164.40,1362.40 C165.70,1367.85 167.00,1372.58 168.30,1377.80 C169.57,1382.88 170.83,1387.51 172.10,1393.30 C172.73,1396.19 173.37,1399.48 174.00,1402.90 C174.67,1406.50 175.33,1411.49 176.00,1414.50 C177.27,1420.22 178.53,1423.87 179.80,1428.00 C181.73,1434.31 183.67,1440.24 185.60,1445.30 C187.53,1450.36 189.47,1454.30 191.40,1458.80 C193.33,1463.30 195.27,1467.80 197.20,1472.30 C199.13,1476.80 201.07,1481.26 203.00,1485.80 C204.90,1490.26 206.80,1495.88 208.70,1499.30 C210.00,1501.64 211.30,1503.21 212.60,1505.10 C213.87,1506.94 215.13,1508.40 216.40,1510.50 C217.60,1512.49 218.80,1515.22 220.00,1517.60 C220.97,1519.52 221.93,1522.12 222.90,1523.40 C224.33,1525.29 225.77,1526.88 227.20,1527.50 C229.63,1528.55 232.07,1528.35 234.50,1529.40 C235.93,1530.02 237.37,1532.33 238.80,1533.50 C240.50,1534.88 242.20,1536.45 243.90,1537.10 C246.30,1538.01 248.70,1538.90 251.10,1538.90 C252.80,1538.90 254.50,1538.40 256.20,1538.40 C258.10,1538.40 260.00,1540.40 261.90,1541.50 C263.27,1542.29 264.63,1543.44 266.00,1544.00 C267.53,1544.63 269.07,1544.99 270.60,1545.40 C272.30,1545.85 274.00,1546.00 275.70,1546.60 C277.13,1547.11 278.57,1548.94 280.00,1549.50 C280.93,1549.86 281.87,1550.09 282.80,1550.30 C286.20,1551.08 289.60,1551.56 293.00,1552.10 C296.77,1552.69 300.53,1552.98 304.30,1553.70 C306.70,1554.16 309.10,1555.16 311.50,1555.70 C316.93,1556.91 322.37,1557.83 327.80,1558.60 C332.60,1559.28 337.40,1559.96 342.20,1560.30 C349.03,1560.78 355.87,1561.05 362.70,1561.30 C369.50,1561.55 376.30,1561.78 383.10,1561.90 C394.40,1562.10 405.70,1562.17 417.00,1562.30" fill="none" stroke="#000" stroke-opacity="0.75" stroke-width="1.45" stroke-linejoin="round" clip-path="url(#clipC)"/>

<path d="M118.10,1566.00 L118.10,1329.00 C118.27,1319.33 118.43,1310.57 118.60,1300.00 C118.77,1289.43 118.93,1278.47 119.10,1265.00 C119.30,1248.84 119.50,1226.26 119.70,1207.00 C119.83,1194.16 119.97,1177.05 120.10,1168.60 C120.27,1158.04 120.43,1145.40 120.60,1145.40 C121.07,1145.40 121.53,1153.45 122.00,1158.90 C122.63,1166.29 123.27,1178.17 123.90,1187.80 C124.53,1197.43 125.17,1207.30 125.80,1216.70 C126.47,1226.60 127.13,1237.77 127.80,1245.70 C128.43,1253.23 129.07,1257.90 129.70,1264.90 C130.33,1271.90 130.97,1280.91 131.60,1288.10 C132.27,1295.67 132.93,1301.81 133.60,1309.30 C134.23,1316.42 134.87,1325.54 135.50,1332.00 C136.13,1338.46 136.77,1344.08 137.40,1348.90 C138.70,1358.79 140.00,1365.49 141.30,1374.00 C142.27,1380.33 143.23,1387.11 144.20,1393.30 C145.13,1399.28 146.07,1405.72 147.00,1410.60 C148.30,1417.40 149.60,1423.38 150.90,1428.00 C152.20,1432.62 153.50,1435.60 154.80,1439.50 C156.07,1443.30 157.33,1447.28 158.60,1451.10 C159.90,1455.02 161.20,1459.57 162.50,1462.70 C164.43,1467.36 166.37,1470.90 168.30,1474.20 C169.57,1476.37 170.83,1477.32 172.10,1480.00 C173.40,1482.75 174.70,1490.11 176.00,1493.50 C177.90,1498.45 179.80,1502.05 181.70,1505.10 C183.63,1508.21 185.57,1510.31 187.50,1512.80 C190.07,1516.11 192.63,1519.55 195.20,1522.40 C197.77,1525.25 200.33,1527.91 202.90,1530.10 C205.50,1532.32 208.10,1534.06 210.70,1535.90 C212.47,1537.15 214.23,1538.49 216.00,1539.50 C217.33,1540.26 218.67,1540.60 220.00,1541.50 C220.97,1542.16 221.93,1543.66 222.90,1544.40 C224.33,1545.50 225.77,1546.72 227.20,1547.00 C229.63,1547.48 232.07,1547.34 234.50,1547.80 C236.40,1548.16 238.30,1550.26 240.20,1550.90 C242.13,1551.55 244.07,1552.11 246.00,1552.30 C248.17,1552.51 250.33,1552.70 252.50,1552.70 C254.20,1552.70 255.90,1552.40 257.60,1552.40 C259.53,1552.40 261.47,1554.01 263.40,1554.50 C265.80,1555.11 268.20,1555.47 270.60,1555.90 C272.40,1556.22 274.20,1556.47 276.00,1556.80 C278.93,1557.33 281.87,1558.30 284.80,1558.60 C291.30,1559.26 297.80,1559.30 304.30,1559.80 C313.50,1560.50 322.70,1562.26 331.90,1562.70 C345.57,1563.35 359.23,1563.71 372.90,1563.90 C387.60,1564.10 402.30,1564.17 417.00,1564.30 L417.00,1566.00 Z" fill="#e65aff" fill-opacity="0.50" stroke="none" clip-path="url(#clipC)"/>
<path d="M118.10,1329.00 C118.27,1319.33 118.43,1310.57 118.60,1300.00 C118.77,1289.43 118.93,1278.47 119.10,1265.00 C119.30,1248.84 119.50,1226.26 119.70,1207.00 C119.83,1194.16 119.97,1177.05 120.10,1168.60 C120.27,1158.04 120.43,1145.40 120.60,1145.40 C121.07,1145.40 121.53,1153.45 122.00,1158.90 C122.63,1166.29 123.27,1178.17 123.90,1187.80 C124.53,1197.43 125.17,1207.30 125.80,1216.70 C126.47,1226.60 127.13,1237.77 127.80,1245.70 C128.43,1253.23 129.07,1257.90 129.70,1264.90 C130.33,1271.90 130.97,1280.91 131.60,1288.10 C132.27,1295.67 132.93,1301.81 133.60,1309.30 C134.23,1316.42 134.87,1325.54 135.50,1332.00 C136.13,1338.46 136.77,1344.08 137.40,1348.90 C138.70,1358.79 140.00,1365.49 141.30,1374.00 C142.27,1380.33 143.23,1387.11 144.20,1393.30 C145.13,1399.28 146.07,1405.72 147.00,1410.60 C148.30,1417.40 149.60,1423.38 150.90,1428.00 C152.20,1432.62 153.50,1435.60 154.80,1439.50 C156.07,1443.30 157.33,1447.28 158.60,1451.10 C159.90,1455.02 161.20,1459.57 162.50,1462.70 C164.43,1467.36 166.37,1470.90 168.30,1474.20 C169.57,1476.37 170.83,1477.32 172.10,1480.00 C173.40,1482.75 174.70,1490.11 176.00,1493.50 C177.90,1498.45 179.80,1502.05 181.70,1505.10 C183.63,1508.21 185.57,1510.31 187.50,1512.80 C190.07,1516.11 192.63,1519.55 195.20,1522.40 C197.77,1525.25 200.33,1527.91 202.90,1530.10 C205.50,1532.32 208.10,1534.06 210.70,1535.90 C212.47,1537.15 214.23,1538.49 216.00,1539.50 C217.33,1540.26 218.67,1540.60 220.00,1541.50 C220.97,1542.16 221.93,1543.66 222.90,1544.40 C224.33,1545.50 225.77,1546.72 227.20,1547.00 C229.63,1547.48 232.07,1547.34 234.50,1547.80 C236.40,1548.16 238.30,1550.26 240.20,1550.90 C242.13,1551.55 244.07,1552.11 246.00,1552.30 C248.17,1552.51 250.33,1552.70 252.50,1552.70 C254.20,1552.70 255.90,1552.40 257.60,1552.40 C259.53,1552.40 261.47,1554.01 263.40,1554.50 C265.80,1555.11 268.20,1555.47 270.60,1555.90 C272.40,1556.22 274.20,1556.47 276.00,1556.80 C278.93,1557.33 281.87,1558.30 284.80,1558.60 C291.30,1559.26 297.80,1559.30 304.30,1559.80 C313.50,1560.50 322.70,1562.26 331.90,1562.70 C345.57,1563.35 359.23,1563.71 372.90,1563.90 C387.60,1564.10 402.30,1564.17 417.00,1564.30" fill="none" stroke="#000" stroke-opacity="1" stroke-width="1.45" stroke-linejoin="round" clip-path="url(#clipC)"/>

<path d="M222.30,1488.00 L222.41,1486.15 L222.52,1483.99 L222.63,1481.56 L222.73,1478.92 L222.84,1476.12 L222.95,1473.20 L223.06,1470.22 L223.17,1467.24 L223.27,1464.29 L223.38,1461.44 L223.49,1458.72 L223.60,1456.20 L223.71,1453.79 L223.82,1451.38 L223.92,1448.99 L224.03,1446.62 L224.14,1444.28 L224.25,1441.99 L224.36,1439.75 L224.47,1437.58 L224.57,1435.47 L224.68,1433.45 L224.79,1431.52 L224.90,1429.70 L225.07,1427.06 L225.23,1424.56 L225.40,1422.19 L225.57,1419.93 L225.73,1417.75 L225.90,1415.63 L226.07,1413.56 L226.23,1411.51 L226.40,1409.46 L226.57,1407.39 L226.73,1405.27 L226.90,1403.10 L227.07,1400.84 L227.23,1398.49 L227.40,1396.09 L227.57,1393.67 L227.73,1391.25 L227.90,1388.85 L228.07,1386.51 L228.23,1384.25 L228.40,1382.10 L228.57,1380.09 L228.73,1378.25 L228.90,1376.60 L229.03,1375.38 L229.17,1374.19 L229.30,1373.04 L229.43,1371.94 L229.57,1370.87 L229.70,1369.86 L229.83,1368.90 L229.97,1367.99 L230.10,1367.14 L230.23,1366.36 L230.37,1365.64 L230.50,1365.00 L230.61,1364.51 L230.72,1364.03 L230.82,1363.55 L230.93,1363.10 L231.04,1362.67 L231.15,1362.26 L231.26,1361.88 L231.37,1361.54 L231.48,1361.24 L231.58,1360.97 L231.69,1360.76 L231.80,1360.60 L231.95,1360.42 L232.10,1360.25 L232.25,1360.08 L232.40,1359.93 L232.55,1359.80 L232.70,1359.67 L232.85,1359.56 L233.00,1359.47 L233.15,1359.40 L233.30,1359.34 L233.45,1359.31 L233.60,1359.30 L233.82,1359.34 L234.03,1359.47 L234.25,1359.66 L234.47,1359.92 L234.68,1360.23 L234.90,1360.60 L235.12,1361.00 L235.33,1361.43 L235.55,1361.88 L235.77,1362.35 L235.98,1362.83 L236.20,1363.30 L236.48,1363.99 L236.77,1364.81 L237.05,1365.75 L237.33,1366.80 L237.62,1367.92 L237.90,1369.11 L238.18,1370.35 L238.47,1371.61 L238.75,1372.89 L239.03,1374.16 L239.32,1375.40 L239.60,1376.60 L239.92,1378.00 L240.25,1379.50 L240.57,1381.06 L240.90,1382.66 L241.22,1384.28 L241.55,1385.89 L241.88,1387.46 L242.20,1388.96 L242.52,1390.37 L242.85,1391.67 L243.17,1392.82 L243.50,1393.80 L244.02,1395.16 L244.53,1396.44 L245.05,1397.64 L245.57,1398.77 L246.08,1399.82 L246.60,1400.80 L247.12,1401.72 L247.63,1402.58 L248.15,1403.38 L248.67,1404.13 L249.18,1404.84 L249.70,1405.50 L250.07,1405.94 L250.43,1406.35 L250.80,1406.72 L251.17,1407.08 L251.53,1407.42 L251.90,1407.75 L252.27,1408.07 L252.63,1408.38 L253.00,1408.70 L253.37,1409.02 L253.73,1409.35 L254.10,1409.70 L254.44,1410.02 L254.78,1410.33 L255.12,1410.62 L255.47,1410.91 L255.81,1411.20 L256.15,1411.50 L256.49,1411.81 L256.83,1412.14 L257.17,1412.50 L257.52,1412.89 L257.86,1413.32 L258.20,1413.80 L258.54,1414.36 L258.88,1415.04 L259.23,1415.82 L259.57,1416.69 L259.91,1417.63 L260.25,1418.62 L260.59,1419.67 L260.93,1420.75 L261.27,1421.84 L261.62,1422.94 L261.96,1424.03 L262.30,1425.10 L262.64,1426.20 L262.98,1427.37 L263.33,1428.61 L263.67,1429.89 L264.01,1431.19 L264.35,1432.50 L264.69,1433.79 L265.03,1435.05 L265.38,1436.26 L265.72,1437.40 L266.06,1438.45 L266.40,1439.40 L266.91,1440.67 L267.42,1441.83 L267.93,1442.91 L268.43,1443.93 L268.94,1444.89 L269.45,1445.82 L269.96,1446.74 L270.47,1447.66 L270.98,1448.60 L271.48,1449.57 L271.99,1450.60 L272.50,1451.70 L272.84,1452.48 L273.18,1453.27 L273.52,1454.08 L273.87,1454.91 L274.21,1455.74 L274.55,1456.60 L274.89,1457.46 L275.23,1458.33 L275.58,1459.22 L275.92,1460.10 L276.26,1461.00 L276.60,1461.90 L277.03,1463.05 L277.45,1464.25 L277.88,1465.49 L278.30,1466.75 L278.72,1468.03 L279.15,1469.31 L279.57,1470.57 L280.00,1471.81 L280.42,1473.02 L280.85,1474.18 L281.27,1475.28 L281.70,1476.30 L282.13,1477.29 L282.57,1478.26 L283.00,1479.20 L283.43,1480.11 L283.87,1481.00 L284.30,1481.86 L284.73,1482.70 L285.17,1483.51 L285.60,1484.30 L286.03,1485.06 L286.47,1485.79 L286.90,1486.50 L287.41,1487.32 L287.92,1488.13 L288.43,1488.94 L288.93,1489.74 L289.44,1490.51 L289.95,1491.25 L290.46,1491.96 L290.97,1492.62 L291.48,1493.23 L291.98,1493.79 L292.49,1494.28 L293.00,1494.70 L293.42,1495.02 L293.85,1495.34 L294.27,1495.66 L294.70,1495.97 L295.12,1496.26 L295.55,1496.53 L295.98,1496.77 L296.40,1496.98 L296.83,1497.16 L297.25,1497.29 L297.68,1497.37 L298.10,1497.40 L298.44,1497.35 L298.78,1497.23 L299.13,1497.04 L299.47,1496.80 L299.81,1496.53 L300.15,1496.25 L300.49,1495.97 L300.83,1495.70 L301.17,1495.46 L301.52,1495.27 L301.86,1495.15 L302.20,1495.10 L302.54,1495.10 L302.88,1495.10 L303.22,1495.10 L303.57,1495.10 L303.91,1495.10 L304.25,1495.10 L304.59,1495.10 L304.93,1495.10 L305.27,1495.10 L305.62,1495.10 L305.96,1495.10 L306.30,1495.10 L306.73,1495.17 L307.17,1495.38 L307.60,1495.71 L308.03,1496.14 L308.47,1496.64 L308.90,1497.21 L309.33,1497.83 L309.77,1498.46 L310.20,1499.11 L310.63,1499.74 L311.07,1500.35 L311.50,1500.90 L312.01,1501.53 L312.52,1502.18 L313.02,1502.85 L313.53,1503.54 L314.04,1504.23 L314.55,1504.94 L315.06,1505.64 L315.57,1506.34 L316.07,1507.03 L316.58,1507.70 L317.09,1508.36 L317.60,1509.00 L318.28,1509.84 L318.97,1510.68 L319.65,1511.52 L320.33,1512.36 L321.02,1513.18 L321.70,1513.99 L322.38,1514.78 L323.07,1515.54 L323.75,1516.28 L324.43,1516.99 L325.12,1517.67 L325.80,1518.30 L326.48,1518.91 L327.17,1519.50 L327.85,1520.08 L328.53,1520.64 L329.22,1521.18 L329.90,1521.71 L330.58,1522.21 L331.27,1522.70 L331.95,1523.16 L332.63,1523.60 L333.32,1524.01 L334.00,1524.40 L334.51,1524.68 L335.02,1524.97 L335.52,1525.26 L336.03,1525.55 L336.54,1525.83 L337.05,1526.09 L337.56,1526.34 L338.07,1526.56 L338.57,1526.75 L339.08,1526.91 L339.59,1527.03 L340.10,1527.10 L340.70,1527.15 L341.30,1527.20 L341.90,1527.23 L342.50,1527.26 L343.10,1527.28 L343.70,1527.30 L344.30,1527.32 L344.90,1527.34 L345.50,1527.37 L346.10,1527.40 L346.70,1527.45 L347.30,1527.50 L347.72,1527.56 L348.15,1527.66 L348.57,1527.79 L349.00,1527.94 L349.42,1528.11 L349.85,1528.30 L350.27,1528.50 L350.70,1528.70 L351.12,1528.91 L351.55,1529.12 L351.97,1529.31 L352.40,1529.50 L353.08,1529.79 L353.77,1530.09 L354.45,1530.39 L355.13,1530.70 L355.82,1531.01 L356.50,1531.33 L357.18,1531.64 L357.87,1531.96 L358.55,1532.28 L359.23,1532.59 L359.92,1532.90 L360.60,1533.20 L361.28,1533.50 L361.97,1533.80 L362.65,1534.10 L363.33,1534.40 L364.02,1534.69 L364.70,1534.99 L365.38,1535.28 L366.07,1535.57 L366.75,1535.86 L367.43,1536.14 L368.12,1536.42 L368.80,1536.70 L369.48,1536.98 L370.17,1537.25 L370.85,1537.53 L371.53,1537.81 L372.22,1538.09 L372.90,1538.36 L373.58,1538.62 L374.27,1538.88 L374.95,1539.13 L375.63,1539.37 L376.32,1539.59 L377.00,1539.80 L377.68,1540.01 L378.37,1540.23 L379.05,1540.45 L379.73,1540.68 L380.42,1540.90 L381.10,1541.10 L381.78,1541.29 L382.47,1541.46 L383.15,1541.60 L383.83,1541.71 L384.52,1541.78 L385.20,1541.80 L385.88,1541.80 L386.57,1541.80 L387.25,1541.80 L387.93,1541.80 L388.62,1541.80 L389.30,1541.80 L389.98,1541.80 L390.67,1541.80 L391.35,1541.80 L392.03,1541.80 L392.72,1541.80 L393.40,1541.80 L394.08,1541.83 L394.77,1541.93 L395.45,1542.07 L396.13,1542.24 L396.82,1542.44 L397.50,1542.65 L398.18,1542.86 L398.87,1543.06 L399.55,1543.23 L400.23,1543.37 L400.92,1543.47 L401.60,1543.50 L402.28,1543.50 L402.97,1543.50 L403.65,1543.50 L404.33,1543.50 L405.02,1543.50 L405.70,1543.50 L406.38,1543.50 L407.07,1543.50 L407.75,1543.50 L408.43,1543.50 L409.12,1543.50 L409.80,1543.50 L410.40,1543.51 L411.00,1543.55 L411.60,1543.61 L412.20,1543.69 L412.80,1543.77 L413.40,1543.88 L414.00,1543.98 L414.60,1544.09 L415.20,1544.20 L415.80,1544.31 L416.40,1544.41 L417.00,1544.50" fill="none" stroke="#000" stroke-width="1.45" stroke-linejoin="round" stroke-linecap="butt" clip-path="url(#clipC)"/>
<path d="M164.50,1362.23 L164.58,1359.78 L164.67,1357.41 L164.75,1355.12 L164.83,1352.93 L164.92,1350.86 L165.00,1348.90 L165.11,1346.53 L165.22,1344.31 L165.32,1342.23 L165.43,1340.25 L165.54,1338.35 L165.65,1336.49 L165.76,1334.67 L165.87,1332.84 L165.98,1330.99 L166.08,1329.08 L166.19,1327.09 L166.30,1325.00 L166.38,1323.32 L166.47,1321.60 L166.55,1319.84 L166.63,1318.06 L166.72,1316.25 L166.80,1314.43 L166.88,1312.60 L166.97,1310.76 L167.05,1308.93 L167.13,1307.10 L167.22,1305.29 L167.30,1303.50 L167.38,1301.68 L167.47,1299.79 L167.55,1297.85 L167.63,1295.89 L167.72,1293.93 L167.80,1292.00 L167.88,1290.11 L167.97,1288.31 L168.05,1286.60 L168.13,1285.01 L168.22,1283.57 L168.30,1282.30 L168.37,1281.23 L168.45,1280.16 L168.53,1279.11 L168.60,1278.08 L168.67,1277.09 L168.75,1276.16 L168.83,1275.30 L168.90,1274.54 L168.97,1273.88 L169.05,1273.35 L169.12,1272.95 L169.20,1272.70 L169.32,1272.45 L169.43,1272.23 L169.55,1272.02 L169.67,1271.83 L169.78,1271.66 L169.90,1271.52 L170.02,1271.39 L170.13,1271.29 L170.25,1271.21 L170.37,1271.15 L170.48,1271.11 L170.60,1271.10 L170.72,1271.14 L170.85,1271.24 L170.97,1271.40 L171.10,1271.62 L171.22,1271.89 L171.35,1272.20 L171.47,1272.55 L171.60,1272.93 L171.72,1273.33 L171.85,1273.74 L171.97,1274.17 L172.10,1274.60 L172.26,1275.23 L172.42,1276.00 L172.57,1276.90 L172.73,1277.92 L172.89,1279.04 L173.05,1280.23 L173.21,1281.49 L173.37,1282.79 L173.53,1284.12 L173.68,1285.46 L173.84,1286.79 L174.00,1288.10 L174.17,1289.52 L174.33,1291.05 L174.50,1292.66 L174.67,1294.33 L174.83,1296.04 L175.00,1297.77 L175.17,1299.50 L175.33,1301.20 L175.50,1302.85 L175.67,1304.43 L175.83,1305.92 L176.00,1307.30 L176.16,1308.50 L176.32,1309.62 L176.47,1310.67 L176.63,1311.67 L176.79,1312.65 L176.95,1313.60 L177.11,1314.56 L177.27,1315.55 L177.43,1316.56 L177.58,1317.63 L177.74,1318.77 L177.90,1320.00 L178.06,1321.37 L178.22,1322.92 L178.38,1324.59 L178.53,1326.36 L178.69,1328.19 L178.85,1330.03 L179.01,1331.85 L179.17,1333.61 L179.33,1335.27 L179.48,1336.80 L179.64,1338.16 L179.80,1339.30 L180.12,1341.29 L180.45,1343.09 L180.78,1344.73 L181.10,1346.22 L181.42,1347.60 L181.75,1348.91 L182.07,1350.15 L182.40,1351.38 L182.72,1352.61 L183.05,1353.87 L183.38,1355.19 L183.70,1356.60 L184.02,1358.05 L184.33,1359.56 L184.65,1361.09 L184.97,1362.64 L185.28,1364.19 L185.60,1365.74 L185.92,1367.25 L186.23,1368.74 L186.55,1370.17 L186.87,1371.53 L187.18,1372.81 L187.50,1374.00 L187.82,1375.12 L188.15,1376.16 L188.47,1377.14 L188.80,1378.07 L189.12,1378.96 L189.45,1379.83 L189.78,1380.70 L190.10,1381.58 L190.43,1382.48 L190.75,1383.43 L191.07,1384.43 L191.40,1385.50 L191.72,1386.62 L192.03,1387.80 L192.35,1389.04 L192.67,1390.32 L192.98,1391.64 L193.30,1392.98 L193.62,1394.33 L193.93,1395.69 L194.25,1397.05 L194.57,1398.39 L194.88,1399.71 L195.20,1401.00 L195.61,1402.61 L196.02,1404.18 L196.42,1405.73 L196.83,1407.25 L197.24,1408.78 L197.65,1410.31 L198.06,1411.85 L198.47,1413.42 L198.88,1415.03 L199.28,1416.69 L199.69,1418.41 L200.10,1420.20 L200.50,1422.10 L200.90,1424.18 L201.30,1426.39 L201.70,1428.70 L202.10,1431.06 L202.50,1433.42 L202.90,1435.75 L203.30,1438.00 L203.70,1440.12 L204.10,1442.07 L204.50,1443.81 L204.90,1445.30 L205.22,1446.33 L205.53,1447.28 L205.85,1448.17 L206.17,1449.01 L206.48,1449.80 L206.80,1450.56 L207.12,1451.29 L207.43,1452.01 L207.75,1452.72 L208.07,1453.43 L208.38,1454.16 L208.70,1454.90 L209.18,1456.03 L209.67,1457.13 L210.15,1458.19 L210.63,1459.23 L211.12,1460.27 L211.60,1461.30 L212.08,1462.33 L212.57,1463.39 L213.05,1464.48 L213.53,1465.60 L214.02,1466.77 L214.50,1468.00 L214.79,1468.78 L215.08,1469.61 L215.38,1470.47 L215.67,1471.36 L215.96,1472.27 L216.25,1473.19 L216.54,1474.12 L216.83,1475.03 L217.12,1475.94 L217.42,1476.82 L217.71,1477.68 L218.00,1478.50 L218.17,1478.95 L218.33,1479.39 L218.50,1479.83 L218.67,1480.26 L218.83,1480.68 L219.00,1481.10 L219.17,1481.52 L219.33,1481.94 L219.50,1482.35 L219.67,1482.77 L219.83,1483.18 L220.00,1483.60 L220.24,1484.21 L220.48,1484.82 L220.72,1485.44 L220.97,1486.05 L221.21,1486.67 L221.45,1487.28 L221.69,1487.88 L221.93,1488.48 L222.18,1489.08 L222.42,1489.66 L222.66,1490.24 L222.90,1490.80 L223.20,1491.50 L223.50,1492.23 L223.80,1492.96 L224.10,1493.69 L224.40,1494.41 L224.70,1495.12 L225.00,1495.80 L225.30,1496.45 L225.60,1497.05 L225.90,1497.60 L226.20,1498.08 L226.50,1498.50 L226.80,1498.87 L227.10,1499.21 L227.40,1499.53 L227.70,1499.84 L228.00,1500.12 L228.30,1500.39 L228.60,1500.64 L228.90,1500.88 L229.20,1501.10 L229.50,1501.31 L229.80,1501.51 L230.10,1501.70 L230.52,1501.94 L230.95,1502.14 L231.38,1502.32 L231.80,1502.48 L232.22,1502.62 L232.65,1502.77 L233.07,1502.91 L233.50,1503.08 L233.92,1503.26 L234.35,1503.47 L234.78,1503.71 L235.20,1504.00 L235.50,1504.27 L235.80,1504.64 L236.10,1505.09 L236.40,1505.61 L236.70,1506.17 L237.00,1506.77 L237.30,1507.38 L237.60,1508.00 L237.90,1508.61 L238.20,1509.19 L238.50,1509.72 L238.80,1510.20 L239.04,1510.56 L239.28,1510.92 L239.53,1511.27 L239.77,1511.62 L240.01,1511.96 L240.25,1512.29 L240.49,1512.62 L240.73,1512.93 L240.97,1513.22 L241.22,1513.50 L241.46,1513.76 L241.70,1514.00 L242.12,1514.39 L242.55,1514.76 L242.97,1515.12 L243.40,1515.46 L243.82,1515.78 L244.25,1516.08 L244.68,1516.37 L245.10,1516.64 L245.53,1516.90 L245.95,1517.15 L246.38,1517.38 L246.80,1517.60 L247.16,1517.78 L247.52,1517.98 L247.88,1518.17 L248.23,1518.36 L248.59,1518.55 L248.95,1518.72 L249.31,1518.88 L249.67,1519.02 L250.03,1519.14 L250.38,1519.22 L250.74,1519.28 L251.10,1519.30 L251.52,1519.30 L251.95,1519.29 L252.38,1519.28 L252.80,1519.27 L253.22,1519.26 L253.65,1519.25 L254.08,1519.24 L254.50,1519.23 L254.92,1519.22 L255.35,1519.21 L255.78,1519.20 L256.20,1519.20 L256.56,1519.25 L256.92,1519.38 L257.27,1519.58 L257.63,1519.84 L257.99,1520.15 L258.35,1520.50 L258.71,1520.87 L259.07,1521.26 L259.43,1521.65 L259.78,1522.02 L260.14,1522.38 L260.50,1522.70 L260.98,1523.11 L261.47,1523.53 L261.95,1523.97 L262.43,1524.40 L262.92,1524.84 L263.40,1525.28 L263.88,1525.72 L264.37,1526.14 L264.85,1526.56 L265.33,1526.96 L265.82,1527.34 L266.30,1527.70 L266.78,1528.04 L267.27,1528.37 L267.75,1528.68 L268.23,1528.99 L268.72,1529.29 L269.20,1529.58 L269.68,1529.86 L270.17,1530.15 L270.65,1530.43 L271.13,1530.72 L271.62,1531.01 L272.10,1531.30 L272.40,1531.48 L272.70,1531.66 L273.00,1531.84 L273.30,1532.01 L273.60,1532.18 L273.90,1532.36 L274.20,1532.54 L274.50,1532.72 L274.80,1532.90 L275.10,1533.09 L275.40,1533.29 L275.70,1533.50 L276.12,1533.81 L276.53,1534.14 L276.95,1534.50 L277.37,1534.87 L277.78,1535.25 L278.20,1535.64 L278.62,1536.03 L279.03,1536.41 L279.45,1536.79 L279.87,1537.14 L280.28,1537.48 L280.70,1537.80 L281.38,1538.29 L282.07,1538.78 L282.75,1539.25 L283.43,1539.72 L284.12,1540.17 L284.80,1540.60 L285.48,1541.02 L286.17,1541.42 L286.85,1541.80 L287.53,1542.16 L288.22,1542.49 L288.90,1542.80 L289.58,1543.10 L290.27,1543.41 L290.95,1543.71 L291.63,1544.02 L292.32,1544.31 L293.00,1544.59 L293.68,1544.84 L294.37,1545.06 L295.05,1545.24 L295.73,1545.38 L296.42,1545.47 L297.10,1545.50 L297.70,1545.47 L298.30,1545.38 L298.90,1545.25 L299.50,1545.09 L300.10,1544.90 L300.70,1544.70 L301.30,1544.50 L301.90,1544.31 L302.50,1544.15 L303.10,1544.02 L303.70,1543.93 L304.30,1543.90 L304.90,1543.94 L305.50,1544.05 L306.10,1544.23 L306.70,1544.46 L307.30,1544.73 L307.90,1545.03 L308.50,1545.35 L309.10,1545.69 L309.70,1546.02 L310.30,1546.34 L310.90,1546.63 L311.50,1546.90 L312.35,1547.25 L313.20,1547.61 L314.05,1547.96 L314.90,1548.32 L315.75,1548.68 L316.60,1549.03 L317.45,1549.38 L318.30,1549.72 L319.15,1550.06 L320.00,1550.38 L320.85,1550.70 L321.70,1551.00 L322.55,1551.30 L323.40,1551.60 L324.25,1551.91 L325.10,1552.22 L325.95,1552.51 L326.80,1552.80 L327.65,1553.08 L328.50,1553.34 L329.35,1553.57 L330.20,1553.78 L331.05,1553.96 L331.90,1554.10 L332.76,1554.22 L333.62,1554.32 L334.47,1554.41 L335.33,1554.49 L336.19,1554.57 L337.05,1554.64 L337.91,1554.71 L338.77,1554.77 L339.62,1554.85 L340.48,1554.92 L341.34,1555.01 L342.20,1555.10 L343.05,1555.20 L343.90,1555.32 L344.75,1555.44 L345.60,1555.56 L346.45,1555.69 L347.30,1555.82 L348.15,1555.96 L349.00,1556.09 L349.85,1556.22 L350.70,1556.35 L351.55,1556.48 L352.40,1556.60 L353.42,1556.74 L354.45,1556.89 L355.47,1557.04 L356.50,1557.20 L357.52,1557.34 L358.55,1557.49 L359.57,1557.63 L360.60,1557.77 L361.62,1557.89 L362.65,1558.01 L363.68,1558.11 L364.70,1558.20 L366.23,1558.32 L367.77,1558.44 L369.30,1558.56 L370.83,1558.67 L372.37,1558.78 L373.90,1558.88 L375.43,1558.97 L376.97,1559.05 L378.50,1559.11 L380.03,1559.16 L381.57,1559.19 L383.10,1559.20 L384.64,1559.20 L386.18,1559.20 L387.73,1559.20 L389.27,1559.20 L390.81,1559.20 L392.35,1559.20 L393.89,1559.20 L395.43,1559.20 L396.98,1559.20 L398.52,1559.20 L400.06,1559.20 L401.60,1559.20 L402.88,1559.21 L404.17,1559.22 L405.45,1559.24 L406.73,1559.27 L408.02,1559.31 L409.30,1559.35 L410.58,1559.39 L411.87,1559.44 L413.15,1559.48 L414.43,1559.52 L415.72,1559.56 L417.00,1559.60" fill="none" stroke="#000" stroke-width="1.45" stroke-linejoin="round" stroke-linecap="butt" clip-path="url(#clipC)"/>
<path d="M142.33,1377.60 L142.40,1372.71 L142.47,1367.91 L142.53,1363.19 L142.60,1358.60 L142.65,1355.14 L142.70,1351.56 L142.75,1347.92 L142.80,1344.27 L142.85,1340.65 L142.90,1337.10 L142.95,1333.67 L143.00,1330.41 L143.05,1327.37 L143.10,1324.59 L143.15,1322.12 L143.20,1320.00 L143.28,1317.03 L143.37,1314.48 L143.45,1312.27 L143.53,1310.32 L143.62,1308.53 L143.70,1306.84 L143.78,1305.15 L143.87,1303.38 L143.95,1301.46 L144.03,1299.29 L144.12,1296.80 L144.20,1293.90 L144.24,1292.09 L144.28,1289.86 L144.32,1287.29 L144.37,1284.49 L144.41,1281.55 L144.45,1278.56 L144.49,1275.62 L144.53,1272.82 L144.57,1270.25 L144.62,1268.01 L144.66,1266.20 L144.70,1264.90 L144.77,1263.34 L144.83,1261.89 L144.90,1260.55 L144.97,1259.31 L145.03,1258.19 L145.10,1257.17 L145.17,1256.26 L145.23,1255.46 L145.30,1254.78 L145.37,1254.21 L145.43,1253.75 L145.50,1253.40 L145.60,1252.98 L145.70,1252.58 L145.80,1252.21 L145.90,1251.88 L146.00,1251.57 L146.10,1251.30 L146.20,1251.06 L146.30,1250.87 L146.40,1250.71 L146.50,1250.59 L146.60,1250.52 L146.70,1250.50 L146.81,1250.55 L146.92,1250.71 L147.03,1250.95 L147.13,1251.27 L147.24,1251.65 L147.35,1252.09 L147.46,1252.58 L147.57,1253.10 L147.68,1253.64 L147.78,1254.20 L147.89,1254.75 L148.00,1255.30 L148.16,1256.19 L148.32,1257.26 L148.47,1258.49 L148.63,1259.83 L148.79,1261.26 L148.95,1262.73 L149.11,1264.22 L149.27,1265.69 L149.43,1267.11 L149.58,1268.44 L149.74,1269.65 L149.90,1270.70 L150.07,1271.66 L150.23,1272.53 L150.40,1273.33 L150.57,1274.08 L150.73,1274.79 L150.90,1275.48 L151.07,1276.18 L151.23,1276.91 L151.40,1277.67 L151.57,1278.49 L151.73,1279.40 L151.90,1280.40 L152.06,1281.48 L152.22,1282.70 L152.38,1284.03 L152.53,1285.46 L152.69,1286.97 L152.85,1288.52 L153.01,1290.10 L153.17,1291.69 L153.33,1293.27 L153.48,1294.81 L153.64,1296.30 L153.80,1297.70 L153.96,1299.06 L154.12,1300.41 L154.28,1301.75 L154.43,1303.08 L154.59,1304.40 L154.75,1305.71 L154.91,1307.00 L155.07,1308.27 L155.22,1309.51 L155.38,1310.74 L155.54,1311.93 L155.70,1313.10 L155.94,1314.83 L156.18,1316.49 L156.42,1318.11 L156.67,1319.69 L156.91,1321.24 L157.15,1322.76 L157.39,1324.28 L157.63,1325.79 L157.88,1327.31 L158.12,1328.84 L158.36,1330.40 L158.60,1332.00 L158.76,1333.08 L158.92,1334.19 L159.07,1335.32 L159.23,1336.47 L159.39,1337.63 L159.55,1338.77 L159.71,1339.91 L159.87,1341.01 L160.03,1342.09 L160.18,1343.11 L160.34,1344.09 L160.50,1345.00 L160.82,1346.75 L161.15,1348.41 L161.47,1349.99 L161.80,1351.50 L162.12,1352.95 L162.45,1354.36 L162.77,1355.72 L163.10,1357.07 L163.43,1358.40 L163.75,1359.72 L164.07,1361.05 L164.40,1362.40 L164.72,1363.75 L165.05,1365.07 L165.38,1366.37 L165.70,1367.65 L166.02,1368.92 L166.35,1370.19 L166.68,1371.44 L167.00,1372.70 L167.33,1373.96 L167.65,1375.23 L167.97,1376.51 L168.30,1377.80 L168.62,1379.06 L168.93,1380.31 L169.25,1381.55 L169.57,1382.79 L169.88,1384.03 L170.20,1385.29 L170.52,1386.55 L170.83,1387.84 L171.15,1389.15 L171.47,1390.50 L171.78,1391.88 L172.10,1393.30 L172.26,1394.03 L172.42,1394.78 L172.57,1395.54 L172.73,1396.32 L172.89,1397.10 L173.05,1397.90 L173.21,1398.71 L173.37,1399.53 L173.53,1400.36 L173.68,1401.20 L173.84,1402.05 L174.00,1402.90 L174.17,1403.83 L174.33,1404.80 L174.50,1405.81 L174.67,1406.84 L174.83,1407.88 L175.00,1408.92 L175.17,1409.95 L175.33,1410.95 L175.50,1411.92 L175.67,1412.84 L175.83,1413.71 L176.00,1414.50 L176.32,1415.89 L176.63,1417.20 L176.95,1418.44 L177.27,1419.63 L177.58,1420.76 L177.90,1421.85 L178.22,1422.90 L178.53,1423.94 L178.85,1424.95 L179.17,1425.96 L179.48,1426.98 L179.80,1428.00 L180.28,1429.57 L180.77,1431.12 L181.25,1432.65 L181.73,1434.17 L182.22,1435.65 L182.70,1437.12 L183.18,1438.56 L183.67,1439.97 L184.15,1441.35 L184.63,1442.70 L185.12,1444.02 L185.60,1445.30 L186.08,1446.54 L186.57,1447.74 L187.05,1448.91 L187.53,1450.05 L188.02,1451.16 L188.50,1452.26 L188.98,1453.34 L189.47,1454.42 L189.95,1455.50 L190.43,1456.59 L190.92,1457.69 L191.40,1458.80 L191.88,1459.92 L192.37,1461.05 L192.85,1462.17 L193.33,1463.30 L193.82,1464.42 L194.30,1465.55 L194.78,1466.67 L195.27,1467.80 L195.75,1468.92 L196.23,1470.05 L196.72,1471.18 L197.20,1472.30 L197.68,1473.42 L198.17,1474.55 L198.65,1475.67 L199.13,1476.79 L199.62,1477.91 L200.10,1479.04 L200.58,1480.16 L201.07,1481.28 L201.55,1482.41 L202.03,1483.54 L202.52,1484.67 L203.00,1485.80 L203.47,1486.94 L203.95,1488.11 L204.43,1489.31 L204.90,1490.52 L205.37,1491.74 L205.85,1492.94 L206.32,1494.12 L206.80,1495.27 L207.27,1496.37 L207.75,1497.42 L208.22,1498.40 L208.70,1499.30 L209.02,1499.87 L209.35,1500.41 L209.67,1500.93 L210.00,1501.42 L210.32,1501.90 L210.65,1502.37 L210.97,1502.83 L211.30,1503.28 L211.62,1503.73 L211.95,1504.18 L212.27,1504.63 L212.60,1505.10 L212.92,1505.55 L213.23,1505.99 L213.55,1506.43 L213.87,1506.85 L214.18,1507.28 L214.50,1507.70 L214.82,1508.14 L215.13,1508.58 L215.45,1509.03 L215.77,1509.50 L216.08,1509.99 L216.40,1510.50 L216.70,1511.01 L217.00,1511.55 L217.30,1512.11 L217.60,1512.69 L217.90,1513.29 L218.20,1513.90 L218.50,1514.52 L218.80,1515.14 L219.10,1515.76 L219.40,1516.38 L219.70,1517.00 L220.00,1517.60 L220.24,1518.09 L220.48,1518.61 L220.72,1519.14 L220.97,1519.67 L221.21,1520.21 L221.45,1520.74 L221.69,1521.26 L221.93,1521.76 L222.18,1522.22 L222.42,1522.66 L222.66,1523.05 L222.90,1523.40 L223.26,1523.87 L223.62,1524.32 L223.97,1524.75 L224.33,1525.17 L224.69,1525.56 L225.05,1525.93 L225.41,1526.27 L225.77,1526.58 L226.12,1526.87 L226.48,1527.11 L226.84,1527.33 L227.20,1527.50 L227.81,1527.74 L228.42,1527.93 L229.03,1528.09 L229.63,1528.23 L230.24,1528.34 L230.85,1528.45 L231.46,1528.56 L232.07,1528.67 L232.68,1528.81 L233.28,1528.97 L233.89,1529.16 L234.50,1529.40 L234.86,1529.59 L235.22,1529.84 L235.57,1530.14 L235.93,1530.48 L236.29,1530.85 L236.65,1531.24 L237.01,1531.65 L237.37,1532.06 L237.73,1532.45 L238.08,1532.83 L238.44,1533.19 L238.80,1533.50 L239.22,1533.85 L239.65,1534.20 L240.08,1534.56 L240.50,1534.91 L240.92,1535.25 L241.35,1535.58 L241.78,1535.89 L242.20,1536.19 L242.62,1536.46 L243.05,1536.71 L243.47,1536.92 L243.90,1537.10 L244.50,1537.33 L245.10,1537.55 L245.70,1537.77 L246.30,1537.97 L246.90,1538.16 L247.50,1538.34 L248.10,1538.50 L248.70,1538.64 L249.30,1538.75 L249.90,1538.83 L250.50,1538.88 L251.10,1538.90 L251.52,1538.89 L251.95,1538.86 L252.38,1538.82 L252.80,1538.77 L253.22,1538.71 L253.65,1538.65 L254.08,1538.59 L254.50,1538.53 L254.92,1538.48 L255.35,1538.44 L255.78,1538.41 L256.20,1538.40 L256.67,1538.44 L257.15,1538.55 L257.62,1538.73 L258.10,1538.96 L258.57,1539.23 L259.05,1539.54 L259.52,1539.87 L260.00,1540.21 L260.47,1540.55 L260.95,1540.89 L261.42,1541.21 L261.90,1541.50 L262.24,1541.70 L262.58,1541.92 L262.93,1542.14 L263.27,1542.37 L263.61,1542.61 L263.95,1542.84 L264.29,1543.06 L264.63,1543.28 L264.98,1543.48 L265.32,1543.68 L265.66,1543.85 L266.00,1544.00 L266.38,1544.15 L266.77,1544.29 L267.15,1544.43 L267.53,1544.55 L267.92,1544.67 L268.30,1544.78 L268.68,1544.89 L269.07,1545.00 L269.45,1545.10 L269.83,1545.20 L270.22,1545.30 L270.60,1545.40 L271.03,1545.51 L271.45,1545.60 L271.88,1545.69 L272.30,1545.78 L272.72,1545.86 L273.15,1545.94 L273.57,1546.03 L274.00,1546.12 L274.42,1546.22 L274.85,1546.33 L275.27,1546.46 L275.70,1546.60 L276.06,1546.75 L276.42,1546.95 L276.77,1547.19 L277.13,1547.45 L277.49,1547.74 L277.85,1548.03 L278.21,1548.33 L278.57,1548.61 L278.93,1548.88 L279.28,1549.13 L279.64,1549.34 L280.00,1549.50 L280.23,1549.59 L280.47,1549.67 L280.70,1549.75 L280.93,1549.82 L281.17,1549.89 L281.40,1549.96 L281.63,1550.02 L281.87,1550.08 L282.10,1550.14 L282.33,1550.19 L282.57,1550.25 L282.80,1550.30 L283.65,1550.49 L284.50,1550.67 L285.35,1550.83 L286.20,1550.99 L287.05,1551.14 L287.90,1551.29 L288.75,1551.43 L289.60,1551.57 L290.45,1551.70 L291.30,1551.83 L292.15,1551.97 L293.00,1552.10 L293.94,1552.24 L294.88,1552.37 L295.82,1552.50 L296.77,1552.62 L297.71,1552.73 L298.65,1552.85 L299.59,1552.97 L300.53,1553.10 L301.48,1553.23 L302.42,1553.37 L303.36,1553.53 L304.30,1553.70 L304.90,1553.83 L305.50,1553.97 L306.10,1554.13 L306.70,1554.30 L307.30,1554.49 L307.90,1554.67 L308.50,1554.86 L309.10,1555.05 L309.70,1555.23 L310.30,1555.40 L310.90,1555.56 L311.50,1555.70 L312.86,1556.00 L314.22,1556.28 L315.57,1556.56 L316.93,1556.82 L318.29,1557.07 L319.65,1557.32 L321.01,1557.55 L322.37,1557.78 L323.73,1557.99 L325.08,1558.20 L326.44,1558.40 L327.80,1558.60 L329.00,1558.77 L330.20,1558.94 L331.40,1559.10 L332.60,1559.27 L333.80,1559.42 L335.00,1559.58 L336.20,1559.72 L337.40,1559.86 L338.60,1559.99 L339.80,1560.10 L341.00,1560.21 L342.20,1560.30 L343.91,1560.42 L345.62,1560.52 L347.32,1560.62 L349.03,1560.72 L350.74,1560.81 L352.45,1560.89 L354.16,1560.96 L355.87,1561.04 L357.57,1561.11 L359.28,1561.17 L360.99,1561.24 L362.70,1561.30 L364.40,1561.36 L366.10,1561.42 L367.80,1561.48 L369.50,1561.54 L371.20,1561.60 L372.90,1561.65 L374.60,1561.70 L376.30,1561.75 L378.00,1561.79 L379.70,1561.83 L381.40,1561.87 L383.10,1561.90 L385.92,1561.95 L388.75,1561.99 L391.57,1562.03 L394.40,1562.06 L397.22,1562.09 L400.05,1562.12 L402.88,1562.15 L405.70,1562.18 L408.52,1562.21 L411.35,1562.24 L414.18,1562.27 L417.00,1562.30" fill="none" stroke="#000" stroke-width="1.45" stroke-linejoin="round" stroke-linecap="butt" clip-path="url(#clipC)"/>

<line x1="117.2" y1="1566.35" x2="211.6" y2="1566.35" stroke="#1a1a1a" stroke-width="0.9"/>

<line x1="90.75" y1="1124.40" x2="417.65" y2="1124.40" stroke="#000" stroke-width="1.3"/>
<line x1="90.75" y1="1586.60" x2="417.65" y2="1586.60" stroke="#000" stroke-width="1.3"/>
<line x1="91.40" y1="1124.40" x2="91.40" y2="1586.60" stroke="#000" stroke-width="1.3"/>

<line x1="133.40" y1="1586.60" x2="133.40" y2="1592.60" stroke="#000" stroke-width="1.3"/>
<text x="133.40" y="1615.50" font-size="20.2" text-anchor="middle" font-weight="normal">20</text>
<line x1="186.70" y1="1586.60" x2="186.70" y2="1592.60" stroke="#000" stroke-width="1.3"/>
<text x="186.70" y="1615.50" font-size="20.2" text-anchor="middle" font-weight="normal">30</text>
<line x1="240.00" y1="1586.60" x2="240.00" y2="1592.60" stroke="#000" stroke-width="1.3"/>
<text x="240.00" y="1615.50" font-size="20.2" text-anchor="middle" font-weight="normal">40</text>
<line x1="293.30" y1="1586.60" x2="293.30" y2="1592.60" stroke="#000" stroke-width="1.3"/>
<text x="293.30" y="1615.50" font-size="20.2" text-anchor="middle" font-weight="normal">50</text>
<line x1="346.60" y1="1586.60" x2="346.60" y2="1592.60" stroke="#000" stroke-width="1.3"/>
<text x="346.60" y="1615.50" font-size="20.2" text-anchor="middle" font-weight="normal">60</text>
<line x1="399.90" y1="1586.60" x2="399.90" y2="1592.60" stroke="#000" stroke-width="1.3"/>
<text x="399.90" y="1615.50" font-size="20.2" text-anchor="middle" font-weight="normal">70</text>

<line x1="85.40" y1="1566.00" x2="91.40" y2="1566.00" stroke="#000" stroke-width="1.3"/>
<text x="77.10" y="1572.70" font-size="20.2" text-anchor="end" font-weight="normal">0.00</text>
<line x1="85.40" y1="1424.80" x2="91.40" y2="1424.80" stroke="#000" stroke-width="1.3"/>
<text x="77.10" y="1431.50" font-size="20.2" text-anchor="end" font-weight="normal">0.05</text>
<line x1="85.40" y1="1283.60" x2="91.40" y2="1283.60" stroke="#000" stroke-width="1.3"/>
<text x="77.10" y="1290.30" font-size="20.2" text-anchor="end" font-weight="normal">0.10</text>
<line x1="85.40" y1="1142.40" x2="91.40" y2="1142.40" stroke="#000" stroke-width="1.3"/>
<text x="77.10" y="1149.10" font-size="20.2" text-anchor="end" font-weight="normal">0.15</text>

<line x1="460.67" y1="1124.40" x2="460.67" y2="1586.60" stroke="#e6e6e6" stroke-width="1.1"/>
<line x1="484.30" y1="1124.40" x2="484.30" y2="1586.60" stroke="#e6e6e6" stroke-width="1.1"/>
<line x1="507.93" y1="1124.40" x2="507.93" y2="1586.60" stroke="#e6e6e6" stroke-width="1.1"/>
<line x1="531.57" y1="1124.40" x2="531.57" y2="1586.60" stroke="#e6e6e6" stroke-width="1.1"/>
<line x1="555.20" y1="1124.40" x2="555.20" y2="1586.60" stroke="#e6e6e6" stroke-width="1.1"/>
<line x1="578.83" y1="1124.40" x2="578.83" y2="1586.60" stroke="#e6e6e6" stroke-width="1.1"/>
<line x1="602.46" y1="1124.40" x2="602.46" y2="1586.60" stroke="#e6e6e6" stroke-width="1.1"/>
<line x1="626.10" y1="1124.40" x2="626.10" y2="1586.60" stroke="#e6e6e6" stroke-width="1.1"/>
<line x1="459.40" y1="1565.80" x2="651.40" y2="1565.80" stroke="#e6e6e6" stroke-width="1.1"/>
<line x1="459.40" y1="1505.03" x2="651.40" y2="1505.03" stroke="#e6e6e6" stroke-width="1.1"/>
<line x1="459.40" y1="1444.26" x2="651.40" y2="1444.26" stroke="#e6e6e6" stroke-width="1.1"/>
<line x1="459.40" y1="1383.49" x2="651.40" y2="1383.49" stroke="#e6e6e6" stroke-width="1.1"/>
<line x1="459.40" y1="1322.72" x2="651.40" y2="1322.72" stroke="#e6e6e6" stroke-width="1.1"/>
<line x1="459.40" y1="1261.95" x2="651.40" y2="1261.95" stroke="#e6e6e6" stroke-width="1.1"/>
<line x1="459.40" y1="1201.18" x2="651.40" y2="1201.18" stroke="#e6e6e6" stroke-width="1.1"/>
<line x1="459.40" y1="1140.41" x2="651.40" y2="1140.41" stroke="#e6e6e6" stroke-width="1.1"/>

<line x1="459.40" y1="1565.9" x2="626.7" y2="1565.9" stroke="#000" stroke-width="1.6"/>

<line x1="458.75" y1="1124.40" x2="652.05" y2="1124.40" stroke="#000" stroke-width="1.3"/>
<line x1="651.40" y1="1124.40" x2="651.40" y2="1586.60" stroke="#000" stroke-width="1.3"/>
<line x1="458.75" y1="1586.60" x2="652.05" y2="1586.60" stroke="#000" stroke-width="1.3"/>

<line x1="484.30" y1="1586.60" x2="484.30" y2="1592.60" stroke="#000" stroke-width="1.3"/>
<text x="484.30" y="1615.50" font-size="20.2" text-anchor="middle" font-weight="normal">400</text>
<line x1="531.57" y1="1586.60" x2="531.57" y2="1592.60" stroke="#000" stroke-width="1.3"/>
<text x="531.57" y="1615.50" font-size="20.2" text-anchor="middle" font-weight="normal">450</text>
<line x1="578.83" y1="1586.60" x2="578.83" y2="1592.60" stroke="#000" stroke-width="1.3"/>
<text x="578.83" y="1615.50" font-size="20.2" text-anchor="middle" font-weight="normal">500</text>
<line x1="626.10" y1="1586.60" x2="626.10" y2="1592.60" stroke="#000" stroke-width="1.3"/>
<text x="626.10" y="1615.50" font-size="20.2" text-anchor="middle" font-weight="normal">550</text>

<line x1="422" y1="1178.00" x2="441" y2="1178.00" stroke="#aaaaaa" stroke-width="1.5"/>

<polygon points="440,1171.50 452.5,1178.00 440,1184.50" fill="#aaaaaa"/>

<line x1="422" y1="1260.40" x2="441" y2="1260.40" stroke="#aaaaaa" stroke-width="1.5"/>

<polygon points="440,1253.90 452.5,1260.40 440,1266.90" fill="#aaaaaa"/>

<line x1="422" y1="1343.10" x2="441" y2="1343.10" stroke="#aaaaaa" stroke-width="1.5"/>

<polygon points="440,1336.60 452.5,1343.10 440,1349.60" fill="#aaaaaa"/>

<line x1="422" y1="1424.90" x2="441" y2="1424.90" stroke="#aaaaaa" stroke-width="1.5"/>

<polygon points="440,1418.40 452.5,1424.90 440,1431.40" fill="#aaaaaa"/>

<line x1="422" y1="1507.90" x2="441" y2="1507.90" stroke="#aaaaaa" stroke-width="1.5"/>

<polygon points="440,1501.40 452.5,1507.90 440,1514.40" fill="#aaaaaa"/>

<text x="371.4" y="1645.2" font-size="20.6" text-anchor="middle">PM<tspan font-size="15.5" dy="7.6">2.5</tspan><tspan dy="-7.6"> (in µg/m</tspan><tspan font-size="15.5" dy="-7">3</tspan><tspan dy="7">)</tspan></text>

<text transform="translate(21,1355.5) rotate(-90)" font-size="20.6" text-anchor="middle">Density</text>

<text x="0" y="1132.1" font-size="28" font-weight="bold">C</text>
<text x="680.20" y="1293.70" font-size="20.6" text-anchor="start" font-weight="normal">Threshold</text>
<rect x="680.85" y="1309.65" width="23.2" height="23.2" fill="#ff967f" stroke="#000" stroke-width="1.5"/>
<text x="717.5" y="1328.00" font-size="20.6">PM<tspan font-size="15.5" dy="7.6">2.5</tspan><tspan dy="-7.6"> &gt; 99P</tspan></text>
<rect x="680.85" y="1341.70" width="23.2" height="23.2" fill="#9df09d" stroke="#000" stroke-width="1.5"/>
<text x="717.5" y="1360.05" font-size="20.6">PM<tspan font-size="15.5" dy="7.6">2.5</tspan><tspan dy="-7.6"> &gt; 97P</tspan></text>
<rect x="680.85" y="1373.75" width="23.2" height="23.2" fill="#acf5fa" stroke="#000" stroke-width="1.5"/>
<text x="717.5" y="1392.10" font-size="20.6">PM<tspan font-size="15.5" dy="7.6">2.5</tspan><tspan dy="-7.6"> &gt; 95P</tspan></text>
<rect x="680.85" y="1405.80" width="23.2" height="23.2" fill="#f2acff" stroke="#000" stroke-width="1.5"/>
<text x="717.5" y="1424.15" font-size="20.6">PM<tspan font-size="15.5" dy="7.6">2.5</tspan><tspan dy="-7.6"> &gt; 90P</tspan></text>

</svg>
</body></html>
